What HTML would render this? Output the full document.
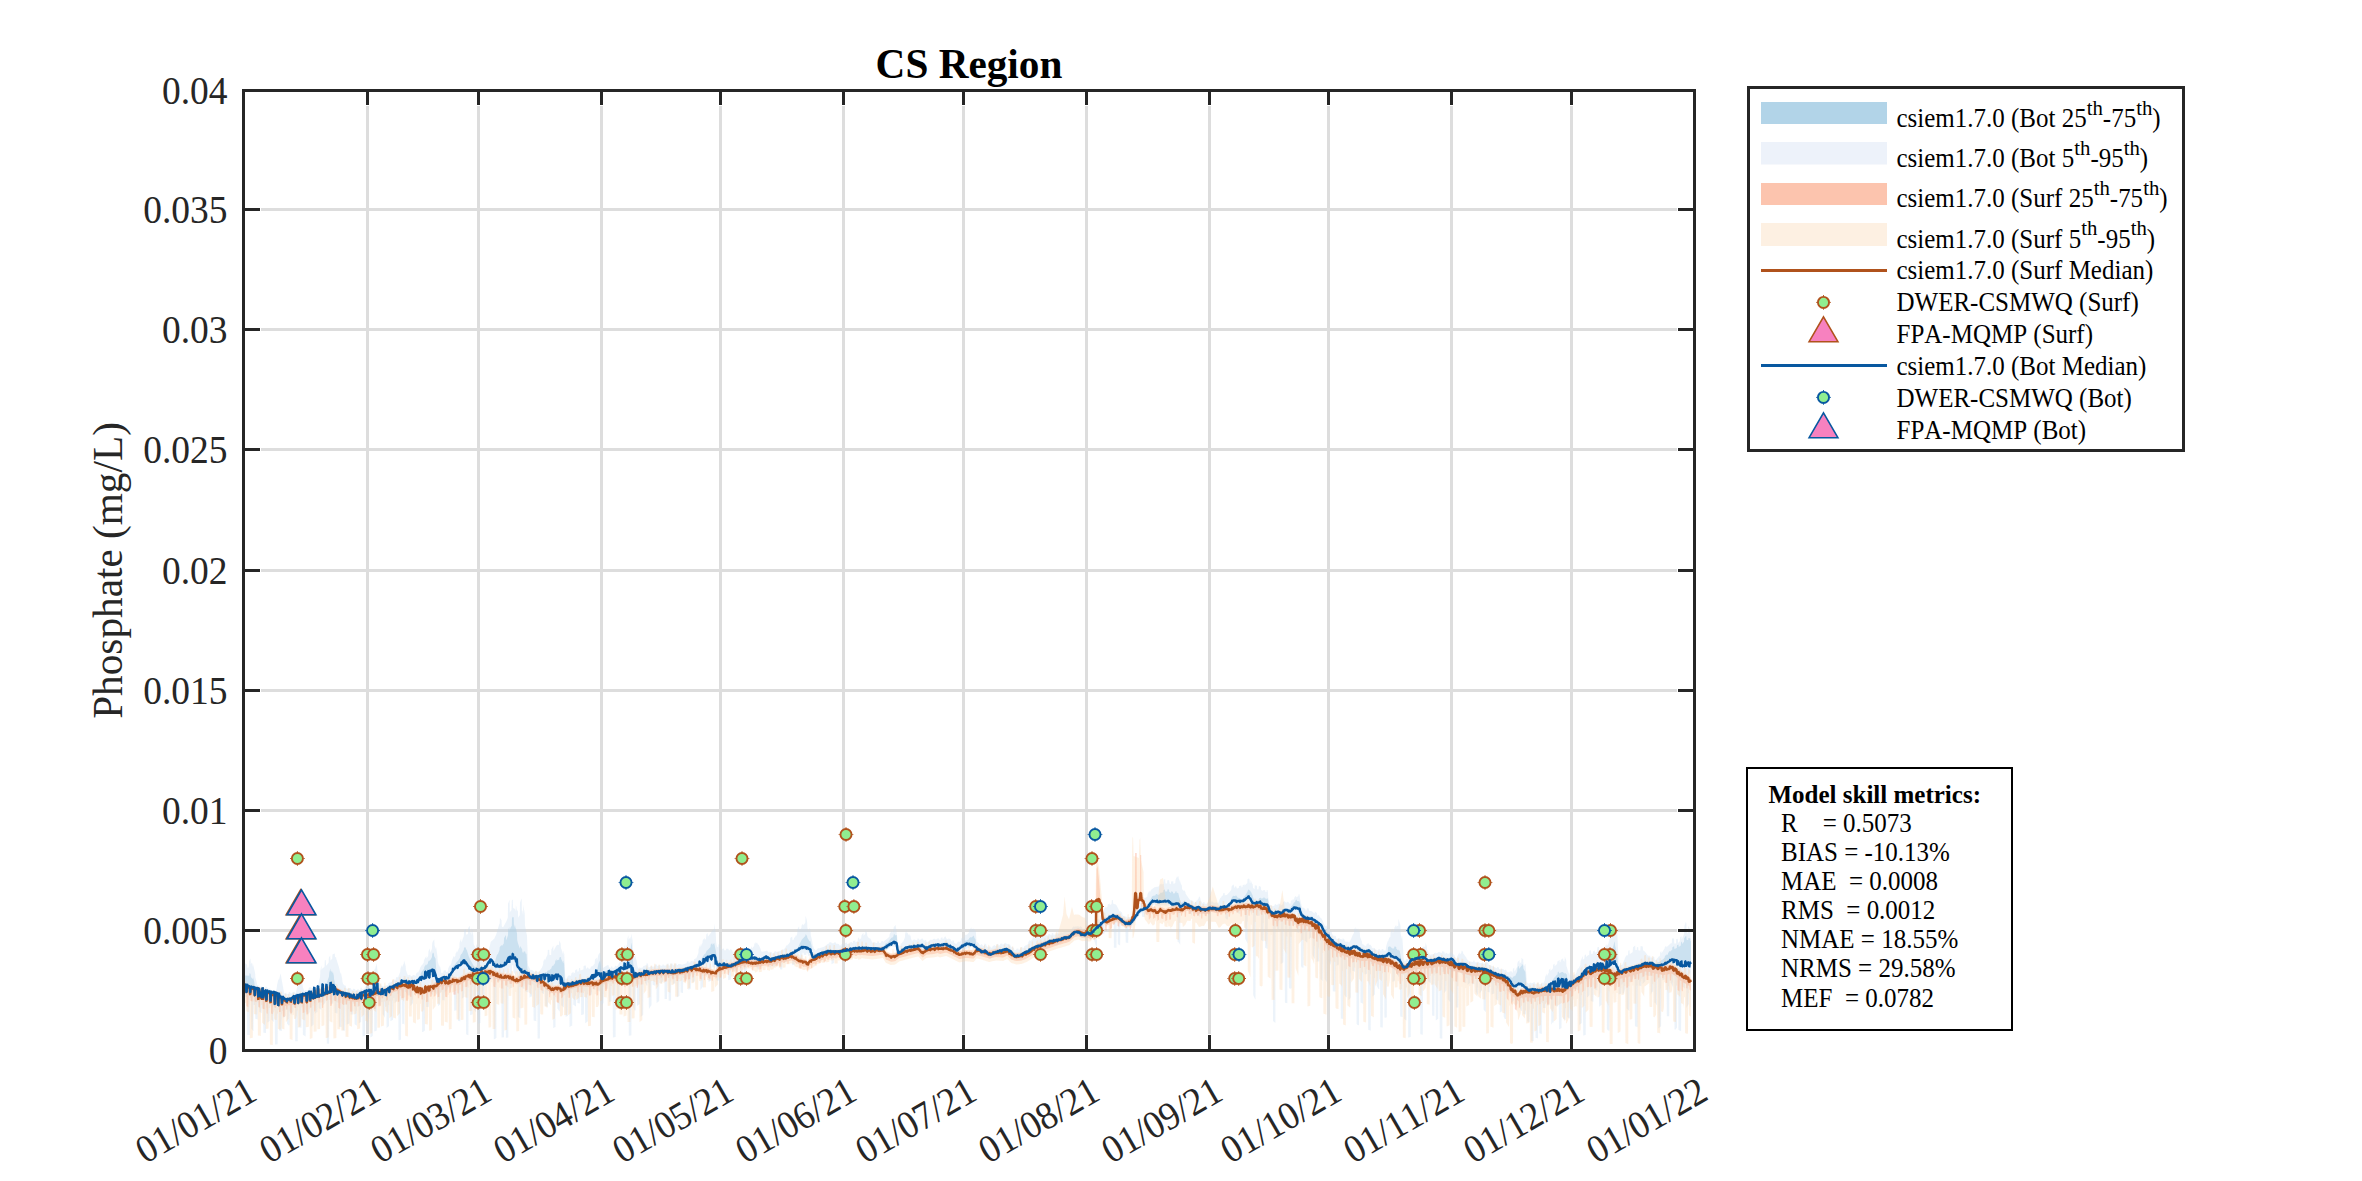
<!DOCTYPE html>
<html><head><meta charset="utf-8"><title>CS Region</title>
<style>html,body{margin:0;padding:0;background:#fff;overflow:hidden}body{width:2362px;height:1181px;font-family:"Liberation Serif",serif}</style>
</head><body>
<svg width="2362" height="1181" viewBox="0 0 2362 1181" style="display:block;font-family:'Liberation Serif',serif;font-kerning:none;font-variant-ligatures:none">
<rect width="2362" height="1181" fill="#fff"/>
<path d="M367.5 106V1034M478.5 106V1034M601.5 106V1034M720.5 106V1034M843.5 106V1034M963.5 106V1034M1086.5 106V1034M1209.5 106V1034M1328.5 106V1034M1451.5 106V1034M1571.5 106V1034M261 930.5H1677M261 810.5H1677M261 690.5H1677M261 570.5H1677M261 449.5H1677M261 329.5H1677M261 209.5H1677" stroke="#dddddd" stroke-width="3" fill="none"/>
<clipPath id="cp"><rect x="245" y="92" width="1448" height="957"/></clipPath>
<defs><g id="cs"><circle r="5.55" fill="#90ee90" stroke="#b0521c" stroke-width="1.9"/><path d="M0 -6.3V-7.3M0 6.3V7.3M-6.3 0H-7.3M6.3 0H7.3" stroke="#b0521c" stroke-width="1" fill="none"/></g><g id="cb"><circle r="5.55" fill="#90ee90" stroke="#0858a0" stroke-width="1.9"/><path d="M0 -6.3V-7.3M0 6.3V7.3M-6.3 0H-7.3M6.3 0H7.3" stroke="#0858a0" stroke-width="1" fill="none"/></g></defs>
<g clip-path="url(#cp)">
<path d="M244.6 975.4L245.2 975.5L249.3 975.7L249.5 973.3L250 973.3L250.2 973.6L250.6 974.3L250.9 976.9L252.8 979.2L253 977.3L253 977.2L254.3 982.2L254.5 984.5L256 989.3L256.7 989.6L260.3 990.9L260.8 991L261 990.9L261.9 991.2L262.2 991.4L264.8 992.2L265.1 992L266 992.3L266.3 992.6L269.1 993.5L269.3 993.2L270.5 993.6L271 993.8L271.2 994.2L272.8 994.8L276.8 996.3L277.1 996.2L278.2 996.7L278.5 996.9L278.6 997L280.9 997.4L281.1 997.1L283.1 997.5L283.3 998L284.5 998.2L285.7 998.5L288.8 998L288.8 998L289.1 997.6L290.1 997.4L290.3 997.7L292.5 997.4L295.9 997L296.6 996.8L296.9 996.4L297.9 996.2L298.2 996.5L300.9 995.9L301.2 995.5L302.6 995.3L302.8 995.6L305 995.1L305.2 994.9L306 994.7L306.2 994.6L306.5 994.7L309.2 993.6L309.5 993.1L311.4 992.4L311.6 992.7L312.7 992.3L312.9 992L314.9 991.2L315.1 991.3L316.2 990.9L316.5 990.8L316.7 990.5L317.9 990.1L318.2 990.3L320.3 989.6L320.6 989.3L321.6 989L321.8 989.2L324.6 988.3L325 988.2L326.4 984.2L329 976.4L329 976.3L329.3 972.5L330.4 968.5L330.6 971.5L331 970.4L332.4 973.3L332.5 972.8L332.7 970.9L333.8 975.5L334 978.5L334 979L336.5 989.5L337 991L337.1 991L337.3 990.8L339.3 991.1L339.5 991.5L340.2 991.6L340.4 991.3L342.5 991.7L342.7 992.1L344.9 992.5L345.1 992.4L346.7 992.7L346.8 992.7L347 993L348.1 993.2L348.4 992.8L349.6 993.1L349.8 993.5L352.3 994L352.6 993.9L354.6 994.3L354.8 994.5L356.4 994.8L356.7 994.6L356.9 994.7L357.7 994.4L357.9 994.6L360.1 994L360.4 993.5L361.7 993.1L362 993.5L364 992.9L364.6 992.6L364.9 992.4L366.5 991.8L366.7 991.9L368.8 991.1L372.1 989.8L372.4 989.3L372.6 988.5L374.4 985.5L374.7 985.5L375.1 984.8L376.4 983L376.7 982.7L378.2 988.8L380.2 989.8L380.6 989.9L380.9 989.6L382.9 990L383.1 990.4L384.7 990.7L384.9 990.4L385.3 990.5L386.3 989.6L386.6 989.8L388.4 988.4L388.7 987.8L390 986.7L390.3 986.9L390.4 986.8L392.4 985.6L392.7 985.1L394.8 983.9L395 984.1L396.5 983.3L396.7 982.8L397.5 982.3L398.3 981.8L398.6 982L400.5 980.7L400.7 980.3L401.7 979.7L401.9 979.8L403.6 978.7L404.4 979.1L404.6 978.8L406.1 979.5L406.4 980.1L407.6 980.7L407.7 980.7L408 980.5L409.2 980.3L409.5 980.5L412.6 980.2L412.8 979.8L414.5 979.6L414.7 980L416.3 979.8L416.5 979.4L417.7 979.3L417.8 979.5L417.9 979.6L418 979.5L420.5 974.9L420.7 973.8L422.1 971.1L422.3 971.3L422.9 970.3L424.1 968.8L424.3 967L426 964.6L426.2 964.2L426.5 965.6L427.9 963.6L428 962.8L428.1 961.9L429.2 960.1L429.4 961.3L431 959L432 956.9L432.2 954.3L433 952.4L433.1 952.4L433.9 953.7L434.1 956.3L435.5 958.4L435.6 959.8L436.5 975L436.5 975.5L436.7 976.1L437.6 979L438.2 978.8L438.4 978.8L439.6 978.3L439.8 978L441.6 977.2L441.8 977.3L443.2 976.6L443.5 976.6L443.8 976.4L444.8 976.2L445.1 976.3L447.7 975.7L447.9 975.4L448.3 975.3L449 974.1L449.3 974.1L452 969.7L452 969.6L452.3 968.6L453.4 965.9L454 965.1L454.2 965.5L455.6 963.8L455.9 963.1L457.3 961.2L457.6 961.3L458.4 960.2L460 957.8L460.1 957.6L460.3 956.1L461.4 953.5L461.7 954.2L463.9 949.6L464 948L464.1 947.5L465.8 947.4L466 949.5L466.6 949.6L468.2 954.6L468.6 955.9L470 959.3L471.8 962.4L473.7 965.8L476 967.9L476.1 967.9L477.8 967.5L479.5 967.5L479.7 967.2L480.2 967.2L481.5 966.6L481.7 966.9L483.4 966.2L485.2 965.5L488 962L490.8 958.3L491.3 959L491.5 959L492 959.6L492.9 960.1L493.2 960.8L494.4 961.6L495.2 961.1L495.4 960.2L495.4 959.9L497.3 953.7L497.6 955.1L499.5 950L499.7 947.6L500 946.7L500.5 946.3L501.6 944.7L501.8 946.3L503.8 943.5L504.1 938.1L506 935.1L506 935.8L506.2 940.1L506.6 939.5L508 935.3L508.2 930.2L509.2 927L509.5 931L510.6 927.6L511 927.1L511.8 925.7L512 918.3L512.7 916.8L513.7 917.4L513.9 924.6L514 924.6L515.2 928.6L515.3 929.5L515.6 925.2L516 928.5L517 933.5L517.2 940.1L517.8 942.8L519.8 948.7L520 946.9L520.1 945.9L521.8 948.8L522.1 948.9L522.4 952.3L523.5 952.7L523.8 951.3L525.3 951.8L525.5 953.4L526.5 953.7L526.9 960.5L527.5 970.4L527.5 971.1L527.7 971L529.1 972.4L529.3 973L531 974.6L531.6 974.8L531.9 974.6L532.8 975L533.1 975.3L535.8 976.2L536 976.1L537.1 976.5L537.3 976.4L537.5 976.5L539.7 975.8L539.9 975.5L541.9 974.8L542.1 974.9L543 974.7L543.2 974.5L543.5 974.3L543.7 973.6L545.7 972L546 972.7L547 972L547 972L547.3 971.1L548.5 970L548.7 970.7L551.3 968.6L551.4 968.4L551.7 967.1L552 966.5L552.7 965.5L552.9 966.3L555 963.3L555.3 960.9L556.4 959.1L556.7 961.1L557 960.7L557.4 960.1L559.2 959.7L559.4 957.5L561 957L561.2 959.3L561.4 959.3L561.4 959.3L563.4 963.4L563.6 960.4L564 961.3L564.5 972.3L565 982.8L565.1 982.8L565.4 983L566.9 982.7L567.2 982.3L569 981.9L569.2 982.2L571 981.8L571.2 981.4L571.6 981.3L573.3 981L573.5 981.3L574.8 981.1L575 980.8L576.2 980.6L576.5 980.7L579.4 980.2L579.7 979.9L581.1 979.6L581.4 979.8L581.8 979.7L583.3 979.3L583.5 978.9L584.5 978.7L584.7 979L587.5 978.2L587.8 977.8L588.8 977.6L589.1 977.9L589.9 977.7L591.2 976.3L591.5 975.9L592.6 974.8L592.9 974.7L595 972.6L595.1 972.5L595.3 972.1L596.8 970.8L597 970.8L597.1 970.4L598.5 963.7L598.7 963.3L600 960.6L602 975.5L602.1 975.6L602.6 975.1L602.8 974.4L604.9 972.2L605.1 972.3L606.7 970.5L606.9 970.6L607.2 970.4L608.7 971L608.9 971.4L611.1 972.2L611.4 972L612.2 972.3L613.3 971.8L613.5 971.9L614.8 971.3L615.1 970.9L616.2 970.3L616.5 970.5L618.3 969.5L619.2 968.6L619.5 968L621.4 966.1L621.6 966.2L622.4 965.5L622.8 965.3L623 964.8L624.6 964.3L624.9 964.6L626.6 964.1L626.9 963.6L628 963.2L628.5 959.6L628.8 957.6L629.1 957.8L630.7 950.5L631 945.7L631.5 942.6L632.6 954.3L632.9 958.8L633.2 963.5L634 972.1L634.6 973.6L635 973.5L635.3 973.3L636.7 972.9L636.9 973L638.7 972.6L639 972.2L639.9 971.9L640.1 972.2L642.5 971.6L642.7 971.3L642.7 971.3L644.8 969.8L645 969.8L646.8 968.5L646.8 968.5L647 968.4L648.6 970.7L648.8 971.5L648.8 971.6L650.9 971.2L654.9 970.5L655.1 970.4L656.3 970.1L656.6 970.3L658 970L658.5 970L658.8 969.6L659.8 969.6L660 970L662.6 969.9L662.9 969.4L664.9 969.4L665.2 969.8L666.9 969.7L667.1 969.4L668.1 969.3L668.4 969.7L671 969.6L671.2 969.4L672.3 969.4L672.6 969.5L673.2 969.5L674.6 969.4L678.6 969L678.9 968.6L680.2 968.5L680.4 968.8L682.3 968.6L682.5 968.4L683.4 968.4L684.3 968.1L684.5 968.2L686 967.7L686.3 967.4L687.4 967.1L687.6 967.2L690.7 966.3L693.5 965.5L694.8 964.7L695 964.1L696.5 963.3L696.7 963.5L698.4 962.5L698.6 962.2L698.7 962.1L700 961.3L700.7 960.2L700.9 960.2L702.7 957.6L702.9 956.5L703.7 955.2L704.5 953.8L704.8 954.5L706 952.6L706 952.6L706.3 951.5L707.3 949.9L707.5 950.4L707.8 950L710 947.5L710.2 947.4L710.5 947.1L710.7 944.8L712.2 943L712.4 944.9L714.2 942.9L714.2 942.9L714.5 944.5L716 951.9L716.8 957.3L718 961.5L718.3 961.8L718.5 962.8L719.3 962.7L719.5 963L722.1 962.6L722.4 962.3L723.4 962.1L723.6 962.1L723.8 962.5L726.3 963L726.6 962.9L728.4 963.3L728.6 963.5L730.5 963.9L730.6 963.9L730.8 963.7L732.8 963.2L733 963.3L734.1 963L734.3 962.7L734.5 962.6L736 961.4L736.2 961.4L737.7 960.1L738 959.6L738.6 959L739.7 958.6L740 958.8L742.1 957.9L742.3 957.4L743.5 956.9L743.8 957.2L745.7 956.3L745.7 956.3L745.9 956L747 956L747.2 956.3L749.8 956.3L750 955.9L751.5 955.9L751.7 956.3L754.2 956.3L754.4 956L754.9 956L756.5 956.6L756.8 956.9L758.4 957.5L758.7 957.4L760.1 957.9L760.3 958.1L761 958.3L761.6 958L761.8 957.5L762.8 956.9L763.1 957.1L765.8 955.5L766 955.1L766 955.1L767.9 956L768.1 956.3L769.5 957L769.8 956.8L771.1 957.5L771.1 957.6L771.3 957.8L773.6 957.1L773.8 956.8L775.2 956.4L775.4 956.6L778.1 955.7L781.3 954.8L781.8 954.7L782.1 954.4L783.9 954.1L784.2 954.2L786.3 953.9L786.5 953.6L788.5 953.2L788.7 953.4L789.4 953.3L789.7 953.1L789.9 952.7L791.3 951.8L791.6 951.8L794.1 950.2L794.3 949.7L795.5 948.9L795.9 948.7L796.1 948.8L798 947.8L798 947.7L798.3 947L800.2 942.6L800.5 942.5L801.6 940.1L801.8 939.8L802 939.5L805.3 935.9L805.5 934.5L805.7 934.3L806.7 935.6L807.1 936.3L807.4 937.8L809 940.4L809.9 941.6L810.2 940.4L810.2 940.5L811.5 945.4L812.1 951.4L812.4 954.1L812.5 955L812.8 955.8L813.9 955.2L814.1 954.9L815.8 954.1L816.1 954.2L817.7 953.4L817.9 953L819.7 952.1L819.9 952.2L820 952.2L821.8 951.7L822 951.2L823.5 950.8L823.8 951L826 950.3L826.2 949.9L827.6 949.5L827.9 949.7L828 949.7L829.9 949.8L830.1 949.4L832 949.5L832.3 949.9L833.6 950L833.8 949.8L835.6 949.9L835.8 950.1L837.2 950.2L837.2 950.2L841.2 949.4L841.5 948.9L842.9 948.7L843.1 949L845.3 948.6L845.5 948.2L846.6 948L846.8 948.3L847.3 948.2L849 947.8L849.3 947.4L850.7 947.1L851 947.5L853 947L853.3 946.8L854.4 946.6L854.7 946.7L857.5 946.2L857.7 945.9L858.9 945.9L859.2 946.2L861.6 946.2L861.9 945.8L863.1 945.8L863.4 946.1L864.6 946.2L865.1 946.2L869.8 946.8L870 946.7L871.5 946.9L871.7 947L872.7 947.2L873.6 947.2L873.8 946.9L875.2 946.9L875.5 947.2L877.7 947.2L878 947L879.7 947L879.9 947.2L881.1 947.2L881.4 946.8L882 946.8L882.9 946.5L883.2 946.2L883.5 946.3L884.9 945L885.1 944.1L886.4 942.9L886.7 943.3L888 942.2L889.3 940.9L889.6 940L890 939.5L891.7 937.5L891.9 938.1L893.4 936.4L893.7 934.8L894.1 934.3L894.6 934.1L894.8 935.5L896.6 934.9L896.6 935L896.8 936.8L897 939.5L897.6 947.5L898.1 951.1L898.2 951L898.5 951L901.1 949.4L901.4 948.8L903.4 947.6L903.6 947.8L905.4 946.7L906.3 946.2L908.8 945.6L909 945.4L910.6 945L910.9 945.2L912.9 944.7L913.1 944.5L913.4 944.4L914.4 944.3L914.6 944.5L917.2 944.2L917.5 944L918.8 943.9L919.1 944L921 943.8L921.2 943.4L922.5 943.3L923.3 943.9L923.5 944.4L924.9 945.4L925.1 945.3L926.6 946.4L926.9 946.2L927.1 946.4L928.5 945.7L928.7 945.4L930.8 944.3L931.1 944.4L931.7 944.1L932.7 944L933 943.7L934.3 943.5L934.6 943.7L936.8 943.4L937 943.2L937.8 943.1L938.1 942.9L938.8 943.2L939 943.5L940.2 944.1L940.7 943.9L941 943.4L943 942.6L943.2 942.9L945.2 942.1L945.2 942L945.4 942L946.4 942.5L946.7 942.8L949 944L949.3 943.7L950.3 944.2L950.4 944.3L950.6 944.8L952.4 945.9L952.7 945.9L953.8 946.6L954.1 946.9L956.4 948.3L956.6 948.2L956.9 948.4L958.6 946.7L958.9 946.7L960.5 945.1L961 944.9L961.3 944.5L962 944.2L963.1 943.1L963.4 943.2L964.3 942.4L964.5 941.5L965.9 940.1L966.1 940.7L966.6 940.4L968 939.8L968.9 939.2L969.1 938.3L970.7 937.1L971 937.8L972.7 936.6L972.8 936.7L973 935.8L973.1 935.5L974.1 936.6L974.4 938.1L975.5 939.2L976.3 946.2L977 946.9L977.2 946.7L977.8 947.3L978.9 947.9L979.1 948.5L980.7 949.4L980.9 949.4L982.2 950.2L982.5 950.5L982.8 950.7L984.9 949.2L985.1 949.3L985.3 949.1L986.8 950.2L987.1 950.7L989 952.1L989.3 952.1L990 952.6L990.9 952.1L991.2 952.1L992.6 951.4L992.9 950.9L994.6 950L994.9 950.3L995 950.2L996.5 949.9L1000.5 949.3L1000.8 949L1001.1 949L1002.4 948.6L1002.6 948.7L1005 948L1005.2 947.8L1006.2 947.5L1007.1 947.9L1007.3 948.2L1008.3 948.7L1008.5 948.5L1010.3 949.4L1010.5 949.6L1010.7 950.2L1012.1 951.8L1012.4 951.9L1013.9 953.7L1014.2 954.1L1014.3 954.3L1016.9 954L1017.1 953.8L1019.1 953.6L1019.4 953.8L1020.4 953.7L1020.6 953.6L1020.9 953.1L1022.2 952.3L1022.5 952.5L1024.1 951.6L1024.3 951.2L1025.5 950.4L1025.8 950.3L1026 950.4L1028 949.2L1028.3 948.7L1029.8 947.8L1030 948L1030.6 947.7L1032.5 946.9L1032.7 946.6L1033.6 946.2L1033.9 946.2L1036.4 945.2L1036.6 944.7L1037.7 944.3L1038.1 944.1L1038.3 944.4L1040.5 943.6L1040.8 943.1L1042.6 942.4L1042.8 942.8L1044.6 942.1L1044.8 941.8L1044.8 941.7L1046.2 941.1L1046.5 941.2L1048.2 940.4L1048.5 939.8L1049.9 939.1L1050 939.1L1050.3 939.5L1051.8 939.3L1056.4 938.6L1056.7 938.4L1057 938.3L1057.9 938.1L1058.2 938.1L1060.1 937.5L1060.3 937.3L1061.8 936.8L1062.1 936.9L1064.1 936.3L1064.1 936.3L1064.4 936L1065.6 935.8L1065.8 936L1067.7 935.7L1069.2 935.5L1072 932.9L1072.2 932.4L1074.1 930.7L1074.3 930.8L1074.4 930.9L1076.4 930.6L1076.7 930.4L1077.7 930.3L1078 930.4L1078.3 930.4L1080.5 932.1L1080.7 932.1L1081.4 932.7L1081.6 932.7L1081.8 932.9L1083.6 932.9L1083.8 932.7L1085.5 932.7L1085.8 932.3L1086 932.3L1087.5 930.9L1088 931.2L1088.3 930.9L1089.3 931.4L1089.5 931.9L1090.5 932.4L1091.9 931L1095.7 927.2L1096 926.8L1096.6 926.1L1098 924.8L1098.2 924.7L1099.8 923.2L1100 922.5L1101.5 921.1L1101.7 921.2L1102.7 920.2L1103.6 919.6L1103.8 919L1105.5 917.9L1105.7 918.1L1107.5 916.9L1107.7 916.3L1107.8 916.3L1109.5 915.1L1109.7 915.4L1112 913.9L1112.3 913.3L1112.4 913.2L1113.3 913.5L1113.6 913.9L1115.4 914.4L1115.6 914.2L1116.8 914.5L1117.1 914.9L1118 915.1L1119.5 916.4L1119.7 916.2L1120.9 917.2L1121 917.5L1121.2 917.8L1123.9 920.6L1124.2 920.6L1125.1 921.5L1126.1 921.5L1126.4 921.7L1128.1 921.7L1128.4 921.4L1130.1 921.4L1130.2 921.5L1130.3 921.5L1132.2 919.4L1132.4 918.8L1133.2 917.9L1133.8 917L1134.1 917L1135.8 914.6L1136 913.9L1137.3 912.1L1137.5 912.2L1138.3 911.1L1139.4 909.9L1139.7 909.5L1141.3 907.8L1141.5 907.7L1141.8 907.9L1143.3 907.2L1146 906.1L1147.4 904.9L1147.8 904.2L1151.5 897.7L1151.6 897.6L1151.9 896.7L1153.5 895.4L1153.8 896.1L1154.5 895.5L1155 895.5L1155.6 895.3L1155.8 894.2L1157.3 893.8L1157.6 895L1158.6 894.8L1160 894L1160.2 893L1161.3 892.4L1161.6 893.1L1163.2 892.1L1163.5 890L1163.7 889.9L1164.9 889.4L1165 890L1165.2 891.5L1167.2 891.5L1167.2 891.3L1167.5 889.6L1168.1 889.3L1169 889.8L1169.2 891.7L1171 892.9L1171.3 891.2L1172 891.6L1172.2 891.8L1172.9 891.7L1173.1 893.5L1175.1 893.2L1175.4 891.4L1176.5 891.2L1176.7 892.9L1178 892.7L1178.3 893.3L1179.3 897.6L1179.6 898L1180.3 901.2L1180.8 902.1L1181 902.7L1181.1 902.7L1183.4 901.9L1183.7 901.5L1185.2 901L1185.4 901.1L1185.5 901.3L1186 901.8L1187.2 902.5L1187.4 902.3L1188.4 902.9L1188.6 903.3L1190.5 904.5L1191.1 904.9L1191.3 904.6L1193 905.6L1193.2 906.2L1194.5 907L1195.1 906.8L1195.3 906.3L1196.4 905.9L1196.7 906.2L1198.6 905.5L1198.9 905.7L1199.1 905.7L1200.5 906.9L1200.8 907.3L1201.7 908L1202.8 908L1203.1 907.6L1204.5 907.6L1204.8 908L1206.7 908L1207.2 907.7L1207.4 907.3L1209.2 906.2L1209.5 906.2L1209.8 906L1210.9 906.2L1211.1 906L1212.5 906.2L1212.7 906.5L1214.7 906.9L1215 906.6L1217.1 907L1217.3 907.4L1217.9 907.5L1218.9 906.9L1219.2 906.5L1220.7 905.5L1221 905.6L1222 905L1223 905L1227 905L1227.1 904.9L1227.3 904.5L1228.9 902.9L1229.2 902.8L1230 901.2L1230.1 901L1231.4 898.9L1231.7 897.9L1233.2 895.5L1233.3 895.5L1233.5 896.1L1235.4 896L1235.6 895.4L1236 895.3L1237 896.4L1237.2 897.1L1237.2 897.2L1238.7 897.9L1239 897.7L1240 898.3L1240.5 899.1L1240.8 899.3L1243 898.9L1243.2 898.5L1243.3 898.4L1244 896.8L1244.5 895.9L1244.8 896.2L1247.3 891.9L1247.6 890.9L1248.4 889.5L1248.7 889.4L1249 890L1249 890L1250.4 891.1L1250.8 892.1L1251.1 892L1252 894.3L1252.3 894.5L1252.5 895.2L1252.6 895.5L1254 900.3L1254.5 901.4L1254.8 901.3L1255.1 901L1257.1 900.4L1257.3 900.6L1258.6 900.2L1258.8 899.8L1259 898.6L1259.6 898L1260.8 897.7L1261.1 898.5L1263.3 898.3L1263.5 897.5L1263.6 897.4L1264 897.2L1264.5 897.4L1264.7 898.3L1267.2 898.9L1267.5 898L1267.7 898L1268.8 904.5L1269 906.4L1269 907.4L1269.7 909.5L1270.7 910.2L1271 910.2L1272.2 911L1272.4 911.3L1272.8 911.6L1274.4 911.1L1274.6 910.7L1275.9 910.3L1276.1 910.6L1277.9 910.1L1279 910.6L1279.2 910.4L1280.4 911L1280.7 911.5L1280.9 911.6L1282.5 910.2L1282.7 909.7L1284 908.6L1284.2 908.7L1285 908L1287.1 908.7L1287.3 908.5L1288.5 908.8L1288.8 909.2L1290 908.7L1290 908.6L1290.3 908.3L1290.5 907.4L1291.5 905.9L1291.7 906.2L1294.1 902.5L1295.1 902L1295.4 900.4L1296.7 899.6L1296.9 901.1L1297 901L1298.8 901.2L1299.2 901.2L1300 903.5L1301.7 910.9L1302.8 913.1L1303 913.3L1303 914.3L1304 915L1304.3 915.4L1305.3 916.2L1306.5 916.3L1306.8 916.1L1308 916.2L1308.3 916.4L1310.5 916.6L1310.8 916.3L1311.4 916.3L1312.2 916.9L1312.5 917.4L1314.2 918.6L1314.4 918.6L1315.7 919.5L1316 919.9L1316.5 920.2L1318.7 921.8L1319 921.8L1320.5 922.9L1320.8 923.2L1321.5 923.8L1322.4 925.6L1322.6 926L1323.6 928.1L1323.9 928.8L1324.6 930.4L1326.6 932.3L1326.8 932.4L1328.3 933.8L1328.5 934.3L1328.7 934.4L1330.3 936.3L1330.6 936.4L1332.5 938.6L1332.7 939L1332.8 939.1L1334.1 940.4L1334.4 940.3L1335.8 941.7L1336.1 942.4L1336.8 943.1L1338.5 943.1L1338.7 942.8L1340.8 942.8L1340.9 942.9L1341 943.2L1342.3 943.9L1342.6 943.7L1344 944.5L1344.2 945.1L1345.9 946.1L1346.2 946.2L1346.5 946.1L1348.5 946.6L1348.8 946.8L1350 947.1L1350.2 947L1353 945.1L1354.1 945.1L1354.3 945L1356 945L1356.3 945.1L1357.1 945.1L1358.2 946L1358.4 945.9L1359.6 946.9L1359.9 947.4L1360.2 947.7L1362.4 948.8L1362.6 948.5L1364.2 949.2L1364.5 949.8L1365.2 950.2L1366.1 949.9L1366.3 949.4L1368.3 948.7L1368.6 948.9L1369.3 948.7L1370.4 949.9L1370.7 950L1372.4 952L1372.7 952.2L1373 952.5L1374.2 953L1374.4 952.9L1376 953.5L1376.3 953.9L1378.2 954.7L1378.5 954.5L1379.6 954.5L1379.9 954.8L1382.2 954.8L1382.4 954.6L1383.5 954.6L1383.7 954.8L1385.6 954.8L1386.3 954.1L1386.6 953.5L1387.6 952.6L1387.8 952.8L1388 947.4L1389.1 946.2L1389.8 946.8L1390 946.3L1391.7 947.9L1392 947.8L1392.2 948.5L1394.1 948.4L1394.3 946.7L1395 946.6L1396.2 947.1L1396.4 948.9L1396.7 949L1398.2 950.8L1398.5 949.4L1399.8 951L1400 952.6L1400 953L1400.2 953.5L1402 963.2L1402.3 963.9L1402.6 964.1L1403.2 965.5L1404.2 965.1L1404.4 965.4L1406.3 964.6L1406.6 964.3L1407.3 964L1408.4 962.3L1408.7 962.2L1409.7 960.6L1410 959.9L1411.1 958.2L1411.3 958.2L1414.4 957.3L1414.7 956.9L1415.7 956.6L1416 956.8L1416.4 956.7L1417.8 956.5L1421.5 955.9L1421.8 955.5L1422.7 955.4L1423 955.7L1423.5 955.6L1425.5 957.2L1425.8 957.1L1427.1 958.1L1427.3 958.6L1428.1 959.2L1429.7 958.9L1430 958.5L1431.2 958.3L1431.5 958.7L1433.7 958.3L1434 957.9L1434.7 957.8L1435.6 957.4L1435.9 957.8L1438 957L1438.2 956.7L1438.8 956.5L1439.8 956.7L1440 956.9L1441.4 957.2L1441.7 956.9L1443.7 957.3L1443.9 957.6L1445.6 957.9L1445.8 957.8L1446.8 958L1446.9 958.1L1447 958.2L1449.5 957.7L1449.8 957.4L1450.9 957.1L1451.2 957.3L1452 957.2L1453.3 958.9L1453.5 959.1L1454.5 960.4L1454.8 961L1456 962.8L1457.4 962.8L1461.6 962.8L1461.9 962.5L1463.3 962.5L1463.5 962.8L1465.2 962.8L1465.7 963.1L1465.9 963.1L1467.6 964.4L1467.9 964.8L1469.2 965.8L1470 965.9L1470.2 965.5L1472.3 965.8L1472.5 966.2L1473.3 966.3L1473.5 966.2L1474.5 966.3L1474.7 966.5L1477.4 966.8L1477.4 966.8L1477.7 966.6L1479.5 966.8L1479.7 967.1L1481.2 967.3L1481.5 967L1483.5 967.3L1483.8 967.6L1485.5 967.8L1485.8 967.9L1486 967.6L1487.8 968.2L1488.1 968.7L1489.7 969.2L1490 968.9L1491.6 969.4L1492.1 969.7L1492.3 970.2L1493.7 970.9L1497.2 972.7L1497.4 972.4L1497.7 972.6L1498.8 972.8L1499 973.2L1501.3 973.7L1501.5 973.5L1503.2 973.9L1503.4 974.1L1504.8 974.4L1505.2 974.7L1505.5 974.6L1506.5 975.3L1506.7 975.9L1508 976.8L1508.9 976.5L1509.6 976.8L1509.8 976.5L1511.4 977.1L1511.6 977.8L1511.9 978L1513 977.4L1513.2 976.7L1514 976.2L1514.6 975.8L1514.8 976.5L1515 976.4L1517.2 971.7L1517.5 968.1L1518 966.7L1518.8 965.8L1519 969L1521.1 966.3L1521.6 965.9L1521.9 963.8L1522 963.7L1523.2 966.1L1523.4 968.4L1525.1 971.7L1525.2 971.8L1525.3 971.1L1525.4 972.1L1526.3 985.9L1527.5 986.9L1527.8 987.4L1528.9 988.4L1529.2 988.2L1529.2 988.2L1530.4 987.6L1530.7 987.9L1532.2 987.1L1532.9 987.3L1537.1 988.6L1537.3 988.3L1537.3 988.3L1539 988.2L1539.2 988.5L1541.5 988.2L1541.8 987.9L1542.4 987.8L1543.4 987.6L1543.7 987.8L1545.5 987.4L1545.7 987L1547.4 986.6L1547.7 986.8L1548.5 986.6L1549 986.3L1549.2 985.9L1550 985.4L1550.4 984.6L1550.7 984.6L1552.6 981.5L1552.6 981.3L1552.9 980.1L1554.5 977L1554.8 977.8L1556 975.8L1556.6 975.1L1557.5 974.6L1557.7 972.3L1558.8 971.5L1559 973.6L1560.9 972.6L1562 971.9L1562.7 972L1564.7 973.7L1564.9 972.8L1566.8 974.5L1567 975.8L1567.2 978.3L1567.8 982L1568 983L1569.1 982.4L1569.4 981.9L1571.4 980.9L1571.7 981.2L1572.9 980.5L1573.4 980.2L1573.7 979.6L1574.7 978.9L1574.9 979.1L1577.2 977.5L1577.5 976.9L1578 976.6L1578.9 975.7L1579.2 975.9L1580.7 974.5L1581 974L1582.6 972.5L1582.9 972.6L1583 972.4L1584.9 970.8L1585.1 970.1L1586.3 969.1L1586.6 969.2L1588.1 967.8L1588.9 967.6L1589.2 967.3L1591.2 966.8L1591.4 966.9L1592.5 966.5L1592.7 966.1L1593.2 965.9L1593.7 965.7L1593.9 966L1596.5 964.7L1596.7 964.2L1597.8 963.6L1598.1 963.9L1598.3 963.8L1601.2 964.1L1603.4 964.3L1605.1 963.8L1605.4 963.3L1607.2 962.8L1607.4 963.1L1608.3 962.8L1608.5 962.5L1608.5 962.4L1609.8 961.1L1610 961.1L1610.1 960.8L1612 952.1L1612.5 950.7L1612.8 949.6L1613.1 947.3L1614.5 941.3L1614.8 942.7L1615 945.6L1615.6 947.7L1616.5 953.1L1616.7 954.6L1616.9 954.7L1618 966.2L1618 966.7L1618.2 967.5L1619 969.2L1620.5 970.3L1621.5 970.9L1624 968.4L1624.5 968.2L1624.8 968L1626 967.7L1626.3 967.8L1628.5 967.2L1628.8 966.9L1630.7 966.4L1630.8 966.5L1630.9 966.6L1633 966L1633.3 965.7L1634.6 965.3L1634.8 965.5L1636.4 965L1636.6 964.5L1638.6 963.9L1638.8 964.3L1639.3 964.1L1640.5 963.6L1640.8 963.1L1642.8 962.3L1643 962.5L1644.5 961.9L1644.7 961.6L1645.2 961.4L1645.7 961.4L1645.9 961.6L1648.9 961.6L1649.2 961.2L1650.4 961.2L1650.7 961.6L1652 961.6L1652.4 961.9L1652.6 961.9L1653.7 962.7L1653.9 963.1L1655 963.9L1655.4 964L1656.3 963.6L1656.5 963L1658.4 962L1658.7 962.5L1660 961.8L1660.3 961.2L1660.4 961.1L1662 959.8L1662.3 959.5L1662.5 959.9L1664.6 957.8L1664.9 956.2L1666.4 954.5L1666.6 954.3L1666.8 955.6L1667.9 954.3L1668.2 952.9L1669.8 950.8L1670 951.4L1670.1 951.7L1671 950.4L1672.2 949.9L1672.4 947.2L1674.1 946.2L1674.4 949L1675.7 948.5L1676.8 948.1L1677 945.3L1678 944.8L1678.4 944.4L1678.7 947.1L1680.8 945.4L1681 942.5L1681.6 941.9L1682 941.3L1682.2 944L1684 941.8L1684.2 938.3L1685.8 936L1686.3 936.3L1686.6 939.8L1688.2 940.3L1688.4 937.9L1690.2 938.6L1690.4 941.1L1690.9 941.3L1691 941.3L1691 966.2L1690.9 966.2L1681.6 966.2L1675.7 963.7L1671 962L1666.4 964.9L1660.4 967.5L1655.4 967.9L1652 965.3L1645.2 965.3L1639.3 967.9L1630.8 970.4L1624 972.1L1621.5 974.7L1619 973L1615.6 965.3L1612 963L1608.5 966.5L1603.4 968L1598.3 967.5L1593.2 970.1L1588.1 971.6L1583 976.2L1578 980.7L1572.9 984.3L1567.8 986.8L1562.7 984.3L1556.6 985.3L1552.6 987.9L1548.5 990.4L1542.4 991.9L1537.3 992.4L1532.2 990.9L1529.2 992.4L1525.1 988.9L1521.1 986.3L1518 985.8L1515 988.4L1511.9 986.3L1508.9 981.3L1504.8 978.2L1497.7 976.7L1491.6 973.6L1485.5 971.6L1477.4 970.6L1469.2 969.6L1465.2 966.5L1456 966.5L1452 960.9L1446.9 961.9L1438.8 960.4L1434.7 961.9L1428.1 963L1423.5 959.4L1416.4 960.4L1411.3 961.9L1407.3 968L1403.2 969.6L1400.2 963L1396.7 959.5L1391.7 958.5L1389.1 955.5L1385.6 958.5L1378.5 958.5L1372.4 956L1369.3 952.4L1365.2 954L1360.2 951.4L1357.1 948.9L1353 948.9L1350 950.9L1345.9 949.9L1340.9 946.8L1336.8 946.8L1332.7 942.8L1328.7 938.2L1324.6 934.1L1321.5 927.5L1316.5 924L1311.4 920.4L1305.3 919.9L1301.7 917.4L1299.2 910.3L1294.1 909.8L1290 913.3L1285 911.8L1280.9 915.3L1277.9 913.8L1272.8 915.3L1269.7 913.3L1267.7 907.2L1263.6 906.2L1259.6 903.7L1254.5 905.2L1252 904.2L1250.4 900.1L1248.4 898.6L1243.3 902.6L1237.2 903.7L1233.2 902.1L1230.1 905.7L1227.1 908.7L1222 908.7L1217.9 911.3L1209.8 909.8L1206.7 911.8L1201.7 911.8L1198.6 909.2L1194.5 910.8L1190.5 908.2L1185.4 905.2L1180.3 908.7L1178.3 905.2L1172.2 906.2L1168.1 903.2L1167.2 903.5L1163.7 902.9L1158.6 903.7L1154.5 902.6L1151.5 903.7L1147.4 909.2L1141.3 911.8L1138.3 914.8L1133.2 921.9L1130.2 925.5L1125.1 925.5L1121 921.4L1118 918.9L1112.4 917.4L1107.8 920.4L1102.7 924L1096.6 930.1L1090.5 936.2L1087.5 934.6L1085.5 936.7L1081.4 936.7L1078.3 934.1L1074.3 934.6L1069.2 939.2L1064.1 940L1057 942.3L1049.9 943.3L1044.8 945.8L1037.7 948.4L1030.6 951.4L1025.5 954.5L1020.4 957.5L1014.3 958L1010.3 953.4L1006.2 951.4L1001.1 952.9L995 954L990 956.5L984.9 952.9L982.8 954.5L977.8 951.4L972.7 946.3L966.6 946.1L960.5 948.9L956.9 952.4L950.3 948.4L945.2 945.8L940.2 947.9L938.1 946.8L937.8 947.1L931.7 947.9L926.6 950.4L922.5 947.4L913.4 948.4L906.3 949.9L898.1 955L896.6 944.9L894.1 944.3L888 947.9L882.9 950.9L872.7 950.9L864.6 949.9L857.5 949.9L847.3 951.9L837.2 954L828 953.5L819.9 956L812.8 959.6L810.2 951.9L806.7 949.9L801.6 949.4L795.5 953L789.4 957L781.3 958.6L771.1 961.6L766 959.1L761 962.1L754.9 960.1L745.7 960.1L738.6 963.1L734.5 966.7L730.5 967.7L723.4 966.2L716.8 967.2L714.2 958L710.2 960.1L707.8 960.6L703.7 963.1L698.6 966.2L693.5 969.2L683.4 972.3L673.2 973.3L658 973.8L648.8 975.3L646.8 972.3L642.7 975.3L634.6 977.3L632.6 972.3L628.5 967.2L622.4 969.2L618.3 973.3L612.2 976.3L606.7 974.3L602.1 979.4L598.5 973.3L595 976.3L589.9 981.4L581.8 983.4L571.6 985.5L564.5 987L561.4 982.4L557.4 978.4L551.3 980.4L543.2 978.4L537.1 980.4L531 978.4L526.9 974.3L521.8 973.3L517.8 967.2L515.2 958L510.6 959.1L506.6 965.2L500.5 968.2L494.4 967.2L490.8 962.1L485.2 969.2L480.2 971.3L477.8 971.3L473.7 972.3L468.6 969.2L464 963.1L458.4 968.2L453.4 971.3L448.3 979.4L443.2 980.4L437.6 982.9L435.6 976.3L433.1 974.3L428 976.3L422.9 978.4L417.8 983.4L407.6 984.5L403.6 982.4L397.5 986.5L390.4 990.6L385.3 994.6L380.2 993.6L378.2 992.6L376.7 986.5L375.1 988.5L372.1 993.6L364 996.7L356.9 998.7L346.7 996.7L336.5 994.6L332.5 989.5L326.4 991.6L316.2 994.6L306 998.7L295.9 1000.7L288.8 1001.7L285.7 1002.2L278.6 1000.7L270.5 997.7L260.3 994.6L250.2 991.1L244.6 989Z" fill="#9ecae1" fill-opacity="0.5"/>
<path d="M244.6 965.2L245 965.5L245.2 963.2L247.1 964.8L247.4 967.4L248 967.9L248.8 966.7L249.1 961L250 959.4L250.2 959.1L250.5 958.6L250.8 964.2L252 962.5L253 967.1L253.2 964.3L254 968.2L255.2 973.8L255.4 977.4L256 979.8L257 983.8L257.3 985.6L257.6 985.1L258.7 985.5L258.9 986.2L260.3 986.7L260.7 986.8L261 986.4L262.6 986.8L262.8 987.4L265.3 988.2L265.5 986.4L267.2 986.9L267.5 988.8L268.5 989.1L268.7 988.3L270.3 988.8L270.5 989.4L270.6 989.8L272.5 990.5L272.8 989.9L274.7 990.6L275 991.4L276 990.9L276.7 988.3L277 985.3L278.6 978.2L278.6 978.8L278.8 980.6L280.3 974.7L280.6 973.6L284 992.2L284.6 994.1L284.9 992.7L285.7 992.9L286.4 992.7L286.6 994.1L288.5 993.8L288.7 992.2L288.8 992.2L290.2 991.9L290.5 993.5L292.2 993.3L292.5 992L294.6 991.7L294.9 992.9L295.9 992.8L296 991.9L296.6 989.9L296.9 988.2L298.4 982.8L298.7 983.4L300 979.2L300.4 980.1L300.6 978.4L302.6 984.6L302.8 986.9L304 990.3L304.8 991L305 990.2L306 990L306.1 989.9L306.4 990.6L308.6 989.7L308.8 987.8L311.1 986.9L311.4 988.6L313 988L313.2 986.3L314.8 985.7L315 987.1L316.1 986.7L316.2 986.2L316.3 985.7L317.7 985.3L318 986.1L318 985.3L320.1 976.8L320.3 970.9L321.4 965L321.6 970.1L322 968.8L324.5 966.9L324.8 960.6L325 960.4L325.8 959.7L326 963.9L326.1 965.8L326.4 965.5L328.6 962.8L328.9 957.5L329 957.2L330.2 955.7L330.5 960.6L331 960L332 958.8L332.2 958.4L332.5 954.7L332.5 954.4L334 953.7L334.8 953.5L335 957.3L336 957.1L336.5 959.4L336.8 960.3L337 961L339 967.6L340.6 974.1L340.9 972.5L342.2 978.5L342.4 981.4L343 983.7L344.6 985.8L344.8 984.7L346 986.5L346 987.5L346.3 988.6L346.7 988.7L348.3 989L348.5 987.7L350.9 988.2L351.1 989.6L352.8 989.9L353 988.7L355.1 989.1L355.3 990.4L356.6 990.7L356.8 989.7L356.9 989.7L358.6 989.2L358.9 990.2L360.3 989.7L360.6 987.9L361.7 987.6L361.9 989.3L364 988.7L364.6 988.4L364.9 986.8L367.1 985.9L367.4 987.4L367.9 987.2L368.1 985.4L369.6 984.8L369.9 986.5L370 985.6L372.1 980.4L372.2 979.7L372.5 976.3L374.4 968.4L374.6 970.8L375.1 968.8L376 965.8L376.1 966L376.3 963.5L376.7 964.3L377.7 972.3L377.9 976.3L378.2 978L379.8 984L380 983.5L380.1 984.1L380.2 984.2L381.2 984.4L381.5 985.9L384.3 986.5L384.5 986L385.3 986.1L386.8 984.9L387.1 985.3L388.1 984.4L388.3 983.3L389.6 982.3L389.8 983L390.4 982.6L391.9 981.7L392.2 980.6L394.5 979.3L394.7 980.1L395.8 979.5L396 977.6L397.5 976.8L397.6 976.7L397.9 978.3L398 977.4L400.2 971.8L400.5 968.7L401.7 965L402 967.4L403.6 963.5L403.6 963.4L403.8 963.9L404 960.2L405.7 965.9L405.9 970L407.6 974.8L408 975.6L408 976.5L408.3 975L410.3 974.8L410.6 976.2L412.4 976L412.7 975L414.4 974.9L414.7 975.8L415.8 975.7L416 973.8L416 973.8L417.7 971.9L417.8 972.3L418 972.8L418 972.8L419.6 969.7L419.9 968.3L421.7 964.9L421.9 965.5L422.9 963.7L423.7 962.7L423.9 960.1L424 960L426 956.5L426.2 956.1L426.5 958.5L428 956.2L428.2 955.8L428.5 951.1L430 948.5L430 949.2L430.2 952.7L431 951.1L431.9 949.1L432.2 943.2L433 941.1L433.1 941L434.3 939.6L434.5 945.6L434.6 945.5L435.5 948.4L435.6 948.7L435.7 949.5L436 946.6L436.5 949.8L437 952.9L437.5 957L437.6 959.2L437.8 961.7L439.5 967.4L439.7 964.7L441 970.5L441 971.6L441.3 973.3L443.2 972.4L443.3 972.4L443.6 970.7L445.7 970.3L446 971.9L448 971.5L448 970.4L448.2 968.5L448.3 968.4L449.7 964.9L449.9 966.6L451.4 963L451.7 960.9L452 960.2L453.4 956.8L453.9 956L454.1 957.4L455.4 955.7L455.6 953.5L456 953L456.9 950.9L457.1 952.5L458.4 949.6L459.4 947.4L459.6 942.7L460 941.5L461.1 938.6L461.3 942.6L462 940.9L463.8 936.1L464 930.9L464.1 930.3L465.8 929.1L466.1 934.8L466.6 934.6L467.9 934.1L468 931.7L468.1 927.9L468.6 927.5L469.9 925.8L470 929.5L470.1 932.4L470.6 931.9L471.5 935.1L471.7 928L473.3 935.4L473.6 943.2L473.7 943.8L474 944.7L476 948.4L476 947.9L476.2 943.8L477.8 947.5L477.9 947.9L478 949.6L478.2 952.4L479.7 954.2L480 951.2L480.2 951.4L481.6 952.8L481.8 955.9L483.8 957.4L484 956.8L484.1 956.5L485.2 957.1L485.3 957.1L485.6 957.9L487 957.3L487.1 957.3L487.3 955.9L488 952.7L488.4 951L488.6 951.1L490.3 943.8L490.8 941.8L491.6 941.1L492 940.7L494.4 938.4L495 937.1L495.4 936.2L496 934.9L499.5 923.5L499.7 923.8L499.9 917.8L500 917.8L500.5 918.7L501.5 919.9L501.8 926.3L503 927.5L506 922L506.6 920.9L507.8 917.5L508 905.4L508 903.7L509.6 899.8L509.8 912.7L510.6 910.9L511 910.5L511.5 909.9L511.8 900.6L512.7 899.6L512.8 899.4L513.1 908.4L513.7 907.9L514 908.2L515.2 909.5L515.6 911.6L515.9 905L516 905.6L517 910.7L517.8 910.5L517.9 910.2L518.2 917.8L519.8 915.1L520 903L520 902.5L521.7 898.3L521.8 904.9L521.9 911.1L522.3 910.2L523.1 915.4L523.4 904.6L524 909.2L524.7 913.6L525 925.5L526.5 933.3L526.9 935.3L527 935.9L527.3 944.7L527.5 948.6L527.5 949.6L528 965.6L529.8 968.4L530.1 969.5L530.8 970.3L531 970.1L531.1 969.7L533.1 970.4L533.4 971.2L535.3 971.9L535.5 971L537.1 971.5L537.3 971.4L537.6 972.3L539.6 971.6L539.9 970.4L541 969L541.4 967.8L541.6 968.5L543 964.7L543 964.5L543.2 963.4L543.3 961.8L544.6 958.4L544.9 960.4L547 955.7L547.2 955.3L547.5 955.2L547.8 950L549.2 949.7L549.5 955L551.1 954.9L551.3 951.1L551.4 949.2L552 948.6L553.3 945.6L553.5 951.3L554.8 948.6L556 946.2L557 945.1L557.4 944.7L559 945.1L559.2 940.7L559.4 940.7L560.6 943.3L560.9 948.1L561.4 949.2L561.4 949.3L562 950.7L563.2 954.9L563.4 950.5L564 953L564.3 954.2L564.5 959.2L565 971.8L565.2 976.7L565.3 977.7L565.5 978.8L567 978.5L567.2 977.3L568 976.1L569.5 975L569.7 976.2L571.2 975.2L571.4 973.3L571.6 973.2L573.5 971.7L573.7 973.5L575 972.6L575 972.1L575.2 970L577.1 969.2L577.4 971.7L578.7 971.2L579 968.2L580.1 967.8L580.3 970.6L581.8 970.1L583.4 969.4L583.6 966.1L585 965.4L585.8 965.5L586.1 968.7L586.7 968.7L587 967.6L588.3 967.7L588.6 968.7L589.9 968.7L590.5 968.2L590.7 966.9L592 966L592.2 965.7L592.4 966.5L594.7 963.5L595 959.8L595 959.7L596.6 957.6L596.9 960.8L597 960.7L598.5 954.6L598.5 954.6L600 952.6L602 964.5L602.1 965L602.6 966.8L603 967.9L606.7 965.4L607 965.6L607 966.5L607.3 964.8L608.7 965.4L608.9 967.2L610.8 967.9L611.1 966.3L612.2 966.7L612.4 966.7L612.6 968.2L614.6 967.2L614.9 966.1L616 965.5L616.2 966.4L618.3 965.3L618.3 965L618.5 963.9L620 961.4L620.8 958.7L621 959.7L622.4 955.6L623 954.2L623.3 949.9L625 944.8L625.3 948.9L626 947.3L627 944.3L627.3 939.1L628 936.4L628.3 935.2L628.5 938.1L628.6 939.7L630.5 937.1L631.1 939.7L631.3 933.5L631.5 934.4L632.6 940.3L632.6 940.9L632.9 948.6L634 955.1L634.6 958.4L634.9 954.6L636.9 961.9L637.2 965.4L638 967.7L638.4 968.4L638.7 967.7L640.1 967.4L640.3 968L642.7 967.4L643 967.2L643.2 966.3L644.5 965.4L644.7 965.9L646.5 964.5L646.8 962.6L648.1 964.5L648.3 966.6L648.8 967.4L650.2 967.1L650.5 966.2L652 965.9L652.3 966.8L654.6 966.4L654.9 964.8L656.9 964.5L657.2 966L658 965.8L658.7 965.8L658.9 965.3L660.5 965.2L660.8 965.7L662.3 965.7L662.5 964.6L663.7 964.6L663.9 965.6L666.5 965.5L666.7 963.7L668.5 963.6L668.7 965.5L670.2 965.4L670.4 963.6L672.6 963.6L672.9 965.3L673.2 965.3L674.2 965.2L674.4 963.7L676.7 963.5L676.9 965L678 964.9L678.2 964.1L680.5 963.9L680.8 964.6L682.6 964.4L683.4 964.3L686.6 963.3L686.9 961.4L688.4 961L688.6 962.7L690.4 962.2L690.6 961.3L692.3 960.8L692.6 961.6L693.5 961.3L693.8 961.1L694.1 959.2L695.8 958.2L696 958.9L698.4 952.9L698.6 949.3L698.6 949.2L700 944.9L700.3 944.1L700.5 947.3L702 943.4L702.5 942.9L702.7 940.3L703.7 939.1L704.7 937.9L704.9 940L706 938.7L706.1 938.6L706.3 934.5L707.6 932.9L707.8 935.5L707.8 936.5L708 936.4L710 934L710.2 933.9L710.2 933.8L713.2 929.4L714 930.8L714.2 925.7L714.2 925.1L714.3 923.9L715.8 933.9L716 939.4L716.1 941.9L716.8 945.9L717 946.5L718.2 947.4L718.5 944.1L718.5 944.1L720.4 946.1L720.6 949.5L721.9 950.7L722 949.8L722.1 948.9L723.4 948.4L723.9 948.4L724.2 950.3L726 950.3L726.2 948.8L728.5 948.7L728.7 950.3L730 950.3L730.1 950.4L730.3 948.9L730.5 949.1L732.3 950.3L732.5 952L734 952.9L734.2 951.3L734.5 951.6L736.5 951.8L736.7 953.2L737.7 953.2L738 952.3L738 952.3L738.6 954.6L740.1 953.9L740.4 954.4L741.7 953.8L742 952.3L744.2 951.3L744.5 952.7L745.5 952.2L745.7 951.4L745.7 951.4L747.8 951.4L748.1 952.1L750 951.3L750.2 951L750.5 948.5L751.7 946.3L752 948.6L754.1 945.9L754.3 943.9L754.9 943L755.5 942.2L755.8 943.8L757 942.6L758.2 945.1L758.5 944.2L760.6 949L760.9 950.5L761 950.7L761.6 951.4L762 951.8L766 951.1L766.2 951.2L766.5 950.5L767.7 951.1L768 952.1L769.5 952.8L769.8 951.6L771.1 952.2L771.8 952.1L772 953.4L773.8 952.8L774.1 951.7L776.1 951.1L776.3 952.1L777.6 951.7L781.3 950.6L781.5 950.6L781.7 949.7L783.7 949.3L783.9 950.1L784 949.2L785.6 947.3L785.9 946.3L786.9 945L787.2 945.5L789.4 942.9L790 941.9L790 941.9L790.3 937.9L792.2 936.6L792.5 940.2L793.8 939.4L794 937.9L795 937.2L795.5 936.1L795.9 935.2L796.2 936.1L797.2 934L797.5 929.4L798 928.1L799.1 926.3L799.4 930.5L801.4 927.7L801.6 925.5L801.6 925.5L802 925.1L803 923.7L803.3 925.4L805.3 922.8L805.6 916.2L805.7 915.9L806.7 919.7L807.1 921.7L807.4 927.8L808 930L809 931.4L809.1 931.6L809.4 927.9L810.2 929.3L810.5 930.5L810.8 935.2L811.5 938L812 939.9L812.5 943.5L812.8 945.6L813 946.4L813.2 945.8L814 949.1L814.9 949.6L815.1 950.4L817.1 949.5L817.3 948.8L818.9 948L819.2 948.4L819.9 948.1L821.8 947.5L824 946.8L825.1 945.9L828 943.8L829 943.4L829.3 942.5L830 942.2L831.4 942.3L831.6 943.2L833.8 943.3L834 942.5L835.9 942.6L836 942.9L836.2 943.5L837.2 944.2L837.2 944.2L837.4 943.4L839.1 944.3L839.4 945.2L840 945.5L841.2 945.2L841.5 944.1L842.8 943.8L843 944.9L844.9 944.5L845.1 942.9L846.8 942.6L847 944L847.3 944L849.5 943.6L849.7 942.4L852 942L852.2 943L852.8 942.9L853.1 941L855.2 940.5L855.5 942.4L856 942.3L857.5 940.9L857.7 940.8L857.9 938.4L859 937.3L859.3 939.6L861.2 938.2L861.5 935.3L862 934.8L863.4 932.7L863.6 935.8L864.6 934.6L865.2 934L865.5 930.6L865.6 930.4L867 932.7L867.3 935.9L869 938.3L869.4 938.7L869.6 937.7L871.1 939.7L871.4 941.1L872.7 942.7L873 943L873.1 943L873.4 942.3L875.4 942.3L875.6 943L877.2 943L877.4 941.3L878.7 941.3L879 943L880 943L880.8 942.8L881 941.6L882 941.3L882.9 941L882.9 941.1L883.1 942L885.2 940.3L888 937.9L889.4 936.7L889.7 934L890 933.6L892 930L892.2 932.7L893.4 930.8L893.7 927.5L894.1 926.7L895.7 925.1L896 928.4L896.1 928.3L896.6 931.4L896.6 931.5L896.9 935.3L897.2 936.6L897.5 941.4L897.6 942.1L898.1 945.6L899 945.1L899.3 946.3L900.5 945.6L900.7 943.7L902 942.9L902.6 941.2L902.8 942.6L904.9 937.6L905.2 933.7L906.3 930.5L906.4 930.2L906.7 933.6L907.3 932.4L909.3 935.9L909.5 933.8L910.7 936.6L911 938.9L912 940.7L912.8 940.6L913 939.8L913.4 939.7L915.1 939.5L915.4 940.2L917.3 940L917.5 938.6L918.7 938.5L918.9 939.8L920.9 939.6L921.1 938.8L922.5 938.6L923.1 939L923.3 940L924.5 940.9L924.8 939.5L926.4 940.8L926.6 941.8L926.7 942.4L929 941.3L929.3 940.5L931.1 939.6L931.4 940.1L931.7 939.9L932.7 939.8L932.9 939.1L935 938.8L935.2 939.5L937 939.2L937.3 938.6L937.8 938.5L938.1 938.3L939 938.7L939.2 939.4L940.2 939.9L940.5 939.8L940.7 937.9L942.4 937.2L942.6 938.9L944.2 938.3L944.4 936.9L945.2 936.5L945.8 936.8L946 938.3L948.2 939.4L948.5 938.3L950.3 939.2L950.8 939.5L951.1 940.9L952.4 941.7L952.7 940.1L953.9 940.8L954.2 942.8L956.5 944.2L956.8 943L956.9 943L958.6 941.3L958.9 942.5L960 941.4L960.5 940.7L960.8 940.4L961 938.8L962 937.8L962.3 937.5L962.6 938.9L964.6 937.1L964.9 935.5L966 934.4L966.2 934.2L966.4 935.3L966.6 935L968 933.6L968.8 932.8L969 930.4L971 928.1L971.4 927.6L971.6 930L972.7 928.8L972.8 928.8L973 928.8L974 928.7L975.5 930.9L975.8 931.3L976.3 938.2L976.6 942.3L976.7 942.4L977 941.8L977.8 942.6L978.9 943.3L979.1 944.3L980.8 945.3L981 943.9L982.6 944.9L982.8 946.5L982.8 946.5L984.1 945.6L984.3 943.8L984.9 943.4L986.3 944.4L986.5 946.1L988.6 947.6L988.9 946.1L990 946.9L990.7 946.5L991 948L992.4 947.3L992.7 946L995 944.9L995 945L995.2 945.9L996.5 945.7L996.7 944L998.2 943.7L998.4 945.4L1000 945.2L1000.2 943.8L1001.1 943.7L1002.2 943.3L1002.4 944.6L1004.1 944.1L1004.3 943.2L1005.7 942.8L1006 943.5L1006.2 943.5L1007.9 944.3L1008.2 943.7L1010.3 944.7L1010.4 944.9L1010.6 945.9L1012 947.4L1012.2 946.4L1014.1 948.5L1014.3 950L1014.3 950.1L1016.2 949.9L1016.5 948.8L1018.3 948.6L1018.6 949.7L1020.1 949.6L1020.3 947.9L1020.4 947.9L1022.3 946.8L1022.6 948.3L1024 947.4L1024.2 946.2L1025.5 945.4L1026 945.1L1026.3 944.7L1026.6 945.5L1028.1 943.8L1028.3 942.1L1030.1 939.8L1030.4 941.1L1030.6 940.9L1032 939.5L1032.5 939.3L1032.7 937.4L1034.6 936.8L1034.8 938.6L1035.8 938.3L1036 936.8L1037.7 936.4L1037.9 936.3L1038.2 937.6L1039.7 937.3L1040 935.9L1041.9 935.5L1042.1 936.8L1044.5 936.2L1044.7 935.4L1044.8 935.4L1045 935.3L1046.6 935L1046.8 935.7L1047.8 935.5L1048 934.4L1049.9 934.1L1050.2 934.2L1050.5 935.1L1051 935.2L1051.6 935.1L1051.8 933.3L1053.2 933.1L1053.4 934.8L1056.4 934.4L1056.7 932.7L1057 932.7L1058 932.3L1058.3 933.9L1059.7 933.5L1060 932.6L1061.6 932.1L1061.9 932.8L1064 932.1L1064.1 931.8L1064.3 931.3L1066.2 931L1066.4 931.7L1067.8 931.5L1068.1 930.8L1069.2 930.6L1069.8 930L1070.1 930.5L1071.8 928.9L1072 927.9L1073.9 926.2L1074.2 926.8L1074.3 926.7L1075.9 926.5L1078.3 926.2L1079.7 927.3L1080 926L1081.4 927.1L1082.1 927.2L1082.4 928.7L1083.4 928.7L1085.5 928.7L1087.3 926.9L1087.5 926.4L1087.6 926.2L1089.8 927.4L1090 928L1090.5 928.2L1091.8 927L1096.1 922.6L1096.4 920.6L1096.6 920.4L1098.6 918.4L1098.8 919.9L1099.9 918.9L1100 917.8L1100.1 916.6L1102.2 911.9L1102.4 913.9L1102.7 913.3L1103.6 911.8L1103.8 909.8L1105.6 906.5L1105.9 908L1106 907.8L1107.5 906.8L1107.7 904.6L1107.8 904.6L1109.6 903.4L1109.9 905.1L1111.6 904L1111.8 900.3L1112.4 899.9L1112.9 900.1L1113.2 903.7L1115.8 904.4L1116 904.5L1118 907.9L1119.7 911.9L1119.9 910.7L1120 910.9L1121 911.7L1122.1 912.8L1122.3 914.8L1123.9 916.4L1124.2 915.7L1125.1 916.6L1126.4 916.6L1126.7 917.6L1127.8 917.6L1128.1 917.1L1129.9 917L1130.2 917.5L1130.2 917.6L1131.1 916.5L1131.3 914.9L1133.1 912.8L1133.2 913.4L1133.3 913.8L1135.3 911.1L1135.6 910L1137.6 907.2L1137.9 907.5L1138.3 906.9L1139 906.2L1139.2 904.6L1140 903.9L1140.8 902.3L1141.1 903.3L1141.3 902.9L1143.8 900.1L1144.1 898.6L1145.2 897.2L1145.5 898.2L1146 897.6L1147.4 896.5L1147.4 895.9L1147.6 894L1149.5 890.6L1149.7 892.5L1151.4 889.5L1151.5 889.4L1154.5 887.2L1155 887.2L1155.7 887L1158.6 886.5L1159.3 886.2L1159.5 884.7L1161.6 883.5L1161.8 884.7L1163 884L1163.5 883.9L1163.7 879.8L1163.7 879.4L1165 879.2L1165.2 879.2L1165.5 883.6L1167.1 883.4L1167.2 881.4L1167.3 880.4L1168.1 879.9L1169.2 880.5L1169.5 883.6L1170 883.9L1170.9 884.2L1171.1 881.2L1172 881.5L1172.2 881.6L1173.2 881L1173.5 884.1L1175 883.3L1175.3 882.7L1175.5 880L1177.2 875.9L1177.5 877.8L1178 876.6L1178.3 876L1178.3 876L1179.5 882L1179.8 879L1180.3 882L1181 884.1L1181.9 885.6L1182.1 889.1L1183.6 891.3L1183.9 889.7L1185 891.6L1185.3 891.8L1185.4 892.1L1185.6 893.6L1186 894.2L1187.5 896.4L1190 900L1190.5 900.3L1191.1 900.7L1191.4 900.1L1193.6 901.5L1193.8 902.4L1194.5 902.8L1194.8 902.7L1195 902L1196 901.7L1196.9 900.2L1197.1 900.5L1198.6 898.2L1198.7 898.2L1198.9 896.9L1199.6 896.5L1200.3 898.2L1200.6 900L1201.7 902.2L1202.8 903.6L1203 902.7L1203.1 902.2L1204.6 902.2L1204.8 903.8L1206.7 903.8L1207.3 903.4L1209.8 901.8L1211 902L1211.3 901.4L1213.2 901.7L1213.4 902.5L1215.4 902.9L1215.6 902.3L1217 902.6L1217.2 903.2L1217.9 903.3L1218 903.3L1219.2 900.9L1219.5 899.6L1220.6 897.4L1220.8 897.9L1222 895.7L1222 895.7L1223 895.5L1223.2 893.3L1224.6 893L1224.8 895.2L1226.7 894.9L1227.1 894.8L1230 891.4L1230.1 891.3L1231.3 889.7L1231.5 886.8L1232 886.1L1233.2 884.6L1233.8 884.8L1234.1 887.5L1234.7 887.7L1234.9 886.3L1236 886.6L1236.4 886.8L1236.7 888.3L1237.2 888.5L1238.8 888.1L1239.1 886L1240 885.8L1241.3 885.5L1241.5 887.4L1242 887.3L1242.5 887.1L1242.7 885.3L1243.3 885.1L1244 884.4L1244.4 884L1244.6 885.5L1247.3 882.9L1247.5 879.3L1248.4 878.4L1249 878.7L1249.5 879L1249.7 882.6L1250.4 882.9L1250.4 882.4L1250.6 880L1251.4 881.9L1252 883.6L1252.5 884.1L1252.7 884.3L1253 887.8L1254 888.7L1254.5 889.1L1254.6 889.1L1254.8 885.3L1257 885.7L1257.2 889.3L1258 889.4L1258.5 889.2L1258.8 886.3L1259 886.2L1259.6 886L1260.9 886.9L1261.2 889.9L1263.1 891.1L1263.4 889.7L1263.6 889.9L1264 890L1265.2 890.3L1265.5 891.9L1266.5 892.1L1266.7 889.9L1267.5 890.1L1267.7 891.1L1268 893.1L1268.2 896.8L1269 902.3L1269.7 905.3L1270 904.7L1270.3 904.9L1272.8 906.3L1274.5 905.6L1274.8 904.4L1276 903.9L1276.2 905L1277.9 904.4L1278.2 904.5L1278.5 903.5L1280 904.1L1280.4 904.3L1280.6 905.5L1280.9 905.7L1282.8 904L1283 902.3L1284.7 900.9L1284.9 902.2L1285 902.1L1286.8 902.7L1287 901.8L1289 902.4L1289.2 903.4L1290 903.6L1290 903.7L1290.6 903.2L1290.8 901L1292 899.9L1292.5 899L1292.8 900.7L1294.1 898.6L1294.3 898.5L1294.6 896.9L1296 895.9L1296.2 897.3L1297 896.9L1298.4 896L1298.7 894.2L1299.2 893.8L1299.7 896L1300 898.6L1300 898.8L1301.7 906L1302.9 908.4L1303 908L1303.1 907.5L1305.3 909.1L1305.3 909.1L1305.6 910.4L1306.7 910.5L1306.9 908.3L1308.8 908.5L1309 910.8L1310.2 910.9L1311.4 911.1L1314.6 913.4L1314.9 911.6L1316.5 912.8L1317 913.2L1317.2 915.3L1318 915.9L1318.2 914.8L1319.3 915.6L1319.6 917.1L1321.5 918.5L1322.5 920.6L1324.6 925.2L1325.8 926.5L1326.1 925.6L1327.2 926.8L1327.5 928.2L1328 928.7L1328.7 930.2L1330.2 932L1330.4 930.4L1331.8 931.9L1332.1 934.1L1332.7 934.8L1334.4 936.5L1334.7 935.2L1336 936.6L1336.2 938.3L1336.8 938.9L1338 938.9L1338.2 938.3L1339.8 938.3L1340 938.9L1340.9 938.9L1342.4 939.8L1342.6 938.2L1344.4 939.2L1344.6 941.1L1345.9 941.9L1346.4 942.1L1346.7 941.5L1348.7 942L1348.9 942.7L1350 941.3L1350 941.2L1353 934.4L1353.9 933L1354.2 929.5L1355.4 927.1L1355.6 930.3L1357 928.2L1357.1 928.4L1358.3 931.9L1358.6 928.3L1359.8 932.6L1360.1 936.9L1360.2 937.2L1362 941.8L1362.3 944.5L1362.5 944.1L1364.2 945L1364.5 945.6L1365.2 946L1366.4 945.6L1366.7 944.1L1368.7 943.3L1368.9 944.6L1369.3 944.5L1369.8 945.1L1370.1 944.5L1371.6 946.3L1371.8 947.4L1372.4 948L1373.6 948.5L1373.8 947.7L1374.9 948.2L1375.1 949.2L1378 950.4L1378.3 949.3L1378.5 949.3L1380 949.3L1380.2 950.6L1381.5 950.6L1381.8 949L1383.3 949L1383.5 950.6L1385.6 950.6L1386 947.7L1386 947.5L1386.3 945.8L1387.7 941.1L1388 941.6L1388 941.5L1389.1 938.1L1390.4 936.8L1390.6 932.3L1391.7 930.7L1392.5 928.5L1392.8 933.3L1393.7 931.4L1394.2 930.7L1394.4 927.8L1395 926.7L1396.2 924.7L1396.4 927.1L1396.7 926.6L1398 925.7L1398.2 926.1L1398.4 918.7L1400 924.1L1400.2 924.6L1400.5 926L1400.7 934.1L1401.9 939L1402 937.1L1402.2 935.7L1403.2 950L1403.2 950.3L1403.5 955.5L1404 960.5L1405.7 960.7L1406 959.6L1407.3 959.1L1407.5 958.8L1407.7 959.4L1409.9 956.1L1411.3 954L1413.9 953.2L1414.1 951.7L1415.4 951.3L1415.6 952.7L1416.4 952.5L1417.9 952.3L1418.2 950.5L1419.5 950.4L1419.7 952L1420 952L1422 949.2L1422.3 948.1L1423.5 946.3L1423.5 946.4L1423.8 947.1L1425.3 946.4L1425.5 942.8L1425.6 942.8L1426.8 946.2L1427.1 949.7L1428.1 952.1L1430 954.7L1430 954.7L1433.8 954.1L1434.1 953L1434.7 952.9L1435.5 952.6L1435.7 953.6L1437.8 952.8L1438.1 952.2L1438.8 951.9L1440.2 952.2L1440.5 952.8L1441.8 953L1442.1 951.3L1444.4 951.7L1444.7 953.6L1445.6 953.8L1445.8 952.7L1446.9 952.9L1447.2 952.9L1447.4 953.9L1449.3 953.5L1449.5 952.7L1451.3 952.3L1451.6 953.1L1452 953L1453.3 954.8L1453.6 954.1L1454.7 955.6L1454.9 957L1456 958.6L1457 958.6L1457.1 958.4L1457.3 956.2L1459.5 952.3L1459.8 954.8L1461.3 952.8L1461.5 951.2L1462 950.5L1463 952L1463.2 953.5L1465.2 956.1L1465.7 957.3L1466 957L1467 959.3L1468.2 960.2L1468.5 961L1469.2 961.6L1469.3 961.6L1473.1 962.1L1473.4 960.4L1474.5 960.6L1474.7 962.3L1477.2 962.6L1477.4 962.1L1477.5 961.8L1478.8 962L1479.1 962.8L1481.7 963.2L1482 962.4L1483 962.6L1483.3 963.4L1485.5 963.6L1485.7 963.7L1486 962.1L1488.3 962.9L1488.5 964.6L1489.5 965L1491.6 965.7L1493 966.4L1496.9 968.3L1497.2 966.9L1497.7 967.1L1498.7 967.3L1499 969L1501.2 969.5L1501.5 968.7L1503.5 969.1L1503.8 970L1504.8 970.3L1505 970.4L1505.3 969.4L1506.6 970.4L1506.8 971.8L1508 972.6L1508.9 972.1L1509.6 972.4L1509.8 971.2L1511.9 971.5L1512.1 971.4L1512.3 972.9L1512.7 972.6L1512.9 969L1514 967.8L1514.2 967.7L1514.4 971.5L1515 971.1L1515 971L1517.1 966.9L1517.4 963.1L1518 961.6L1519 960.5L1519.4 960L1519.7 963.4L1521 962.2L1521.1 962.3L1521.3 962.5L1521.5 957.7L1522 958.2L1523.2 959.5L1523.5 964.6L1524.7 965.9L1524.9 963.7L1525.1 963.9L1525.3 964.1L1525.5 964.3L1526.3 973.7L1526.8 979.6L1527 982.4L1527.1 982.6L1528.6 984L1528.9 983.1L1529.2 983.4L1531 982.5L1531.2 983.5L1532.2 983L1533.3 983.3L1533.6 982L1535.1 982.5L1535.4 983.9L1537.1 984.4L1537.3 982.8L1537.3 982.8L1538.5 982.7L1538.8 984.3L1541.3 984.1L1541.5 982.8L1542.4 982.7L1542.7 982.6L1542.9 983.8L1543 983.8L1544.8 980.3L1545.1 977.3L1546.6 973.6L1546.9 976.3L1548.5 973.1L1548.7 972.9L1548.9 969.9L1550 968.7L1550.3 968.3L1550.5 970.9L1552.6 968.7L1552.9 968.4L1553.1 965L1554.5 963.4L1554.7 966.3L1556 965L1556.6 964.4L1557.1 964.1L1557.3 961.4L1559.6 960L1559.8 962.5L1560.5 962.1L1560.8 959.9L1562 959.1L1562.7 958.6L1563.1 958.6L1563.3 960.7L1564 960.8L1564.5 962L1564.8 956.6L1566.2 960.3L1566.4 966.1L1566.8 967L1567 967.4L1567.8 970.6L1568 971.1L1568.8 973.6L1569.1 972.6L1570 975.8L1571.4 976.1L1571.6 977L1572.9 976.4L1572.9 976.3L1573.2 975.3L1574.8 974.2L1575 974.9L1576 973.3L1576.5 972.5L1576.7 970.9L1578 968.5L1578.2 968L1578.5 968.8L1580.3 965.1L1580.6 961L1582.7 956.1L1582.9 959.9L1583 959.8L1583 959.7L1584.3 958.5L1584.6 955.4L1585.9 954.3L1586.1 957L1588.1 955.2L1589.1 954.9L1589.3 950.7L1591 950.2L1591.3 954.1L1592.7 953.8L1593 951.3L1593.2 951.2L1594.7 950.5L1595 952.7L1597 951.7L1597.3 947.4L1598.3 946.9L1599 947L1599.2 951.2L1600.5 951.3L1603 951.6L1603.4 951.2L1605 948.8L1605.2 946.2L1606.5 944.2L1606.7 946.2L1608 944.3L1608.5 943L1608.8 941.7L1610 937.5L1612 930.4L1612 930.3L1612.5 929.8L1612.8 929.4L1613.1 925.8L1614.5 924.1L1614.9 925.2L1615.2 929.4L1615.6 930.3L1616.5 934L1616.8 934.9L1617 926.8L1617 926.7L1618 948L1618.5 958.2L1618.5 959.2L1618.7 964.5L1619 965L1620.2 965.8L1620.4 964.4L1621.5 965.1L1621.8 964.8L1622 965.3L1624 960.6L1624.6 959.6L1624.9 957.9L1626.7 954.7L1626.9 955.9L1627 955.8L1628 955.1L1628.3 950.8L1629.5 950L1629.7 954.1L1630.8 953.4L1632.7 952.1L1633 947.2L1635.2 945.5L1635.4 950.3L1636 949.9L1636.7 950L1636.9 946.9L1638.2 947.2L1638.4 950.2L1639.3 950.4L1640.3 950.4L1640.6 945.9L1642.8 946.4L1643 950.5L1643.5 950.5L1643.9 950.8L1645.2 952L1648 955.7L1648 955.5L1648.2 955.7L1650.2 955.7L1650.4 957.4L1652 957.4L1652.6 957.9L1652.9 956.2L1654.3 957.3L1654.6 959.4L1655 959.7L1655.4 959.9L1656.2 959.9L1656.4 959.3L1658 957.4L1658.8 956.3L1659 956.8L1659.9 955.7L1660.1 952.8L1660.4 952.3L1661.2 950.9L1661.5 953.4L1662 952.6L1664.6 948.5L1664.7 947.8L1664.9 946.8L1666.2 945.9L1666.4 946.8L1666.4 947.2L1667.9 945.9L1670 944.1L1671 943.2L1671.8 943.2L1672 939L1672 938.5L1674 938.4L1674.3 943.4L1675.7 943.5L1676 943.5L1676.2 938.9L1677.4 939L1677.8 938.4L1678 942.2L1678 943L1679.8 941.2L1680 937.7L1681.4 935.8L1681.6 938.5L1681.7 939.2L1682 938.7L1684.1 933.9L1684.4 925.9L1685.8 921.9L1686.3 923L1686.6 931.4L1688 933.7L1688.3 925.8L1689 927.2L1690.4 930.2L1690.7 938L1690.9 938.6L1691 938.7L1691 1007.2L1690.9 1007.2L1690.5 1006.9L1690.3 973.8L1689 973.8L1688.7 1004L1686.4 1007.9L1686.1 979.9L1685.3 979.7L1685.1 988.7L1682.5 986.4L1682.3 977L1681.6 977L1681.4 977.2L1681.1 1031.2L1678.4 1029.8L1678.2 972L1677.3 970.4L1677 1027.5L1675.7 1029.5L1674.5 1029.4L1674.2 976.4L1673.5 976.3L1673.2 987.4L1671 982.9L1670.6 982.9L1670.3 971.1L1669.5 972.4L1669.2 1016.2L1666.8 1016.3L1666.5 972.9L1666.4 972.2L1665.1 972.8L1664.8 979.4L1662.4 980.2L1662.2 973.9L1661.4 974.2L1661.1 1025.9L1660.4 1026.9L1658.4 1028.2L1658.1 979.5L1657.1 979L1656.8 1005.8L1655.4 1003.1L1654.4 1002.6L1654.2 973.1L1653.6 972.8L1653.3 992.3L1652 991.6L1650.8 994.9L1650.5 976.3L1646.2 975.3L1645.5 975.3L1645.3 981.3L1645.2 981.3L1642.6 984L1642.4 978.4L1641.5 978.7L1641.3 986.3L1639.3 985.6L1638.7 985.7L1638.4 978.3L1637.9 978.4L1637.6 1027L1634.9 1026.3L1634.7 975.7L1630.8 981.7L1630.4 981.8L1629.5 982L1629.3 1010.9L1626.6 1008.6L1626.3 977.5L1625.5 977.6L1625.2 988.8L1624 992.7L1622.6 993.9L1622.4 984.1L1621.5 984.7L1621.5 986.5L1621.3 993.6L1619 994.6L1618.6 993.9L1618.4 984.5L1617.2 981.8L1617 989.9L1615.6 983L1614.7 982.4L1614.4 972.5L1613.8 972.1L1613.6 978.9L1612 982.2L1611 983.2L1610.7 976.9L1609.7 977.8L1609.4 1030.6L1608.5 1030.8L1606.9 1029.3L1606.6 974.7L1605.7 975L1605.4 986L1603.4 985.1L1603 985.1L1602.8 973.8L1601.9 974.1L1601.6 1004.8L1599.1 1006.7L1598.9 977.6L1598.3 977.6L1597.8 977.8L1597.5 990.4L1594.9 989.5L1594.6 977.2L1593.7 977.9L1593.5 1001.7L1593.2 1001.8L1590.8 1001.1L1590.5 977.3L1589.6 977.7L1589.4 995L1588.1 996.7L1587 997.3L1586.8 981.1L1586 981.8L1585.7 1035.1L1583.2 1035.4L1583 1006.6L1582.9 983.6L1582 984L1581.8 1023L1579.2 1024.9L1579 989.4L1578 990.2L1574.8 988.8L1572.9 990.1L1570.8 997L1570.2 997.3L1569.9 1018.6L1567.8 1017.5L1567.3 1017.1L1567.1 994.8L1566.1 994.3L1565.8 1020.3L1563.3 1018.7L1563 991.1L1562.7 990.7L1561.8 991.3L1561.5 1028.1L1559 1029.4L1558.7 995.3L1558 994.9L1557.8 1006.4L1556.6 1006.5L1555.2 1003.7L1555 991.7L1553.9 992.5L1553.7 1022.2L1552.6 1022.5L1551.3 1024.8L1551 998.5L1549.9 998.9L1549.6 1002.9L1548.5 1005.5L1547.2 1005.8L1546.9 1002.3L1545.8 1002.5L1545.6 1008.1L1543.1 1008.1L1542.8 1002.7L1542.4 1002.7L1542 1002.7L1541.8 1033.9L1539.3 1033.3L1539.1 1000.4L1538.2 1001L1538 1038.2L1537.3 1038.2L1535.5 1037.7L1535.3 998.1L1533.9 997.7L1533.7 1040.9L1532.2 1041.3L1531.2 1040.7L1530.9 1001.6L1529.8 1002.4L1529.6 1022L1529.2 1022.1L1527.2 1021.5L1526.9 1001.1L1526.1 1000.3L1525.8 1014.7L1525.1 1014.3L1523.2 1014L1523 999L1522.2 998.3L1522 1011L1521.1 1010.8L1519.3 1006.6L1519.1 992L1518 991.9L1518 992.8L1517.8 1003.5L1515.3 1005.9L1515 995.3L1515 995.3L1514.4 994.9L1514.2 1000L1511.9 1002.4L1511.5 1001.7L1511.2 996.2L1508.9 992.2L1507.5 991.1L1506.4 990.3L1506.1 1019L1504.8 1019L1503.7 1016.4L1503.5 984.1L1502.4 983.7L1502.2 1011.3L1499.8 1012.5L1499.5 985.6L1498.7 985.5L1498.4 1000.3L1497.7 1000.4L1495.8 999.1L1495.5 983.4L1494.5 982.8L1494.2 993.6L1491.6 994.6L1491.5 994.5L1491.3 983.6L1490 983.1L1489.8 992.4L1487.5 991.7L1487.2 982.2L1486.2 981.7L1485.9 1011.5L1485.5 1012L1483.6 1009.4L1483.3 977.2L1482.1 977.2L1481.9 990.4L1479.6 993.6L1479.3 981.1L1478.2 980.9L1478 994.8L1477.4 994.8L1475.7 991.4L1475.4 976.8L1474.6 976.8L1474.3 984L1471.9 984.2L1471.6 976.9L1470.5 976.8L1470.2 983.3L1469.2 983.3L1467.7 985.2L1467.4 978.7L1466.4 977.8L1466.2 983.5L1465.2 982.8L1463.7 981.8L1463.5 975.8L1459.5 971.6L1458.4 972.2L1458.2 1007.5L1456 1007.6L1455.8 1007.4L1455.5 971.2L1452 971.4L1451.6 971.5L1450.7 972L1450.4 1002.2L1447.8 999.2L1447.5 967L1446.9 966.8L1446.8 966.8L1446.5 990L1444.1 993.3L1443.9 971.5L1442.6 972L1442.3 1038.8L1439.7 1038.2L1439.5 966.6L1438.8 965.8L1438.5 965.9L1438.2 1018.8L1435.8 1020.6L1435.5 972.2L1434.7 971.9L1434.7 971.9L1434.4 1016.1L1432.1 1015.6L1431.8 971.4L1430.9 971.5L1430.7 983.2L1428.1 981.2L1427.9 980.9L1427.7 968.7L1426.6 968L1426.4 984.1L1423.9 985.1L1423.7 968.9L1423.5 968.8L1423.1 968.9L1422.8 1034.7L1420.3 1034.2L1420 968.9L1418.8 969.2L1418.5 983L1416.4 982.2L1415.9 982.1L1415.6 968.3L1415.2 968.4L1415 976.3L1412.3 977.8L1412.1 970.3L1411.3 970.5L1411 971L1410.7 1037.1L1408.2 1037.4L1408 975.5L1407.3 976.2L1406.7 976.9L1406.5 1020.4L1404.1 1019L1403.9 974.8L1403.2 975.1L1402.7 974.5L1402.5 1017L1400.2 1016.5L1399.9 972.3L1399.2 971.5L1398.9 977.4L1396.7 973.3L1396.2 973.2L1395.9 966.6L1395 966.6L1394.8 981L1392.4 981.7L1392.1 967.5L1391.7 967.4L1389.1 961.7L1388 962.6L1387.1 963.4L1386.8 1017.2L1385.6 1017.7L1384.4 1017.6L1384.2 965.3L1383 964.3L1382.8 1027.6L1380.3 1027.2L1380 967L1379.5 966.9L1379.2 989L1378.5 989.1L1376.5 985.2L1376.2 962L1375.2 961.6L1374.9 994.4L1372.4 996.6L1372.1 964.4L1371 963.7L1370.7 1030.7L1369.3 1030L1368.2 1029.8L1367.9 958.7L1367.4 958.9L1367.1 973.8L1365.2 974.4L1364.5 974L1364.2 959.2L1363.3 958.5L1363.1 1003.8L1360.5 1002.4L1360.2 956.5L1360.2 956.5L1359.3 955.8L1359 1025.3L1357.1 1024.8L1356.6 1023.7L1356.3 953.3L1355.2 953.6L1355 971.7L1353 970.8L1352.3 970.9L1352.1 952.9L1351.1 953.6L1350.8 997.6L1350 998.7L1348.4 1000L1348.1 957.8L1347.1 956.9L1346.9 997.2L1345.9 997L1344.3 994.7L1344 952.6L1343.5 951.4L1343.2 1019L1340.9 1018.5L1340.8 1018.5L1340.5 950.4L1339 950.1L1338.8 964.4L1336.8 965.7L1336.5 965.5L1336.3 951.1L1335.7 950.5L1335.5 991.7L1332.8 991.2L1332.7 984.6L1332.5 950L1331.3 948.6L1331 964.7L1328.7 961.2L1328.6 961.2L1328.3 943.8L1327.5 943.5L1327.3 982.8L1324.7 979L1324.6 968.8L1324.4 936.6L1323 933.7L1322.7 981.1L1321.5 979.8L1320.4 979.3L1320.2 929.6L1319.4 929.2L1319.2 961.2L1316.5 961.7L1316.2 930.2L1315.1 929.4L1314.9 959.4L1312.6 955.1L1312.3 924L1311.5 923.6L1311.4 927.6L1311.2 937.6L1308.8 939.2L1308.6 925.1L1307.5 925L1307.3 942.9L1305.3 940.9L1304.6 940.5L1304.3 922.1L1303.8 921.5L1303.5 967.7L1301.7 967.6L1301 965.9L1300.8 917L1299.5 913.4L1299.2 932.6L1299.2 932.9L1296.7 932.1L1296.4 912L1295.8 911.9L1295.5 925L1294.1 925.1L1293 926.8L1292.7 914L1291.8 915.3L1291.6 988.1L1290 989L1288.9 987.6L1288.6 916.8L1287.5 917.8L1287.3 1003.3L1285 1002.7L1284.9 1001.1L1284.7 915.3L1283.7 916.3L1283.4 962.3L1280.9 964.1L1280.7 964L1280.5 919.4L1279.6 918.7L1279.4 929.9L1277.9 929L1276.9 929.1L1276.6 917.9L1275.7 920.2L1275.4 1023.1L1273 1020.9L1272.8 917L1269.7 916.1L1268.9 913.5L1267.9 910.8L1267.7 939.9L1267.6 949.1L1265.1 947.8L1264.9 909L1263.8 909.2L1263.6 936.8L1263.6 941.5L1261 940L1260.8 907L1260 905.9L1259.7 915.8L1259.6 915.8L1257 916L1256.8 906.5L1255.8 907L1255.5 999.5L1254.5 997.9L1253.2 995L1252.9 907.3L1252 907L1252 910.4L1251.8 915.3L1250.4 911.6L1249.1 910.3L1248.8 901.8L1248.4 901.4L1247.8 902L1247.6 943.4L1245.2 938.8L1245 903.5L1243.8 904.2L1243.6 904.4L1243.3 904.6L1241 905.4L1240.7 905.5L1240 905.6L1239.8 914.1L1237.2 912.8L1237 912.7L1236.8 904L1235.9 903.6L1235.6 903.5L1233.3 903.4L1233.2 903.3L1233 903.5L1232.1 904.6L1231.8 904.9L1230.1 908.1L1229.1 909.1L1228.9 909.3L1228.1 910.1L1227.9 918.9L1227.1 919.7L1225.4 918.1L1225.1 909.3L1222 909.9L1221 910.6L1220 911.2L1219.8 911.3L1217.9 912.5L1217.3 912.4L1217.1 912.3L1212.9 912.1L1211.9 912L1211.7 911.9L1209.8 911.8L1209.1 912.2L1208.9 912.4L1208.4 912.7L1208.2 912.9L1206.7 913.8L1205.5 914.3L1205.2 914.3L1204.2 914.3L1204 914.3L1201.7 913.4L1201.4 913.2L1201.2 913L1200.1 912.1L1199.8 917L1198.6 915.5L1197.3 916L1197 910.9L1195.9 911.3L1195.7 911.4L1194.5 912.9L1193.4 912.2L1193.1 912L1192.2 911.5L1192 915.7L1190.5 913.6L1189.4 913L1189.2 908.3L1188.2 907.8L1188 907.6L1185.4 906.5L1185.4 906.5L1185.2 906.6L1184.1 907.4L1183.8 907.6L1181.4 910.5L1181.1 910.7L1180.4 911.9L1180.3 922.7L1180.2 944.8L1178.3 941.8L1177.6 941.9L1177.3 906L1176.2 906L1176 906L1173.4 907.3L1173.2 907.4L1172.2 907.5L1172.2 907.5L1171.9 907.3L1169.4 906.3L1169.1 906.1L1168.4 905.5L1168.2 905.4L1168.1 905.3L1167.2 905.6L1165.8 905.6L1165.5 905.6L1164.5 905.4L1164.2 905.4L1163.7 905.3L1161.6 905.3L1161.4 905.3L1160.2 905.5L1160 905.5L1158.6 905.7L1157.6 905.4L1157.3 905.4L1156.7 905.2L1156.4 905.1L1154.5 904.4L1153.9 904.7L1153.7 904.7L1152.4 905.2L1152.2 905.2L1151.5 905.5L1149.7 908.6L1149.5 909L1148.8 909.9L1148.5 910.3L1147.4 911.8L1145.8 912.3L1145.5 912.4L1144.9 912.8L1144.7 916.9L1142 916.7L1141.7 912.7L1141.3 912.8L1140.5 913.7L1140.2 913.9L1138.3 916.6L1137.9 917.1L1137.7 917.5L1136.9 918.5L1136.7 918.9L1134 923.1L1133.8 923.5L1133.2 924.3L1132.5 925.1L1132.3 925.4L1130.2 927.2L1129.9 927.2L1129.6 927.2L1128.4 927.4L1128.2 943.1L1125.7 942.4L1125.4 926.3L1125.1 926.3L1121.4 923.5L1121 923.1L1120.4 922.6L1120.1 945.6L1118 944.3L1117.8 944.2L1117.5 919.8L1116.7 919.2L1116.5 947.7L1113.9 947.7L1113.7 918.7L1112.7 918.4L1112.4 918.3L1112.4 918.3L1110.1 920.6L1109.9 920.8L1108.8 921.5L1108.5 921.7L1107.8 922.2L1106.2 922.7L1106 922.9L1104.7 923.7L1104.5 933.3L1102.7 934.3L1101.9 934.9L1101.6 926.1L1100.7 927.1L1100.4 927.4L1097.9 930.5L1097.7 930.8L1097.2 931.2L1096.9 948.2L1096.6 947.6L1094.3 940.9L1094 933.4L1090.5 938.5L1089.8 938.1L1088.9 937.6L1088.6 937.5L1087.5 936.9L1086 938L1085.8 938.3L1085.5 938.6L1084.8 938.6L1084.5 938.6L1082 937.6L1081.8 937.6L1081.4 937.6L1080.9 937.3L1080.7 937L1078.3 934.6L1078.2 934.6L1077.9 934.6L1077.2 934.7L1077 934.8L1074.3 935.2L1074.3 935.2L1074 935.4L1073.4 936L1073.2 936.2L1070.5 939.6L1070.2 939.8L1069.2 940.7L1069 940.7L1068.8 940.8L1066.5 940.4L1066.2 940.4L1064.6 940.7L1064.4 940.7L1064.1 940.7L1062.1 942.2L1061.8 942.3L1058 944.5L1057 944.8L1054.1 944.8L1053.3 944.9L1053 944.9L1050.3 944.6L1050 944.7L1049.9 944.7L1049.4 944.9L1049.2 945L1046.4 947L1046.2 947.1L1044.8 947.8L1044.8 947.8L1044.5 947.9L1042.2 947.5L1041.9 947.6L1041.3 947.8L1041.1 947.9L1038.5 948.5L1038.3 948.6L1037.7 948.8L1037.2 949L1036.9 949.1L1034.3 950.3L1034.1 950.4L1033 950.9L1032.7 951L1030.6 953.8L1030.4 953.9L1030.2 954.1L1029.1 954.7L1028.8 954.9L1026.3 955.1L1026.1 955.3L1025.5 955.6L1025.3 955.7L1025.1 955.9L1022.7 958.2L1022.4 958.4L1021.2 959.1L1020.9 959.3L1020.4 959.6L1018.6 959.4L1018.3 959.4L1017.8 959.5L1017.5 959.5L1014.8 958.7L1014.5 958.7L1014.3 958.7L1013 957.2L1012.8 956.9L1010.5 955.3L1010.3 955L1010.2 955L1009.4 954.6L1009.1 954.5L1006.4 952.9L1006.2 952.8L1006.1 952.9L1005.2 953.1L1005 953.2L1002.4 953.5L1002.2 953.6L1001.1 953.9L998.5 956.1L997.3 956.3L997.1 956.3L995 955.7L994.6 955.9L994.4 956L993.3 956.6L993.1 956.7L990.5 958.7L990.3 958.8L990 959L989.8 958.9L989.5 958.7L986.9 955.5L986.7 955.3L985.6 954.6L985.4 954.5L984.9 954.1L982.8 955.2L982.6 955L981.5 954.4L981.3 954.2L978.7 954L978.5 953.8L977.8 953.4L977.6 953.3L977.4 953L974.8 949L974.5 948.7L973.2 947.4L973 947.2L972.7 946.9L970.6 947.2L970.4 947.2L969.9 947.2L969.6 947.2L967 948.7L966.8 948.7L966.6 948.7L965.9 949L965.6 949.1L963 948.8L962.7 948.9L961.3 949.5L961 949.7L960.5 949.9L958.7 952.7L958.5 952.9L958.1 953.3L957.8 953.6L956.9 954.5L955.1 952.5L954.8 952.3L953.9 951.7L953.6 951.6L951 949.8L950.7 949.6L950.3 949.4L949.9 949.2L949.7 949.1L947 947.6L946.7 947.5L945.9 947.1L945.7 946.9L945.2 946.7L943.2 948.4L943 948.5L941.8 949L941.5 949.1L940.2 949L939.2 948.6L938.9 948.4L938.1 948L937.8 948.2L937.6 948.3L937.4 948.3L935 950.2L934.8 950.3L933.7 950.4L933.4 950.4L931.7 949.4L931.1 949.7L930.8 949.8L929.9 950.3L929.7 950.4L927 951.4L926.7 951.5L926.6 951.6L925.9 951.1L925.6 950.9L923.3 950.6L923.1 950.4L922.5 950L921.6 950.1L921.3 950.2L919 949.8L918.8 949.8L918 949.9L917.7 949.9L915 949.7L914.8 949.8L913.7 949.9L913.4 949.9L913.4 949.9L911.1 951.4L910.9 951.5L910.1 951.6L909.8 951.7L907.3 951.4L907 951.5L906.3 951.7L905.9 951.9L905.7 952L903.2 952.9L902.9 953.1L902.2 953.5L902 953.7L899.5 956.2L899.2 956.3L898.2 957L898.1 957L897.9 955.6L896.6 946.9L895.2 946.8L895 946.8L894.2 946.6L894.1 946.6L894 946.7L891.4 946.5L891.2 946.6L890.5 947.1L890.2 947.2L888 949L887.5 949.3L887.3 949.4L882.9 951.6L881.9 951.6L881.7 951.6L879.3 952.7L879 952.7L878.5 952.7L878.3 952.7L875.6 952.7L875.4 952.7L872.7 952.7L871.2 951.9L870.4 951.8L870.1 951.8L867.7 951.9L867.4 951.8L866.6 951.7L866.3 951.7L864.6 951.4L863.6 951.4L863.4 951.3L862.5 951.3L862.2 951.4L859.7 951.6L859.5 951.3L858.3 951.4L858 951.7L857.5 951.8L855.6 951.7L855.3 951.2L854.4 951.4L854.1 953.4L851.5 956.3L851.2 953.8L850.4 954L850.1 958.1L847.6 957.9L847.4 953.5L847.3 953.5L846.6 953.7L846.3 960.1L843.8 960.7L843.5 954.4L842.4 954.7L842.1 956.8L839.7 956.9L839.4 954.8L838.4 955.1L838.1 955.8L837.2 956L835.6 956.3L835.3 955.6L834.1 955.5L833.9 963.1L831.5 964.2L831.3 956.8L830.1 956.8L829.9 957.4L828 956L827.6 956.1L827.3 955.4L826.4 955.7L826.1 957.1L823.7 957.3L823.4 956.1L822.3 956.4L822.1 959.9L819.9 961.3L819.8 961.4L819.6 958.2L815.4 959.8L814.3 960.4L814 961.3L812.8 961.5L811.7 958.4L811.5 956.7L810.8 954.6L810.5 955.9L810.2 955.2L808.1 956L807.8 953.8L806.7 953.1L806.5 953.1L806.3 954.9L803.8 954.7L803.6 952.8L802.5 952.7L802.3 961.5L801.6 961.7L799.9 961.7L799.6 952.8L798.6 953.3L798.3 956.2L796 957.7L795.8 955.1L795.5 955.3L795.1 955.7L794.8 964.5L792.1 965.3L791.9 956.6L789.4 958.3L787.7 958.9L787 959.1L786.7 961.4L784.1 962.9L783.9 960.8L782.5 961.1L782.3 969.2L781.3 969.4L780 969.2L779.8 961.1L778.7 961.4L778.4 963.4L776 965.1L775.7 963.3L775.1 963.5L774.9 966.4L772.1 966.4L771.9 963.7L771.1 963.9L770.9 963.8L770.6 967.4L768.2 965.7L767.9 961.5L766.5 960.8L766.3 962.1L766 962L763.9 963.2L763.7 961.9L762.9 962.3L762.7 963.8L761 967.2L760.1 967L759.9 965.7L759.1 965.5L758.8 970L756.3 967.2L756.1 961.9L755 961.5L754.9 962.1L754.7 963.5L752.4 963.8L752.2 961.6L750.8 961.6L750.5 963.5L748.3 966.2L748 964.4L746.8 964.4L746.5 975.3L745.7 975.5L744.1 976L743.9 965L742.9 965.5L742.6 980.7L740.3 980.1L740 964L739.3 964.3L739 967L738.6 967.1L736.4 971.5L736.1 969.5L734.5 970.9L732.2 969.1L731.1 969.5L730.9 979.5L730.5 979.6L728.2 980.3L728 970L724.2 968.3L723.4 968.2L723 968.2L722.7 970.2L720.2 972.2L719.9 970.3L719.3 970.4L719 980.6L716.8 980.8L716.3 979.6L716.1 967.6L714.9 963.4L714.6 968.5L714.2 967.3L712.3 967.2L712 960.9L711.3 961.5L711.1 980.5L710.2 981L708.5 982.2L708.2 963.5L707.8 963.6L707.5 963.8L707.2 975.2L704.5 975.9L704.3 964.6L703.7 965L703.4 965.2L703.1 986.6L700.4 990.1L700.2 970L698.6 971L696.3 972L695.2 972.8L694.9 981.3L693.5 982.1L692.4 982.6L692.1 974.3L691.1 974.6L690.8 988.4L688.4 990L688.1 976.3L687.4 976.6L687.1 979.2L684.4 980.1L684.2 977.7L683.4 978L683.2 978L683 992.9L680.6 992.5L680.3 975.9L679.6 976L679.4 995.9L676.8 997.6L676.5 977.9L675.5 978L675.3 983.5L673.2 983.8L672.8 983.9L672.5 978.1L671.3 978.2L671 1000.5L668.7 1000.8L668.4 977.2L667.3 977.5L667 999L664.6 999L664.4 976.7L663.4 976.8L663.2 981.5L660.5 984.1L660.3 979.5L659.4 979.7L659.2 1001L658 1001.9L656.6 1003L656.4 979.8L655.4 980L655.2 985.7L652.6 984.8L652.4 978.5L651.7 978.6L651.5 1005L648.9 1009.1L648.8 1004L648.6 983.3L647.5 981.6L647.2 985.9L646.8 985.5L644.9 982.5L644.6 977.3L643.5 978.2L643.2 1014.4L642.7 1015.3L640.8 1016.9L640.5 979.6L640 980L639.7 1003.9L637 1006.1L636.7 983.5L635.9 983.8L635.7 1010.3L634.6 1010.6L633.1 1007.1L632.8 978L632.6 977.4L631.7 976.3L631.4 1035.3L628.8 1035.7L628.6 972.8L628.5 971.5L628.1 971.7L627.9 977.9L625.2 982.3L624.9 976.6L624 976.9L623.7 984.4L622.4 985L621.1 984.1L620.9 976.7L620 977.7L619.7 1003.2L618.3 1004.5L617 1003.7L616.8 978.4L615.8 978.8L615.6 1037.1L612.9 1037.4L612.6 983.2L612.2 983.4L611.9 983.5L611.6 1001.3L609 1001.9L608.8 984.2L608 983.6L607.7 988.7L606.7 988.4L605.2 989L605 984.1L603.9 985.3L603.6 1003L602.1 1004.7L601.1 1003.5L600.8 986L600 984.3L599.7 992L598.5 990.3L597.3 991.1L597 983L595.9 984L595.6 989.4L595 990L593.1 989.4L592.9 984.5L592.2 985.2L591.9 994.2L589.9 995.4L589.4 995.5L589.1 987L588 987.3L587.7 1021.5L585.2 1023.2L584.9 991.1L584.1 991.4L583.9 1014.2L581.8 1015L581.2 1015.1L581 992.8L580.1 992.6L579.8 1003.6L577.4 1003L577.2 992L576.2 992.1L576 1006.6L573.3 1004.7L573.1 989.6L572.4 989.9L572.2 1025.7L571.6 1025.7L569.5 1026.9L569.3 993.4L568 993.6L567.8 1016.1L565.5 1016.8L565.2 995L564.5 995.2L564.1 994.7L563.9 1007.4L561.4 1005.6L561.2 1005.4L561 991L559.9 990L559.7 1011.7L557.4 1008.4L557.4 1008.1L557.1 984.3L555.8 984.8L555.5 1027.1L553.2 1028L553 987.1L552 987.5L551.7 992.1L551.3 992.2L549.3 994.4L549.1 990L548.1 990.1L547.9 1006.9L545.3 1005.7L545 988.1L544.2 987.8L544 993.9L543.2 993.7L541.6 992.6L541.4 986.4L540.2 987.7L539.9 1038.4L537.6 1038.4L537.3 987.1L537.1 986.6L536.5 986.5L536.3 1021.3L533.6 1020.5L533.3 985.1L532.2 984.1L532 996.6L531 996.4L529.5 997.8L529.3 985.2L528.4 984.3L528.1 992.6L526.9 991.7L525.6 992.2L525.4 983.5L524.7 983.4L524.4 988.9L521.8 987.9L521.8 987.8L521.5 981.8L520.6 980.9L520.4 1018.3L517.8 1016.9L517.7 1016.8L517.4 975.6L516 970.5L515.8 976.3L515.2 974.5L513.5 972L513.2 964.9L512.1 965.6L511.8 988L510.6 988.1L509.5 989.1L509.2 967.5L508.6 968.6L508.3 1037.5L506.6 1037.7L505.9 1037.7L505.7 971.5L504.2 972.8L504 1037.3L501.6 1037.5L501.3 974.8L500.5 974.6L500.5 975.2L500.2 981.6L497.7 981.3L497.5 974.3L496.6 974.1L496.4 1038.1L494.4 1039.3L493.8 1039.3L493.5 975.4L492.9 973.2L492.6 979.9L490.8 977.9L490 978.9L489.8 972L485.8 978.5L485.2 979.2L484.7 979.9L484.4 1009.1L481.8 1008.3L481.6 978.9L480.8 980.1L480.5 1023.1L480.2 1023.1L477.9 1023.9L477.8 992.4L477.7 982.8L476.4 983.1L476.1 1012.4L473.8 1009.4L473.7 996.6L473.5 977.8L472.9 977.4L472.7 1014.3L470.1 1015.2L469.8 979.5L468.6 979.1L468.6 983.6L468.4 1035.3L466.1 1034.3L465.8 976.6L464.4 975.1L464.1 997L464 997L461.9 998.8L461.6 977.2L460.5 978.2L460.3 1021.2L458.4 1020.9L458 1020.5L457.8 976.3L456.9 976.9L456.6 1010.2L454.2 1010.7L454 978.5L453.4 978.3L452.8 979.2L452.6 985.6L449.9 991.2L449.6 986.2L448.3 988.3L445.9 991.4L444.9 991.6L444.6 1000.4L443.2 1000.1L442.1 1000.6L441.9 991.9L440.5 992.4L440.3 1004.4L438 1006.1L437.7 994.8L437.6 994.7L436.8 991.9L436.5 995.7L435.6 993.1L434.1 991.5L433.9 986.3L433.1 985.9L433.1 987.7L432.9 994.9L430.2 993L429.9 983.6L429.1 984.1L428.9 1006.8L428 1007L426.2 1007L425.9 984.8L425.1 984.7L424.9 1030.5L422.9 1031.9L422.1 1032.1L421.9 991L421.1 991.8L420.9 996.5L418.4 994.8L418.1 990.4L417.8 990.7L413.8 991.2L413.3 991.3L413 1003L410.4 1006L410.1 995.2L407.6 995.5L406.2 992.2L404.7 991.6L404.4 1024.8L403.6 1023.7L402.2 1024.1L401.9 990.3L401.3 990.7L401 1039.8L398.5 1040.2L398.3 994.2L397.5 994.1L397.5 994.5L397.3 1000.6L394.6 1003.5L394.3 997.7L393.4 998.2L393.1 1019.8L390.4 1021.2L390.4 1016.5L390.2 1001L389.2 1001.5L389 1025.9L386.6 1028L386.4 1006.6L385.3 1007L385.2 1007.2L385 1017.8L382.6 1014.1L382.4 1002.1L381.5 1001.9L381.2 1005.4L380.2 1005.2L378.7 1003.9L378.4 1000L378.2 999.9L377.1 996.1L376.8 1030.6L376.7 1030.4L375.1 1031.2L374.3 1031.6L374.1 998.5L373.1 999.9L372.8 1035.8L372.1 1036.6L370.4 1037.5L370.1 1007.2L369.3 1007.7L369.1 1018.8L366.7 1014.3L366.5 1001.5L365.2 1001.9L365 1035.9L364 1036.2L362.5 1036.5L362.2 1003.6L361.4 1003.7L361.1 1022.1L358.8 1023.3L358.5 1006.2L357.1 1006.7L356.9 1025.8L356.9 1025.8L354.6 1024.2L354.4 1003.7L353.2 1003.5L352.9 1014.6L350.6 1014.4L350.3 1003.2L349.7 1003.4L349.4 1023.4L346.8 1024.4L346.7 1016.9L346.5 1005.2L345.2 1004.6L345 1030.8L342.5 1030.4L342.2 1003.3L341.7 1003.2L341.5 1027L339 1026.8L338.7 1002.9L337.6 1002.6L337.4 1013.4L336.5 1013.3L334.7 1012.8L334.5 1001.4L333.3 1000L333.1 1004.3L332.5 1003.6L330.7 1003.9L330.4 999.4L329.3 999.9L329.1 1043.7L326.8 1043.6L326.5 998.6L326.4 998.1L325.7 998.3L325.4 1002.6L322.9 1005.4L322.7 1001.6L321.6 1002L321.3 1009.7L318.7 1008.1L318.5 1000.1L317.6 1000.4L317.4 1012.1L316.2 1012.4L314.9 1014L314.7 1003.1L313.8 1003.4L313.6 1024.8L311 1026.7L310.7 1006.9L309.8 1007.3L309.6 1012.3L307.1 1015.7L306.9 1011.4L306 1011.8L305.9 1012.3L305.6 1036.4L302.9 1034.8L302.7 1006.8L301.7 1006.8L301.5 1027.7L298.8 1027.5L298.6 1007.1L297.9 1007.5L297.7 1041.3L295.9 1041.2L295.2 1041.2L295 1007.5L293.5 1007.1L293.3 1011L290.9 1015.5L290.7 1012.2L289.8 1012.3L289.6 1025.3L288.8 1025.5L287.1 1023.7L286.9 1009.6L285.7 1009.7L285.6 1009.7L285.3 1016.7L282.9 1017.8L282.7 1010.9L282 1010.9L281.8 1031.1L279.1 1030.5L278.9 1009.9L278.6 1009.8L277.9 1010L277.6 1044.3L275 1044.4L274.7 1010.4L273.9 1010.2L273.7 1022L271.2 1019.4L270.9 1006.1L270.5 1005.8L270 1006L269.7 1021.1L267.3 1022.8L267.1 1008.2L266.3 1008.1L266 1032.9L263.4 1032.8L263.1 1008.6L261.8 1008.2L261.6 1013.2L260.3 1012.3L259.3 1012L259 1006.7L257.9 1006.5L257.6 1019.6L255.3 1018.8L255 1005.1L253.7 1004.8L253.5 1031.2L251.2 1028.6L250.9 998.1L250.2 997.9L250 997.8L249.8 1035L247.2 1035L246.9 997.2L244.6 996.3Z" fill="#c6dbef" fill-opacity="0.33"/>
<path d="M244.6 985L250.2 987.1L260.3 990.6L270.5 993.7L278.6 996.7L285.7 998.2L288.8 997.7L295.9 996.7L306 994.7L316.2 990.6L326.4 987.6L332.5 985.5L346.7 993L356.9 994.5L367 992.5L377.2 988.4L385.3 988.4L392.4 985.4L402.6 981.3L412.7 983.3L417.8 987.4L422.9 987.4L428 985.4L433.1 984.3L438.1 980.3L443.2 978.2L448.3 979.3L453.4 977.2L458.4 978.2L463.5 975.2L468.6 973.2L473.7 971.1L477.8 971.3L480.2 969.1L490.3 969.1L495.4 971.1L500.5 973.2L510.6 974.2L516.7 977.2L522.8 974.2L526.9 972.7L533 974.2L541.1 978.2L546.2 982.3L552.3 986.4L557.4 985.4L561.4 986.9L566.5 983.3L571.6 981.8L581.8 979.3L591.9 980.3L598 980.3L602.1 977.2L607.2 975.2L614.3 974.2L619.4 972.1L634.6 973.2L642.7 971.1L652.9 969.6L663 969.1L673.2 969.1L683.4 968.1L693.5 966.1L698.6 966.1L703.7 967.6L707.8 968.1L710.2 969.1L715.2 970.6L718.3 966.1L725.4 963.5L732.5 962.5L738.6 960L745.7 957.9L752.8 960.5L761 958.9L771.1 957.9L781.3 955.4L791.4 953.4L795.5 954.9L799.6 957.9L806.7 960L807.7 962.5L808.7 959.4L810.8 957.9L816.9 954.9L821.9 952.8L828 950.8L837.2 950.3L847.3 948.3L855.5 947.8L862.6 947.3L872.7 948.3L882.9 946.7L885.9 951.8L891 953.9L895.1 953.4L899.1 950.3L908.3 947.8L918.5 945.2L922.5 949.8L926.6 946.7L933.7 946.2L937.8 945.2L940.2 946.2L946.3 944.7L952.4 947.7L959.5 951.3L965.6 950.1L973.7 950.8L976.7 947.2L982.8 948.8L988.9 950.8L996 949.3L1003.2 949.8L1007.2 947.7L1011.3 951.8L1016.4 953.3L1021.4 952.8L1026.5 950.8L1031.6 947.7L1037.7 943.7L1044.8 941.6L1049.9 940.1L1057 937.6L1064.1 935.5L1069.2 934L1074.3 929.4L1078.3 928.4L1082.4 930L1086.5 929.4L1090.5 931.5L1095.6 927.9L1095.8 925.2L1096 920.5L1096.2 897.4L1096.6 869L1097.6 866L1099 880L1099.2 882.3L1100.5 900L1101.7 905.6L1102 908.4L1102.7 915.7L1103 915.9L1106.8 918.8L1112.9 915.7L1118 914.2L1121 916.7L1125.1 920.3L1130.2 918.8L1131.5 916.5L1133.4 913.3L1134.2 906.9L1134.9 896.1L1135.1 853L1135.2 853L1135.9 853L1136.7 853L1136.9 903.8L1137 904.5L1137.6 904.9L1138 897.4L1139.8 897.1L1139.9 896.2L1140.1 855L1140.3 855L1141 855L1141.2 855L1141.4 894.2L1141.7 897.1L1141.8 897.1L1143.4 897.2L1144.2 900.8L1144.8 904.2L1147.1 905.5L1148.8 907.9L1150.8 905.2L1152.9 907.9L1154.9 906.2L1156.9 909.9L1160 906.4L1162.7 907.6L1165.7 909.1L1167.8 907.6L1170.2 907.1L1176.3 905.6L1182.3 906.6L1185.4 904L1190.5 904.6L1196.6 907.1L1202.7 906.6L1207.8 907.1L1210.8 905.1L1218.9 906.6L1225 905.6L1229.1 906.6L1235.2 904L1241.3 903.5L1247.4 903L1252.5 903.5L1257.5 902L1261.6 904.6L1265.7 905.6L1269.7 909.6L1275.8 913.7L1281.9 911.7L1288 912.7L1294.1 913.7L1298.2 918.3L1302.2 916.7L1306.3 917.8L1310.4 918.8L1312.4 921.8L1317.5 923.9L1320.5 928.9L1324.6 934L1328.7 939.1L1332.7 940.6L1336.8 943.2L1340.9 946.2L1345.9 947.7L1350 949.8L1354.1 949.3L1359.2 951.8L1363.2 952.3L1368.3 951.8L1373.4 953.8L1378.5 955.9L1383.5 956.9L1388.6 957.4L1393.7 959.9L1395.1 961.3L1400.2 964.9L1405.2 964.4L1410.3 961.8L1415.4 960.3L1423.5 959.8L1430.6 959.3L1438.8 957.8L1446.9 958.3L1451 960.8L1456 962.8L1463.2 964.4L1469.2 966.4L1477.4 966.9L1485.5 967.9L1491.6 970.5L1497.7 973.5L1504.8 976.1L1508.9 982.2L1511.9 986.2L1516 989.8L1518.5 992.3L1521.1 988.8L1526.2 988.2L1532.2 988.8L1534.3 989.8L1538.3 987.7L1546.5 986.7L1554.6 986.7L1562.7 987.2L1566.8 984.7L1570.9 981.1L1575.9 978.1L1581 975L1585.1 970L1590.2 969.4L1594.2 967.9L1599.3 965.9L1606.4 966.9L1611.5 968.9L1613.9 972L1618.1 970.3L1624 968.6L1630.8 966.9L1639.3 964.4L1645.2 962.3L1650.3 962.7L1654.5 964.4L1659.6 964.8L1663 966.1L1667.2 965.2L1671.5 964.4L1675.7 966.9L1679.1 970.3L1683.3 973.3L1687.5 975.4L1690.9 978.8L1691 978.8L1691 989.9L1690.9 990.8L1689.5 989.4L1689.2 986.3L1687.8 984.8L1687.5 988.2L1687.5 988.7L1686.3 988.1L1686.1 983.9L1683.3 982.5L1683.1 982.3L1682.9 991.4L1681.6 990.6L1681.4 981.2L1679.7 980.1L1679.4 991.6L1679.1 991.3L1677.6 989.9L1677.4 978L1675.7 976.1L1673.4 974.7L1671.5 973.6L1671.4 973.6L1671.1 980.2L1669.8 980.5L1669.5 974L1667.4 974.4L1667.2 980.8L1667.2 982.8L1665.6 983L1665.3 974.8L1663.6 975.1L1663.3 978.3L1663 978.3L1662.3 978L1662.1 974.9L1659.6 974L1659.6 974L1659.3 977.7L1657.8 977.6L1657.6 973.8L1655.6 973.7L1655.3 981.9L1654.5 981.8L1653.8 981.3L1653.5 973.1L1652.5 972.7L1652.3 976.1L1650.4 975.4L1650.3 973.5L1650.2 971.9L1648.6 971.8L1648.4 980.1L1646.6 980L1646.4 971.5L1645.2 971.4L1644.7 971.6L1644.4 976.3L1642.5 976.9L1642.3 972.5L1639.4 973.5L1639.3 977.1L1639.2 979.6L1638 979.8L1637.8 974L1636.5 974.4L1636.3 978.7L1634.4 979.2L1634.1 975L1632.8 975.4L1632.6 981.7L1630.8 982.3L1630.5 982.4L1630.2 976.2L1628.4 976.8L1628.1 987.4L1626.4 987.7L1626.1 977.2L1624.9 977.5L1624.7 981.9L1624 982.1L1622.8 982.4L1622.5 978.2L1620.2 978.8L1620 986.4L1618.1 987L1617.9 987.1L1617.7 979.6L1616.5 980.1L1616.3 990L1614.2 990.7L1614 981.1L1613.9 981.1L1611.9 978.5L1611.6 986.8L1611.5 986.8L1610.3 986.2L1610 977.4L1608.1 976.7L1607.8 980.2L1606.5 979.6L1606.4 978.1L1606.3 976L1605 975.8L1604.8 978.8L1602.6 978.5L1602.3 975.5L1599.5 975L1599.3 978.7L1599.2 980.6L1598.1 981L1597.8 975.6L1596.4 976.2L1596.2 988L1594.3 988.7L1594.2 986.8L1594 977.1L1592.3 977.9L1592.1 986.8L1590.2 987.5L1590.1 987.5L1589.8 978.6L1589.1 978.7L1588.9 987L1586.8 987.2L1586.6 978.9L1585.1 979L1584.2 980.1L1583.9 990.4L1582.2 992.6L1582 983.1L1581 984.1L1579.5 985.1L1579.2 993.1L1578.1 993.6L1577.9 986L1576.3 987L1576 990.8L1575.9 990.8L1574.7 991.6L1574.4 988L1573.5 988.6L1573.2 995.7L1571 997.1L1570.9 992.8L1570.8 990.4L1569.5 991.5L1569.2 1000.8L1567 1002.7L1566.8 994.8L1566.8 993.7L1565 994.9L1564.8 1002.4L1562.7 1003.7L1562.7 1003.6L1562.4 996.2L1558.3 996L1556.2 995.8L1556 1005.7L1554.8 1005.6L1554.6 997.3L1554.6 995.7L1552.5 995.8L1552.3 999.5L1550.8 999.5L1550.5 995.8L1549 995.9L1548.8 1004.5L1547.1 1004.5L1546.8 995.7L1546.5 995.7L1544.1 996.1L1543.8 1000.9L1542.7 1001L1542.4 996.2L1540.6 996.5L1540.4 1004L1539.2 1004.2L1538.9 996.7L1538.3 996.7L1536 997.9L1535.8 1001.5L1534.5 1002L1534.3 998.7L1534.3 998.8L1532.4 997.8L1532.2 1000.4L1532.1 1003.8L1530.7 1003.7L1530.4 997.6L1529.4 997.5L1529.1 1001.5L1527 1001.4L1526.7 997.3L1526.2 997.2L1524.8 997.4L1524.5 1002.6L1522.8 1002.8L1522.5 997.6L1521.1 997.7L1520.3 998.8L1520.1 1006.9L1518.9 1008.6L1518.7 1001.2L1518.5 1001.3L1517 999.8L1516.7 1010.7L1516 1010L1514.9 1009L1514.7 997.6L1512.7 995.9L1512.5 1004.8L1511.9 1004.4L1511.1 1003.1L1510.9 993.8L1508.9 991.1L1508.8 991L1508.5 1000.8L1506.8 998.2L1506.6 987.8L1505 985.2L1504.8 989.1L1504.7 991.4L1502.8 990.6L1502.5 984.2L1501.5 983.8L1501.3 992.1L1499.2 991.4L1499 982.9L1497.7 982.4L1496.7 982L1496.5 985.8L1495.3 985.2L1495.1 981.1L1491.6 979.4L1491.2 979.2L1489.5 978.5L1489.3 982.1L1487.5 981.4L1487.2 977.6L1485.5 976.8L1484.9 976.8L1484.7 980.2L1483.1 980L1482.9 976.5L1481.4 976.3L1481.1 981L1479 980.8L1478.8 976.1L1477.4 975.8L1476.8 975.8L1476.5 979L1475.2 978.9L1475 975.7L1473.6 975.7L1473.3 983.4L1471.7 983.2L1471.4 975.4L1469.2 975.3L1466.5 974.4L1465 974L1464.8 982.6L1463.2 982L1462.9 981.8L1462.7 973.1L1459.5 972.5L1457.5 972L1457.2 981.8L1456 981.5L1455.4 981.3L1455.2 971.4L1453.3 970.6L1453 978.3L1451.3 977.6L1451.1 969.7L1451 969.7L1449.2 968.7L1449 974.5L1447.2 973.4L1446.9 967.2L1446.9 967.1L1446 967.1L1445.7 974.2L1443.5 974L1443.2 966.9L1440.9 966.8L1440.7 975.3L1439.7 975.2L1439.4 966.7L1438.8 966.6L1438 966.8L1437.7 973.3L1435.6 973.6L1435.4 967.2L1433.5 967.7L1433.2 973.5L1431.2 973.8L1430.9 968.1L1430.6 968.1L1428.8 968.3L1428.5 979L1427.3 979.1L1427 968.6L1425.6 968.5L1425.3 974.5L1423.8 974.5L1423.5 968.6L1423.5 968.6L1421.8 968.7L1421.6 978.7L1419.9 978.9L1419.7 968.9L1417.3 969L1417 972.7L1415.4 972.9L1415.3 972.9L1415 969.3L1413.5 969.7L1413.3 975.2L1411.2 975.7L1411 970.4L1410.3 970.6L1409.5 971.1L1409.3 977.4L1407.7 978L1407.5 972.1L1405.2 973.2L1403.2 973.4L1401 973.7L1400.8 983.9L1400.2 984L1399.7 983.6L1399.4 973.2L1398.4 972.5L1398.2 975L1396.1 973.5L1395.9 970.7L1395.1 970.1L1393.7 968.7L1391.2 967.4L1389.3 966.5L1389 972.4L1388.6 972.3L1387.9 972.3L1387.7 966.2L1386 965.9L1385.7 972.2L1383.9 972.1L1383.6 965.7L1383.5 965.7L1381 965.2L1380.7 970.9L1379.4 970.7L1379.2 964.9L1378.5 964.6L1377.4 964.3L1377.1 971.2L1375.7 970.6L1375.4 963.4L1374.2 963L1373.9 966.5L1373.4 966.3L1371.9 965.7L1371.6 961.9L1370 961.3L1369.7 970.3L1368.3 969.8L1367.9 969.7L1367.7 960.6L1365.5 960.9L1365.2 967.1L1363.8 967.1L1363.5 961L1363.2 961.1L1361.1 960.8L1360.8 968.1L1359.7 967.9L1359.4 960.6L1359.2 960.5L1357.3 959.6L1357 962.5L1356 961.9L1355.7 958.8L1354.7 958.4L1354.4 962.3L1354.1 962.1L1352.3 962.4L1352.1 958.3L1350.7 958.4L1350.4 966.9L1350 967.1L1348.3 966.1L1348 957.5L1345.9 956.5L1345.6 956.4L1345.4 959.9L1343.8 959.4L1343.6 955.8L1341.8 955.2L1341.6 957.7L1340.9 957.5L1339.6 956.6L1339.4 953.8L1337.9 952.7L1337.6 957.6L1336.8 957L1336.1 956.5L1335.8 951.3L1333.5 950L1333.3 958L1332.7 957.6L1332 957.3L1331.8 949L1329.5 948.1L1329.2 950.6L1328.7 950.4L1327.8 949.4L1327.6 946.4L1325.4 943.7L1325.2 951.8L1324.6 951L1323.8 950L1323.6 941.3L1321.2 938.3L1321 940.7L1320.5 940.1L1319.9 939L1319.7 936L1317.7 932.8L1317.5 941.3L1317.5 942L1316.1 941.3L1315.9 931.6L1314.8 931.1L1314.5 938.9L1312.4 938L1312.4 937.8L1312.2 929.7L1310.4 927L1310.3 927L1310 931.6L1308.3 931L1308 926.4L1306.3 925.9L1306 925.9L1305.8 930.4L1304 929.9L1303.8 925.3L1302.4 924.9L1302.2 928.4L1302.1 933L1300.6 933.6L1300.3 925.6L1298.2 926.3L1298 926.1L1297.8 929.3L1296 927.3L1295.8 923.5L1294.1 921.6L1294.1 921.6L1293.9 926.2L1292.3 925.8L1292.1 921.2L1290.5 920.9L1290.3 925.9L1288.5 925.6L1288.3 920.5L1288 920.4L1286.5 920.2L1286.3 924.9L1284.8 924.5L1284.6 919.8L1283.1 919.5L1282.9 921.6L1281.9 921.4L1280.7 921.7L1280.4 919.8L1278.3 920.5L1278 926.2L1276.4 926.6L1276.1 921.1L1275.8 921.2L1274.4 920.2L1274.2 926.5L1272.6 925.2L1272.4 918.8L1269.7 917L1269.7 917L1269.4 919.6L1268.3 918.4L1268 915.2L1266 913.2L1265.8 914.6L1265.7 914.5L1264.6 914.2L1264.4 912.5L1262.5 912L1262.3 914.9L1261.6 914.7L1260.7 914L1260.5 911L1257.5 909.1L1257.5 909.1L1257.2 915.3L1256.2 915.5L1256 909.5L1254.2 910.1L1254 912.5L1252.7 912.9L1252.5 910.8L1252.4 910.5L1249.9 910.2L1249.6 915.8L1248.5 915.6L1248.3 910L1247.4 909.9L1246.8 909.9L1246.5 915L1244.7 915.1L1244.4 910.2L1241.9 910.2L1241.7 916.6L1241.3 916.6L1240.6 916.6L1240.4 910.4L1238.6 910.5L1238.4 912.3L1236.4 912.5L1236.1 910.7L1235.2 910.7L1233.9 911.3L1233.6 914.1L1232.4 914.6L1232.2 912L1230.3 912.8L1230 916.5L1229.1 916.8L1228.7 916.8L1228.5 913.2L1226.4 912.6L1226.2 914.6L1225.1 914.3L1225 913.8L1224.8 912.3L1222.4 912.7L1222.2 914.4L1220.3 914.7L1220.1 913.1L1218.9 913.3L1218.8 913.3L1218.5 916.3L1216.9 915.9L1216.6 912.9L1212.9 912.2L1210.8 911.8L1210.4 912.1L1210.1 913.6L1208.5 914.7L1208.2 913.5L1207.8 913.8L1206.9 913.7L1206.6 916.3L1204.8 916.1L1204.5 913.5L1202.7 913.3L1202.5 913.4L1202.3 918.4L1201.2 918.5L1201 913.4L1199.1 913.6L1198.9 915.6L1197.1 915.7L1196.8 913.8L1196.6 913.8L1195.3 913.3L1195 916.6L1193.2 915.8L1192.9 912.3L1190.8 911.4L1190.6 914.1L1190.5 914.1L1188.7 913.9L1188.4 911.1L1186.3 910.8L1186 916.7L1185.4 916.7L1184.8 917.1L1184.5 911.5L1182.3 913.3L1182.3 913.3L1182 915.8L1181 915.6L1180.8 913L1178.3 912.6L1178.1 917.4L1176.7 917.1L1176.5 912.3L1176.3 912.3L1175.1 912.6L1174.8 914.3L1172.6 914.9L1172.4 913.3L1171.3 913.5L1171 919.4L1170.2 919.6L1169.2 919.7L1168.9 914.1L1167.8 914.3L1167.4 914.6L1167.2 920L1165.7 921L1165.3 920.8L1165 915.5L1163.5 914.7L1163.3 919.2L1162.7 919L1161.1 918.3L1160.8 913.6L1160 913.1L1159.1 914.1L1158.9 919.4L1157.5 921L1157.2 916.2L1156.9 916.6L1155.6 914.3L1155.4 918.4L1154.9 917.5L1153.2 918.9L1152.9 914.6L1152.9 914.6L1151 912.3L1150.8 916.7L1150.8 917.5L1148.9 920.1L1148.8 918.4L1148.6 914.4L1147.8 913.2L1147.5 915.5L1147.1 914.9L1145.6 914.1L1145.3 911.3L1144.8 910.9L1144.2 907.5L1143.4 903.9L1142.4 903.9L1142.1 908.7L1141.7 908.7L1141 901.9L1140.9 901.9L1140.6 897.1L1140.3 897L1139.8 903.8L1138.7 904L1138.5 908.1L1138 908.2L1137.6 915.7L1137 915.3L1137 914.1L1136.8 908.7L1135.9 897L1135.2 897L1134.8 904.1L1134.6 912.8L1134.2 918.2L1133.6 923L1133.4 920.8L1133.3 920.1L1131.6 923.1L1131.4 927.8L1130.2 929.8L1129.8 929.9L1129.5 925.7L1127 926.4L1126.8 928.1L1125.8 928.4L1125.5 926.9L1125.1 927L1122.7 924.9L1122.4 926.5L1121.4 925.6L1121.2 923.6L1121 923.4L1119.5 922.3L1119.2 926.9L1118 925.9L1117.7 925.9L1117.5 921.1L1115.1 921.8L1114.8 924.2L1113 924.7L1112.9 923.5L1112.8 922.5L1112.3 922.8L1112 928.2L1109.8 929.3L1109.5 924.2L1106.8 925.5L1106.7 925.4L1106.5 930.9L1105.3 930.1L1105 924.2L1103.1 922.7L1102.8 928.4L1102.7 928.3L1101.7 918.1L1101.2 916.1L1101 909.4L1100.2 906.4L1100 909.2L1099.2 906L1097.9 906.8L1097.7 903.2L1096.2 904.1L1096 928.6L1096 929.3L1095.7 937.7L1095.6 939.3L1093.6 939.7L1093.3 936.6L1092 937.7L1091.8 939.1L1090.5 939.7L1089.9 939.3L1089.6 938.6L1087.9 938L1087.7 937.8L1086.5 937.2L1085.8 937.3L1085.5 937.4L1083.6 937.6L1083.4 937.6L1082.4 937.8L1081.6 937.5L1081.4 937.4L1080.4 937L1080.2 936.9L1078.3 936.2L1078.1 936.3L1077.9 936.3L1075.3 937L1075 937.1L1074.3 937.2L1073.3 938.1L1073 938.4L1071.4 939.9L1071.1 940.1L1069.6 941.5L1069.3 941.7L1069.2 941.8L1065.7 942.9L1064.4 943.3L1064.2 943.3L1064.1 943.3L1062.2 943.9L1062 944L1060.3 944.4L1060 944.5L1058 945.1L1057.8 945.2L1057 945.4L1056.1 945.7L1055.8 945.8L1053.8 946.5L1053.5 946.6L1052 947.2L1051.7 947.3L1049.9 947.9L1049.9 947.9L1049.6 948L1045.5 949.2L1044.8 949.4L1043.3 949.9L1043 949.9L1041.8 950.3L1041.6 950.4L1039.1 951.1L1038.9 951.1L1037.7 951.5L1037.7 951.5L1037.5 951.6L1035.5 952.9L1035.3 953.1L1034.1 953.9L1033.8 954.1L1031.8 955.4L1031.6 955.5L1031.5 955.6L1030.3 956.3L1030 956.5L1027.8 957.8L1027.5 958L1026.5 958.6L1025.9 958.8L1025.7 958.9L1023.7 959.7L1023.5 959.8L1022.2 960.3L1021.9 960.4L1021.4 960.6L1020.1 960.8L1019.9 960.8L1017.7 961L1017.4 961L1016.4 961.1L1016.4 961.1L1016.2 961.1L1014 960.4L1013.7 960.3L1011.6 959.7L1011.3 959.6L1011.3 959.6L1009.7 958L1009.4 957.7L1007.3 955.6L1007.2 955.5L1007 955.6L1005.7 956.3L1005.5 956.4L1003.6 957.3L1003.4 957.4L1003.2 957.6L1002.2 957.5L1001.9 957.5L1000 957.3L999.7 957.3L997.9 957.2L997.6 957.2L996 957.1L995.2 957.2L995 957.3L993.8 957.5L993.6 957.6L991.7 958L991.5 958L989.9 958.4L989.6 958.4L988.9 958.6L987.6 958.1L987.3 958.1L985.9 957.6L985.6 957.5L984.1 957L983.8 956.9L982.8 956.6L982.6 956.5L982.4 956.4L979.9 955.8L979.7 955.8L978 955.4L977.8 955.3L976.7 955L974 958.2L973.7 958.6L972.2 958.5L972 958.4L970.6 958.3L970.3 958.3L968.9 958.2L968.6 958.1L966.4 958L966.2 957.9L965.6 957.9L962.6 958.5L960.9 958.8L960.6 958.9L959.5 959.1L958.7 958.7L958.5 958.6L955.6 957.1L955.3 957L954.2 956.5L953.9 956.3L952.4 955.5L952.2 955.5L952 955.3L950.5 954.6L950.3 954.5L948.8 953.7L948.5 953.6L946.7 952.7L946.4 952.6L946.3 952.5L942 953.5L941 953.8L940.7 953.9L940.2 954L938.9 953.5L938.6 953.4L937.8 953L936.8 953.3L936.6 953.3L934.5 953.8L934.3 953.9L933.7 954L931.9 954.2L931.6 954.2L930.4 954.3L930.2 954.3L929.1 954.4L928.8 954.4L926.6 954.5L926.6 954.5L926.4 954.7L923.7 956.7L923.4 956.9L922.5 957.6L922.3 957.3L922 957L920.9 955.8L920.6 955.5L919 953.7L918.8 953.4L918.5 953L916.3 953.6L916.1 953.6L914.5 954L914.3 954.1L912.4 954.5L912.2 954.6L910.7 955L910.5 955L909.1 955.4L908.9 955.4L908.3 955.6L907.2 955.9L907 955.9L905.3 956.4L905.1 956.5L903.1 957L902.8 957.1L900.6 957.7L900.4 957.8L899.1 958.1L898.7 958.4L898.5 958.6L896.8 959.8L896.6 960L895.1 961.2L894.5 961.2L894.2 961.3L893.3 961.4L893 961.4L891 961.7L890.8 961.6L890.6 961.5L888.7 960.7L888.5 960.6L886.4 959.8L886.1 959.7L885.9 959.6L883 954.6L882.9 954.5L881.5 954.8L881.2 954.8L879.1 955.1L878.8 955.2L876.5 955.5L876.3 955.5L874.7 955.8L874.5 955.8L873 956L872.8 956.1L872.7 956.1L870.6 955.9L870.3 955.8L869.2 955.7L868.9 955.7L867 955.5L866.8 955.5L865.3 955.3L865.1 955.3L862.9 955.2L862.6 954.9L862.6 954.9L861 955L860.8 955.2L859.5 955.3L859.3 955.1L857.3 955.1L857 955.9L855.5 956.1L855 956.1L854.8 955.2L852.6 955.3L852.4 957.7L851.3 957.9L851 955.3L849.3 955.4L849.1 956.4L847.3 956.5L846.9 956.6L846.7 955.6L845.1 956L844.8 957.1L842.7 957.5L842.5 956.5L841.1 956.7L840.9 957.9L839.6 958.2L839.4 957.1L837.2 957.5L837.2 957.6L837 958.3L834.8 958.4L834.5 957.7L832.4 957.8L832.2 958.8L831.1 958.9L830.9 957.9L829.5 958L829.2 959.7L828 959.8L827.4 960L827.1 958.3L826 958.7L825.7 961.3L823.7 962L823.5 959.5L821.9 960L820.7 960.5L820.5 962.4L818.8 963.1L818.6 961.4L816.9 962L816.9 962.3L816.6 963.9L814.9 964.8L814.7 963.2L812.5 964.2L812.2 967.6L811.1 968.2L810.9 965.1L810.8 965.1L809.4 966.1L809.2 967.7L808.7 968L807.7 971.1L806.9 969.2L806.7 967.1L804.2 966.4L804 967.1L803 966.8L802.7 966L801.6 965.7L801.4 968.5L799.6 968L799.2 967.7L799 964.6L797.2 963.3L797 964.2L795.5 963.1L795.4 963.1L795.1 961.9L791.7 960.5L791.4 960.5L788.8 961L788.5 963.8L787.5 964.1L787.3 961.3L784.9 961.8L784.7 962.8L783.2 963.1L783 962.1L781.3 962.5L781 962.5L780.7 966.4L779.3 966.8L779 963L777.9 963.3L777.7 965.5L775.5 966.1L775.3 964L773.1 964.5L772.9 965.8L771.3 966.2L771.1 965.3L771 965L768.9 965.2L768.7 966.8L767.6 966.9L767.3 965.4L763.4 965.7L761.5 965.9L761.3 969.1L761 969.2L759.4 969.5L759.2 966.3L755.8 966.9L753.4 967.3L753.1 970.4L752.8 970.5L752.1 970.3L751.9 967.1L749.1 966.1L748.9 967.4L747.3 966.8L747 965.3L745.7 964.8L745.7 964.8L745.5 967L743.6 967.6L743.4 965.5L741.5 966L741.3 968L740.1 968.4L739.8 966.5L738.6 966.8L737.9 967.1L737.7 972.5L735.8 973.4L735.5 968.1L733.8 968.7L733.5 971.6L732.5 972.1L732.2 972.1L732 969.3L729 969.7L728.8 974.9L727.8 975L727.5 969.9L725.8 970.1L725.5 973.5L725.4 973.5L723.9 974L723.7 970.8L721.5 971.6L721.2 977.2L719.9 977.7L719.7 972.2L718.3 972.7L717.5 973.9L717.2 976.7L715.6 979.1L715.4 977L715.2 977.2L713.2 976.6L712.9 980.8L711.6 980.4L711.4 976L710.5 975.7L710.2 978.9L710.2 978.9L708.1 978.1L707.9 974.7L707.8 974.6L705.3 974.3L705.1 980.3L704 980.1L703.7 974L703.7 974L701.6 973.4L701.4 979.1L699.7 978.7L699.4 972.8L698.6 972.5L697.9 972.5L697.6 975.8L696.3 975.9L696 972.5L693.9 972.5L693.7 977.2L693.5 977.2L692.4 977.4L692.2 972.8L690.4 973.1L690.1 978.9L687.9 979.4L687.7 973.7L686.5 974L686.3 981.3L684.5 981.7L684.2 974.4L683.4 974.5L680.4 974.9L678.4 975.1L678.1 980.9L676.4 981.1L676.1 975.3L673.9 975.5L673.7 979.2L673.2 979.3L672.2 979.3L672 975.7L669.5 975.6L669.2 978.1L668.1 978.1L667.9 975.6L667 975.6L666.7 981.3L664.5 981.4L664.2 975.6L663 975.6L662 975.7L661.8 977.8L660.7 977.8L660.5 975.8L657.6 976L657.3 984.4L656.3 984.4L656.1 976L652.9 976.2L652.1 976.3L650 976.6L649.7 979.6L647.9 980L647.7 977L646.6 977.2L646.3 980.9L644.4 981.1L644.1 977.5L642.7 977.7L642.6 977.8L642.3 984.3L640.8 984.7L640.6 978.3L638.3 979L638 987.6L636.7 987.9L636.4 979.4L634.6 979.8L633.7 979.9L633.4 986.8L632.1 986.7L631.8 979.7L629.8 979.5L629.6 981.4L628.1 981.3L627.8 979.4L625.9 979.3L625.7 987.2L624 987.1L623.8 979.1L622.3 979.1L622 985.4L620.4 985.2L620.1 978.9L619.4 978.8L618.2 979.4L618 984.3L617 984.7L616.8 979.9L614.3 980.9L614.1 980.9L613.8 983.6L612.6 983.8L612.3 981.2L607.9 981.8L607.3 981.9L607.2 986.6L607.1 990.4L605 991.1L604.8 982.9L602.1 984L600.5 985.1L598.3 986.8L598.1 995.3L598 995.3L596.5 995.4L596.2 987.1L594.6 987.1L594.4 989.1L592.9 989.1L592.7 987.1L591.9 987.1L590.7 987.1L590.5 995.5L588.9 995.4L588.7 986.8L584.7 986.4L582.5 986.2L582.3 992.6L581.8 992.6L581 992.8L580.7 986.4L578.9 986.8L578.7 991.9L577.2 992.4L577 987.3L572.4 988.5L571.6 988.7L570.3 989.1L570 997.5L568.6 998L568.4 989.6L566.5 990.2L564.8 991.5L563.2 992.6L562.9 997.3L561.4 998.3L561.3 998.3L561.1 993.7L559 992.9L558.7 1002.7L557.4 1002.4L556.9 1002.4L556.6 992.4L555.1 992.8L554.9 995.2L553.4 995.5L553.1 993.1L552.3 993.3L550.5 992.1L550.2 997.5L549.3 996.9L549 991.2L546.2 989.3L544.8 988.1L542.7 986.5L542.5 991L541.1 989.9L540.5 989.7L540.3 984.9L538.6 984L538.4 988.1L537.2 987.5L536.9 983.2L533 981.2L532.6 981.1L531.4 980.8L531.2 985.4L529.5 985.1L529.3 980.3L527.6 979.9L527.3 990L526.9 990L525.2 990.7L524.9 980.6L523.3 981.1L523 986.3L522.8 986.4L520.8 987.4L520.6 982.4L516.9 984.2L516.7 984.3L514 983L513.8 987.2L512.7 986.6L512.5 982.2L511.9 981.9L511.6 984.3L510.6 983.8L509.7 983.7L509.4 981.2L507.4 981.1L507.2 985.6L505.1 985.4L504.9 980.7L502.9 980.5L502.7 988.6L501.2 988.5L501 980.3L500.5 980.3L498.9 979.6L498.6 982.7L497.3 982.3L497.1 979L495.7 978.4L495.4 987.1L495.4 987.3L493.4 986.5L493.2 977.4L491.3 976.6L491 980L490.3 979.7L489.6 979.7L489.3 976.3L487.2 976.3L486.9 980.4L485.7 980.4L485.4 976.3L483.5 976.3L483.3 979.3L481.3 979.3L481.1 976.3L480.2 976.3L478.9 977.5L478.6 981L477.8 981.9L477.1 981.9L476.9 978.5L474.6 978.4L474.3 981.8L473.7 981.7L473.1 982L472.9 978.7L471.7 979.1L471.4 984.4L469.9 985L469.7 980L468.6 980.4L467.6 980.8L467.4 986.4L465.3 987.3L465.1 981.8L463.5 982.4L463.1 982.8L462.8 990.9L461.3 991.6L461.1 983.9L458.8 985.3L458.6 993.3L458.4 993.4L457.5 993.2L457.3 985.3L455.9 985L455.6 994.8L453.4 994.4L453.4 992L453.2 984.6L451.1 985.4L450.9 992.3L449.2 993.1L449 986.2L448.3 986.5L447.6 986.6L447.3 997.3L445.2 996.7L445 985.9L443.9 985.7L443.6 989.7L443.2 989.6L441.6 990.2L441.4 986.3L439.5 987.1L439.3 996.7L438.1 997.1L437.5 997.5L437.3 988.2L435.9 989.5L435.6 995.5L433.8 997L433.6 991.3L433.1 991.6L432 991.9L431.8 996.4L429.9 996.8L429.6 992.4L428 992.7L428 993.8L427.8 1001.6L426.1 1002.3L425.8 993.6L423 994.7L422.9 997.6L422.8 999.5L421.5 999.5L421.2 994.7L419.5 994.8L419.2 998.3L417.8 998.3L417.8 998.2L417.5 994.5L416 993.3L415.8 995.8L414.2 994.6L414 991.7L412.7 990.7L411.7 990.6L411.5 997L409.8 996.6L409.5 990.1L408.1 989.8L407.9 1000.8L405.9 1000.4L405.6 989.3L403.9 989.1L403.7 998.2L402.6 998L401.5 998.4L401.3 989.2L399.6 990.1L399.3 1001.6L397.8 1002.1L397.6 990.7L393.4 992.3L392.4 992.7L391.8 993L391.5 995.6L389.7 996.4L389.5 994L388.1 994.6L387.8 1000.1L386.2 1000.8L386 995.6L385.3 995.8L383.4 995.8L383.1 998.3L381.6 998.3L381.4 995.8L380.7 995.9L380.5 1006.2L378.3 1006.2L378.1 995.9L377.2 995.8L376 996.3L375.7 1008.5L373.7 1009.3L373.4 997.3L371.7 998L371.5 1009.9L370.4 1010.4L370.2 998.6L367.4 999.8L367.1 1007L367 1007.1L365.7 1007.4L365.4 1000.4L362 1000.9L359.8 1001.4L359.5 1006.1L358.4 1006.4L358.1 1001.7L356.9 1002L355.8 1001.8L355.6 1006.6L354.1 1006.3L353.8 1001.6L352.1 1001.4L351.8 1011.7L350.1 1011.5L349.9 1001.1L347.3 1000.6L347.1 1004.4L346.7 1004.4L345.8 1004L345.6 999.9L344.4 999.3L344.1 1005.2L342 1003.9L341.8 997.9L340.5 997.2L340.3 1009L338.3 1007.8L338.1 996L336.6 995.3L336.3 1001.6L334.3 1000.5L334.1 993.9L332.5 993.1L332.1 993.2L331.9 1005.5L330.2 1005.9L329.9 993.9L328.1 994.5L327.8 1000.1L326.4 1000.7L326.1 1000.7L325.9 995.3L323.5 996.1L323.2 1007.7L322 1008L321.8 996.5L320.6 996.8L320.3 1002L318.2 1002.8L317.9 997.7L316.2 998.2L315.6 998.4L315.3 1011.1L314.3 1011.7L314.1 999L311.7 1000L311.5 1007.6L310.2 1007.9L310 1000.7L308.1 1001.6L307.8 1014L306.4 1014.4L306.1 1002.2L306 1002.3L304.6 1002.5L304.4 1012.5L302.7 1013L302.4 1003.1L298 1003.9L296.3 1004.2L296.1 1007.9L295.9 1007.9L294.5 1008.1L294.3 1004.6L292 1005L291.8 1013.2L290.2 1013.4L289.9 1005.2L288.8 1005.3L287.6 1005.5L287.4 1009.4L286.4 1009.6L286.1 1005.8L285.7 1005.9L284.8 1005.7L284.5 1017L282.9 1016.6L282.6 1005.2L280.9 1004.8L280.6 1012.1L279 1011.9L278.8 1004.4L278.6 1004.3L276.3 1003.5L276 1007.9L274.3 1007.3L274 1002.6L272.9 1002.2L272.7 1014.2L271.2 1013.6L270.9 1001.6L270.5 1001.3L267.9 1000.7L267.6 1013.7L266.6 1013.4L266.3 1000.1L264.8 999.8L264.6 1009.3L262.8 1008.7L262.5 999L260.3 998.3L260.2 998.2L259.9 1007.5L258.6 1007.2L258.4 997.7L256.9 997.1L256.6 1002.1L254.7 1001.5L254.4 996.2L252.7 995.8L252.5 1001.6L250.6 1000.9L250.3 994.8L250.2 994.8L248.6 994.2L248.3 1006.9L246.5 1006.3L246.2 993.3L244.6 992.7Z" fill="#fc9272" fill-opacity="0.36"/>
<path d="M244.6 982.5L244.7 981L246.2 981.5L246.4 985L248.7 985.8L249 984L250.2 984.4L250.2 984.4L250.4 986.5L252.4 987.1L252.6 984.3L253.7 984.6L254 987.7L257 988.7L260.1 989.8L260.3 987L260.3 987L261.8 987.5L262 990.4L264.3 991.1L264.6 988.1L265.8 988.5L266 991.6L268.6 992.4L268.8 990.4L270.5 990.9L270.9 991.1L271.1 993.2L272.7 993.8L273 991.2L274.8 991.9L275.1 994.7L276.2 995.1L276.5 991L277.9 991.6L278.2 995.9L278.6 996L279.9 996.3L280.2 991.5L282.1 991.8L282.3 996.7L284.6 997.2L284.9 993.8L285.7 994L286.3 993.9L286.6 997.4L288 997.2L288.2 994L288.8 993.9L289.4 993.8L289.7 996.9L292.5 996.5L292.7 992.9L294.1 992.7L294.3 996.2L295.9 996L296.6 995.9L299.9 995.2L300.1 991.2L301.2 991L301.4 994.9L303.9 994.4L306 994L308.3 993L308.6 991L309.8 990.5L310 992.4L312.6 991.4L312.8 988.1L313.9 987.7L314.1 990.8L316.1 990L316.2 989.3L316.4 987.8L318.1 987.3L318.4 989.3L319.8 988.8L323.8 987.6L324.1 985.2L325.5 984.8L325.7 987L326.4 986.9L328.4 986.2L331.8 985L332.1 980.3L332.5 980.2L333.2 980.6L333.4 985.3L335.8 986.6L336 983.8L337.4 984.5L337.7 987.6L339.6 988.6L344 990.8L344.3 987.4L345.7 988.2L346 991.9L346.7 992.3L347.6 992.4L347.8 988.1L349.5 988.4L349.7 992.7L351.9 993L352.1 991L354 991.3L354.3 993.4L355.6 993.6L355.9 990.4L356.9 990.6L357.6 990.4L357.9 993.6L359.8 993.2L360.1 990.5L361.9 990.1L362.1 992.7L364 992.4L367 991.8L367.5 991.5L367.8 988.8L369.8 988L370.1 990.5L372.1 989.7L372.4 985.5L374.3 984.8L374.6 988.7L376.2 988.1L376.4 983.4L377.2 983.1L377.9 983.1L378.2 987.7L379.5 987.7L379.7 983.4L381.3 983.3L381.6 987.7L384.1 987.6L384.4 982.7L385.3 982.6L385.4 982.6L385.7 987.5L388.2 986.4L391.8 984.7L392.1 979.6L392.4 979.4L393.9 978.9L394.1 983.8L395.4 983.4L395.6 981L397.1 980.4L397.3 982.6L399.2 981.8L399.4 977.2L400.5 976.7L400.8 981.2L402.6 980.5L403.5 980.7L403.8 975.9L405.6 976.2L405.8 981.1L407.2 981.4L407.5 977L408.8 977.2L409.1 981.8L411.1 982.2L411.4 977.1L412.5 977.2L412.7 982.4L415.8 985L416.1 980.7L417.7 981.9L417.8 984.5L417.9 986.5L419.1 986.5L419.3 982.3L421.4 982.3L421.7 986.5L422.9 986.5L423.9 986.1L424.2 983.9L425.3 983.4L425.5 985.5L427.8 984.6L428 984.5L431.1 983.9L431.4 979.8L433.1 979.4L433.3 979.2L433.6 983L435.9 981.2L438.1 979.4L439.4 978.9L443.2 977.3L443.4 977.4L443.7 973.9L445 974.2L445.2 977.7L447.4 978.1L447.7 973.8L448.3 973.9L449.1 973.6L449.3 977.9L451.4 977.1L451.7 971.6L452.9 971.2L453.2 976.4L453.4 976.3L455.5 976.7L458.4 977.3L459.1 976.9L462.9 974.6L463.1 969.1L463.5 968.9L465.1 968.2L465.3 973.5L467.5 972.6L468.6 972.2L470.9 971.2L471.2 965.7L472.2 965.4L472.4 970.7L473.7 970.1L475.6 970.2L475.8 965.6L477.2 965.7L477.5 970.3L477.8 970.3L479.6 968.6L479.8 965.2L480 965L480.2 964.9L481.7 964.9L482 968.1L483 968.1L483.3 965.5L484.5 965.5L484.8 968.1L487.3 968.1L487.6 966L488.5 966L488.8 968.1L490.3 968.1L490.7 968.3L490.9 965.9L492.7 966.7L493 969.2L494.9 970L495.2 967.1L495.4 967.2L496.1 967.5L496.3 970.5L498.7 971.4L498.9 966.3L500.3 966.9L500.5 970.5L500.6 972.2L502.8 972.5L503.1 969.1L504.2 969.2L504.5 972.6L507.4 972.9L507.7 968.3L508.8 968.4L509 973.1L510.6 973.3L511.2 973.5L511.4 970.8L513.1 971.5L513.4 974.6L515.3 975.6L515.6 971.1L516.7 971.6L517.5 971.3L517.8 975.8L518.8 975.3L519 971.3L520.4 970.7L520.6 974.4L522.4 973.5L522.7 969.9L522.8 969.9L524.8 969.2L525 972.5L526.9 971.8L526.9 971.6L527.1 969.7L528.9 970.2L529.1 972.3L530.6 972.7L533 973.3L535.1 974.4L535.4 970.4L536.6 971L536.9 975.3L538.5 976.1L538.8 971.1L540.2 971.8L540.4 977.1L541.1 977.4L543.1 978.9L543.3 975.7L544.5 976.6L544.7 980.3L546.2 981.5L546.5 981.7L546.7 977.9L548.6 979.1L548.9 983.3L550.8 984.6L551 982L552.3 982.8L553 982.7L553.3 985.4L554.5 985.1L557.4 984.6L558.5 985L558.7 981.4L559.9 981.8L560.2 985.6L561.4 986.1L562.4 985.4L562.6 983L564.5 981.7L564.8 983.8L566.5 982.6L566.7 982.5L567 978.7L568.2 978.4L568.4 982L571 981.2L571.3 979.1L571.6 979L572.2 978.9L572.5 980.8L574.7 980.3L575 977.3L576.3 977L576.5 979.8L578.8 979.3L579.1 974.4L581 973.8L581.3 978.6L581.8 978.5L582.1 978.6L586.5 979L586.8 976.6L588.8 976.8L589 979.3L590.7 979.4L590.9 976.9L591.9 977L592.5 977L592.8 979.5L594.2 979.6L598 979.6L598.3 979.4L602.1 976.5L602.7 976.3L602.9 974L603.9 973.6L604.1 975.7L606 974.9L606.3 971.5L607.2 971.1L607.4 971.2L607.6 974.4L610.4 974L610.6 970L611.8 969.9L612 973.8L614.3 973.5L614.8 973.3L615 970.5L616.6 969.8L616.9 972.4L618.5 971.8L618.7 968.4L619.4 968.1L620.1 968.2L620.3 971.5L621.9 971.6L626.5 971.9L626.7 968.2L628.4 968.3L628.6 972L630.3 972.1L630.6 968.6L632.1 968.7L632.4 972.3L634.3 972.4L634.6 972.5L638.2 971.5L638.5 969.2L640.5 968.8L640.7 970.9L642 970.6L642.7 970.4L646 969.9L646.3 965.7L647.5 965.6L647.8 969.7L650.4 969.3L650.6 965.6L652.1 965.5L652.4 969L652.9 968.9L653.9 968.8L654.2 963.8L655.5 963.8L655.7 968.8L658.2 968.6L658.5 964.5L659.7 964.5L660 968.6L662 968.5L663 968.4L666.3 968.4L666.5 964.5L668.4 964.5L668.6 968.3L670.1 968.4L670.4 963.8L671.7 963.8L672 968.3L673.2 968.4L673.6 968.4L673.9 963.5L675.8 963.3L676 968.1L677.6 968L681.5 967.6L683.4 967.4L685.7 966.9L690.3 966L693.4 965.4L693.5 963.3L693.6 961.8L695.7 961.8L696 965.3L697.7 965.4L698 963.3L698.6 963.3L698.9 963.4L699.1 965.5L700 965.8L702.1 966.4L702.4 962.5L703.7 962.8L704.2 962.9L704.5 966.9L705.8 967.1L706.1 962.7L707.3 962.9L707.6 967.4L707.8 967.4L709.5 968.1L709.7 963.4L710.2 963.5L711 963.7L711.3 968.7L713.5 969.4L713.8 965.1L714.8 965.4L715 969.8L715.2 969.9L717.9 965.9L718.2 961L718.3 960.8L719.5 960.3L719.8 964.8L720 964.7L721.5 964.2L721.8 959.8L723.5 959.1L723.8 963.4L725.4 962.8L725.7 962.8L725.9 960L727.2 959.8L727.4 962.5L729.6 962.2L729.9 959.8L731.7 959.6L732 961.9L732.5 961.8L733.3 961.5L733.5 957L734.9 956.4L735.1 960.7L737.7 959.6L738 954.8L738.6 954.5L739 954.4L739.2 959L741.4 958.5L741.6 953.7L742.9 953.3L743.2 957.9L745.3 957.3L745.5 954.6L745.7 954.6L747.5 955.2L747.7 957.9L749 958.4L752.8 959.8L753.1 959.7L753.4 957.3L754.4 957.1L754.6 959.4L757.5 958.9L757.7 956.8L758.8 956.6L759.1 958.6L761 958.2L761.5 958.2L765.7 957.7L766 955.4L766.9 955.3L767.1 957.6L769.5 957.3L769.8 952.9L770.9 952.7L771.1 956.5L771.2 957.2L773 956.8L773.2 953.8L775.1 953.3L775.3 956.2L777.4 955.7L777.6 951.7L778.5 951.5L778.8 955.3L780.9 954.7L781.1 950.1L781.3 950.1L782.7 949.8L783 954.3L785.4 953.8L785.6 948.7L786.8 948.5L787.1 953.5L789.4 953.1L789.6 950.1L791.4 949.7L791.5 949.7L791.7 952.7L793.4 953.4L793.6 950.5L794.8 950.9L795 953.9L795.5 954.2L797.3 955.5L797.6 953.4L799.5 954.8L799.6 955.3L799.8 957.3L800.8 957.6L801 954.6L802.5 954.9L802.7 958.1L804.8 958.7L805 956.3L806.3 956.6L806.5 959.2L806.7 959.3L807.7 961.8L808.7 958.7L809.5 958.1L809.8 954.3L810.8 953.6L811.9 953.1L812.1 956.5L813.1 956L813.3 953.8L815.3 952.9L815.5 954.8L816.8 954.2L816.9 954.2L821.4 952.4L821.6 950L821.9 949.9L823.6 949.3L823.8 951.5L825.4 951L825.7 946L827 945.7L827.2 950.4L828 950.1L828.8 950L829.1 945.4L830.7 945.3L830.9 949.9L833.2 949.8L833.5 945L835 944.9L835.2 949.7L836.6 949.6L837.2 949.6L840.7 948.9L841 946.7L842.4 946.5L842.7 948.5L845.3 948L845.5 945.7L846.7 945.4L846.9 947.6L847.3 947.6L848.4 947.5L848.6 943.6L849.8 943.4L850.1 947.4L853 947.2L855.5 947.1L856.9 947L857.1 942.1L859 942L859.2 946.8L861.1 946.7L861.4 941.6L862.6 941.4L862.9 941.5L863.1 946.6L865 946.7L865.3 942.5L867 942.7L867.3 947L868.8 947.2L872.7 947.5L872.7 946.5L872.9 942.7L874.2 942.5L874.5 947.3L876.5 947L880.6 946.4L882.9 946L884.4 948.6L884.7 945.3L885.9 947.4L886.6 947.7L886.8 951.4L888.8 952.3L891 953.2L892.3 953L892.6 949L893.5 948.8L893.7 952.8L895.1 952.7L896.5 951.6L896.8 946.5L897.8 945.8L898 950.5L899.1 949.6L900.3 949.3L900.6 946.1L902.2 945.7L902.4 948.7L904.3 948.2L908.3 947.1L908.4 947L908.6 944.2L910.2 943.8L910.5 946.5L912.3 946.1L912.5 942.7L914 942.3L914.2 945.5L916.6 944.9L916.9 942L918.5 941.6L918.6 941.8L918.8 944.9L920.5 946.9L922.5 949.1L924.8 947.3L925.1 942.9L926.3 942L926.6 946L926.6 946L928.2 945.9L928.5 941.5L929.8 941.5L930 945.8L932.4 945.6L932.6 942.6L933.6 942.5L933.7 943.5L933.9 945.4L936.8 944.8L937.8 944.5L940.2 945.5L940.4 945.4L940.7 943.3L941.8 943L942.1 945L944.6 944.4L944.9 940.6L946.3 940.2L947 940.6L947.2 944.5L947.8 944.7L948 942.5L949.1 943.1L949.4 945.6L952.4 947L952.6 947.2L952.9 945.1L954.1 945.7L954.3 948L956.6 949.1L959.5 950.6L960.1 950.5L963.7 949.7L963.9 946.8L965.3 946.5L965.5 949.4L965.6 949.4L968.1 949.5L968.4 944.8L969.8 944.9L970.1 949.7L972.4 950L972.6 946.8L973.7 946.9L974.4 946.1L974.6 949L976.1 947.3L976.3 944.5L976.7 944L977.3 944.2L977.6 946.7L980.3 947.4L982.8 948.1L983.8 948.4L984 945.1L985 945.4L985.2 948.8L988.1 949.7L988.3 944.8L988.9 945L989.3 945L989.6 949.9L992 949.4L995.9 948.6L996 945.7L996.1 944.5L998.2 944.6L998.5 948.7L999.5 948.8L999.7 946.7L1001.5 946.8L1001.7 948.9L1003.2 949.1L1003.6 948.8L1003.9 944.7L1005.2 944.1L1005.4 947.9L1007.2 947L1008.2 948L1008.4 944.7L1010 946.3L1010.3 950.1L1011.3 951.1L1012 951.3L1012.3 946.3L1013.3 946.5L1013.5 951.7L1015.6 952.4L1016.4 952.6L1019.8 952.2L1020.1 947.2L1021.4 947L1021.7 947L1022 951.9L1024.1 951L1024.4 948.3L1025.5 947.9L1025.8 950.4L1026.5 950.1L1027.9 949.2L1028.2 944.6L1029.8 943.6L1030 947.9L1031.6 947L1031.6 946.8L1031.8 941.9L1033 941.1L1033.3 945.9L1036 944.1L1036.3 941.2L1037.7 940.2L1038.2 940.1L1038.4 942.7L1039.6 942.4L1039.8 939.8L1041.4 939.4L1041.7 941.8L1043.8 941.2L1044 938.8L1044.8 938.6L1045.7 938.3L1045.9 940.6L1047.2 940.2L1047.4 936.6L1048.8 936.2L1049.1 939.6L1049.9 939.4L1051.3 938.9L1051.5 936L1052.5 935.6L1052.8 938.4L1055.2 937.5L1055.5 932.8L1056 932.5L1056.9 931.5L1057 933.1L1057.2 936.2L1059.9 926.1L1060 925.9L1060.2 925.3L1062.1 918.4L1062.3 917.5L1063 915.1L1063.4 910.6L1064.1 902.1L1064.6 896.6L1066.5 914L1067.7 916.4L1067.9 917L1069 919.3L1069.2 918.6L1069.9 915.5L1070.2 914.5L1071.1 910.7L1071.3 909.6L1072 906.7L1072.4 908.5L1072.7 909.5L1074 914.9L1074.3 914.7L1075.7 914.6L1075.9 914.6L1077.1 914.5L1077.3 914.4L1078.3 914.4L1079.7 915.1L1079.9 915.2L1080 915.3L1081.5 916.4L1081.7 916.6L1082.4 917.1L1083.5 917.4L1085 917.8L1086.5 922.5L1086.9 927.8L1088 929.5L1090.5 930.8L1091.5 930.1L1091.8 926.8L1092.9 926L1093.1 928.9L1095 927.7L1095 927.6L1095.3 922.5L1095.6 899.7L1096 873.7L1096.2 862L1096.2 861.9L1096.9 859.9L1097.1 859.1L1097.5 858L1099.2 869.7L1099.5 872L1099.5 872.6L1099.8 875.4L1101.5 895L1101.6 896.1L1101.7 897.1L1101.9 898.6L1102.7 907.3L1103 909.9L1103.2 911.7L1103.5 911.9L1105 913L1105.3 913.2L1105.5 917.1L1106.8 918.1L1107.7 917.6L1107.9 914.8L1109.1 914.2L1109.4 916.8L1111.5 915.7L1112.9 915L1115.3 914.3L1118 913.5L1119.4 914.7L1119.7 912.7L1120.9 913.7L1121 915.1L1121.1 916.1L1123.1 917.8L1123.3 916L1125.1 917.5L1125.3 917.5L1125.5 919.5L1127.3 918.9L1127.5 914.4L1128.6 914.1L1128.9 918.4L1130.2 918.1L1131 916.7L1131.8 915.3L1132.1 850L1132.5 837L1133.1 838L1133.4 848.4L1133.6 856L1134.2 856.2L1134.8 856.5L1135.2 856.6L1135.9 856.9L1137 857.3L1137.6 857.6L1138 857.7L1138.8 858L1138.9 856.2L1139.5 840L1139.8 839.2L1140.3 838L1140.3 839.3L1141 860L1141 860.1L1141.7 863.3L1142.6 867.8L1143.4 871.5L1143.5 872L1143.9 898.7L1144.2 900.1L1144.8 903.5L1147.1 904.8L1147.2 904.9L1148.8 907.2L1150.8 904.5L1151.1 904.8L1151.3 901.3L1152.8 903.2L1152.9 904.8L1153 907L1154.9 905.5L1155.1 905.9L1155.4 901.7L1156.9 904.6L1157 904.5L1157.4 901.3L1157.7 901.6L1159.2 887.5L1159.4 885.2L1160 879.6L1161.2 878.9L1161.5 878.8L1162.5 878.2L1162.7 878.1L1163 878L1165.7 900.2L1166 902.1L1167.3 906.1L1167.6 900.6L1167.8 900.8L1168.6 902L1168.8 906.7L1170 906.4L1170.2 906.4L1171 906.2L1171.2 903.7L1172.2 903.4L1172.4 905.8L1174.8 905.2L1175.1 902.4L1176.3 902.1L1177.2 902.3L1177.4 905.1L1178.8 905.2L1179 900.3L1180.7 900.6L1181 905.6L1182.3 905.9L1183.2 905.2L1183.4 901.2L1184.8 900L1185.1 903.6L1185.4 903.3L1186.5 903.5L1190.5 903.9L1190.9 904L1191.2 900.8L1192.4 901.3L1192.7 904.8L1194.8 905.6L1195 901.8L1196.5 902.4L1196.6 904.4L1196.7 906.3L1198.7 906.2L1199 901.3L1200.6 901.2L1200.9 906L1202.4 905.9L1202.6 903.9L1202.7 903.9L1204 904.1L1204.2 906L1206 906.2L1206.9 906.2L1207.2 902.8L1207.8 901.9L1209.1 898.9L1209.4 898.3L1210 896.8L1210.7 894L1210.8 893.4L1210.9 893L1212.2 888.7L1212.4 887.9L1212.8 886.6L1214.6 892.7L1214.9 893.5L1216 897.2L1216.1 897.4L1216.3 897.8L1218.3 904.4L1218.9 905L1221 905.5L1222.5 905.3L1222.7 901L1224.2 900.9L1224.5 905L1225 904.9L1226.7 905.3L1229.1 905.9L1230.3 905.3L1230.5 901.2L1231.5 900.9L1231.7 904.8L1234.6 903.6L1234.8 899.3L1235.2 899L1235.9 899L1236.1 903.3L1238.6 903.1L1241.3 902.8L1242 902.8L1242.2 900.1L1243.2 900.1L1243.4 902.7L1246.7 902.4L1247 899L1247.4 898.9L1248.5 899L1248.8 902.5L1250.8 902.6L1251.1 899.7L1252 899.9L1252.3 902.8L1252.5 902.8L1253.9 902.4L1254.1 899L1256 898.5L1256.2 901.7L1257.5 901.3L1258.6 902L1258.9 899.1L1260.2 899.9L1260.5 903.1L1261.6 903.9L1262.7 904.1L1265.7 904.9L1266.6 905.7L1266.8 903L1268.6 904.8L1268.8 908.1L1269.7 908.9L1270.3 909.3L1270.6 904.8L1272.2 905.8L1272.5 910.8L1273.8 911.6L1274.1 908L1275.8 909.2L1276.2 909L1276.4 912.7L1278.3 912.2L1278.6 907.4L1279 907.2L1280.4 902L1280.7 900.4L1281.9 892.6L1282 892.3L1282.2 890.9L1282.4 889.9L1283.9 902L1284.2 903.9L1285 911.5L1286.4 911.7L1286.7 909.2L1287.6 909.4L1287.8 912L1288 912L1290.3 912.4L1294 913L1294.1 913L1297.7 917L1297.9 912.7L1298.2 912.9L1299.9 912.3L1300.1 916.8L1301.9 916.2L1302.2 916L1306.3 917.1L1306.4 917.1L1306.6 914.7L1308.7 915.3L1309 917.7L1309.9 918L1310.4 918.1L1312.4 921.1L1313.6 921.6L1317.5 923.2L1318.3 924.6L1318.6 921.4L1320 923.7L1320.2 927.7L1320.5 928.2L1322.4 930.5L1322.6 927.1L1323.8 928.6L1324 932.6L1324.6 933.3L1325.5 934.4L1325.7 929.7L1327.7 932.1L1327.9 937.4L1328.7 938.4L1330.3 939L1330.5 935.9L1332.5 936.6L1332.7 939.9L1333.6 940.5L1336.8 942.5L1337.5 942.9L1337.8 938.2L1339.1 939.2L1339.4 944.3L1340.9 945.5L1342.1 945.9L1345.6 946.9L1345.9 944.2L1345.9 944.2L1346.8 944.6L1347 947.6L1350 949.1L1350.1 949L1350.4 946.3L1351.5 946.1L1351.7 948.8L1353.6 948.6L1353.9 944.3L1354.1 944.2L1355.6 945L1355.8 949.5L1357.3 950.2L1357.5 946.3L1359 947.1L1359.2 950L1359.2 951.1L1361.3 951.3L1361.6 947.5L1363.2 947.7L1363.3 947.7L1363.5 951.6L1365.2 951.4L1365.4 948.9L1366.7 948.8L1366.9 951.2L1368.3 951.1L1370 951.8L1373.4 953.1L1374 953.4L1374.2 949.3L1375.5 949.8L1375.8 954.1L1377.7 954.8L1378 951.3L1378.5 951.5L1379.2 951.6L1379.5 955.3L1382 955.9L1383.5 956.2L1385.5 956.4L1388.6 956.7L1389.9 957.2L1390.1 953.9L1391.1 954.4L1391.4 958.1L1393.6 959.2L1393.7 958L1393.8 956.9L1395.1 958.2L1395.7 958.7L1396 961.3L1397.6 962.3L1397.8 960.6L1399.9 962L1400.1 964.1L1400.2 964.2L1401.5 964L1401.8 961.8L1403.7 961.7L1403.9 963.8L1405.2 963.7L1405.7 963.4L1409.8 961.4L1410.3 961.1L1413.5 960.2L1415.4 959.6L1417.4 959.4L1417.7 957.5L1419 957.4L1419.3 959.4L1421.2 959.2L1421.5 955.1L1422.7 955L1422.9 959.1L1423.5 959.1L1425.2 958.9L1425.4 954.1L1426.3 954L1426.6 958.9L1429.5 958.6L1429.7 956.3L1430.6 956.2L1431.3 956.1L1431.6 958.4L1432.8 958.1L1433 954.6L1434.4 954.3L1434.6 957.7L1436.8 957.4L1438.8 957L1440.9 957.1L1441.1 954.7L1442.6 954.8L1442.8 957.2L1445.1 957.4L1446.9 957.5L1449 958.8L1451 960L1453.2 960.8L1453.5 956.6L1455.2 957.3L1455.5 961.8L1456 962L1456.8 962.2L1457 957.5L1458.9 957.8L1459.2 962.7L1461.2 963.1L1461.5 958.6L1463.2 958.9L1463.3 958.9L1463.5 963.6L1465 964.1L1465.3 961.8L1467.4 962.5L1467.6 965L1468.7 965.4L1469 961.4L1469.2 961.5L1470.1 961.5L1470.4 965.6L1472.7 965.7L1476.5 965.9L1476.7 962.7L1477.4 962.7L1478.1 962.8L1478.4 966.1L1481.2 966.5L1481.5 963.7L1483.3 963.9L1483.6 966.7L1484.9 966.9L1485.1 962.1L1485.5 962L1486.2 962.3L1486.5 967.4L1489 968.4L1489.3 964.9L1490.6 965.4L1490.8 969.1L1491.6 969.5L1492.7 970L1493 965.5L1494 966L1494.3 970.8L1496.6 972L1497.7 972.5L1500 973.3L1500.5 973.5L1500.8 968.3L1501.8 968.7L1502.1 974.1L1504.7 975L1504.8 973.7L1505 972L1506.8 974.9L1507.1 978.4L1508.9 981.1L1509.1 981.4L1511.9 985.2L1512.7 985.8L1512.9 982L1513.9 982.9L1514.2 987.1L1516 988.7L1517 989.7L1517.2 986.2L1518.4 987.3L1518.5 989.8L1518.6 991.1L1520.3 988.7L1521.1 987.7L1524.9 987.2L1525.2 981.8L1526.2 981.7L1526.3 981.7L1526.6 987.2L1528.8 987.4L1529 985L1530.8 985.2L1531.1 987.5L1532.2 987.7L1532.7 987.8L1533 983.8L1534.3 984.4L1534.6 984.2L1534.9 988.3L1536.4 987.6L1536.6 983.1L1538.3 982.2L1538.5 982.2L1538.8 986.6L1540.7 986.3L1541 983.4L1541.9 983.3L1542.1 986.1L1544.5 985.8L1544.7 983.5L1546.5 983.3L1546.6 983.3L1546.9 985.6L1548.9 985.6L1549.1 982.7L1550.7 982.6L1551 985.6L1552.7 985.6L1554.6 985.5L1556.1 985.6L1560.1 985.8L1560.4 981.2L1561.5 981.2L1561.7 985.9L1562.7 986L1564.9 984.7L1565.1 978.8L1566.4 978L1566.6 983.6L1566.8 983.5L1568.7 981.8L1570.9 979.9L1572.7 978.8L1573 972.8L1574.6 971.9L1574.8 977.5L1575.9 976.8L1576.4 976.6L1580.3 974.2L1580.6 968.1L1581 967.9L1582.3 966.4L1582.5 971.9L1584.3 969.6L1584.6 964.5L1585.1 963.8L1586.5 963.7L1586.8 968.5L1587.8 968.4L1590.2 968.2L1592.3 967.4L1592.6 964.9L1594 964.4L1594.2 966.5L1594.2 966.6L1596 965.9L1596.2 960.6L1597.5 960L1597.8 965.2L1599.3 964.6L1600 964.7L1600.2 962.3L1602.2 962.6L1602.5 965L1603.8 965.2L1604.1 960.5L1605.9 960.8L1606.2 965.5L1606.4 965.6L1608 966.2L1608.3 960.7L1610.3 961.4L1610.6 967.2L1611.5 967.6L1612.1 968.4L1612.4 966.1L1613.9 968L1614.4 967.8L1614.7 970.3L1616.5 969.6L1618.1 968.9L1619.7 968.5L1619.9 963.1L1621.1 962.7L1621.3 968L1624 967.2L1624.2 967.1L1624.5 962.4L1626.2 962L1626.4 966.6L1627.8 966.3L1630.8 965.5L1631.8 965.2L1636.2 963.9L1639.3 962.9L1640.4 962.5L1640.6 959.1L1642.3 958.5L1642.6 961.8L1643.8 961.3L1644.1 955.4L1645.2 955L1646 955.1L1646.3 960.9L1647.7 961L1647.9 957.5L1649.8 957.6L1650.1 961.2L1650.3 961.2L1651.7 961.8L1651.9 955.9L1653.2 956.4L1653.4 962.5L1654.5 962.9L1655.7 963L1655.9 960.1L1657.1 960.2L1657.4 963.1L1659.4 963.2L1659.6 959.4L1659.7 958L1660.7 958.4L1660.9 963.7L1663 964.6L1663.9 964.4L1664.1 959.8L1665.7 959.5L1666 964L1667.2 963.7L1667.4 963.7L1667.7 960L1669.5 959.6L1669.7 963.2L1671.4 962.8L1671.5 962L1671.7 957.3L1672.9 958L1673.2 963.9L1675.6 965.3L1675.7 963.6L1675.8 961.5L1677.8 963.4L1678 967.7L1679.1 968.7L1679.4 969L1679.6 965.3L1680.7 966.1L1681 970.1L1683.3 971.7L1683.8 971.9L1684.1 967L1686.1 968L1686.4 973.2L1687.5 973.8L1687.9 974.1L1688.2 968.2L1690.1 970.2L1690.4 976.6L1690.9 977.2L1691 977.2L1691 1016.5L1690.9 1016.5L1689 1015.4L1688.8 993.4L1688.3 992.8L1688 1032.2L1687.5 1034.1L1685.1 1033L1684.9 997.5L1684 997.1L1683.7 1008.1L1683.3 1004.2L1681 1002.9L1680.8 989.8L1680.4 989.6L1680.1 997L1679.1 995.8L1677.2 994.2L1677 985.9L1676.2 985L1676 1021.7L1675.7 1022L1673.1 1021.4L1672.8 982.9L1672.4 982L1672.2 988.9L1671.5 992.3L1669.2 992.7L1668.9 986.1L1668.5 986.2L1668.3 993.8L1667.2 989.8L1665.4 990L1665.2 981.9L1664.2 982.4L1663.9 1007.7L1663 1011.9L1661.2 1011.4L1660.9 988.4L1660.5 988.6L1660.2 1034.4L1659.6 1032.9L1657.2 1032.8L1656.9 980.9L1656.4 979.9L1656.1 1014.8L1654.5 1017.2L1653.3 1016.8L1653.1 983.8L1652.5 983.9L1652.2 1007L1650.3 1006.9L1649.5 1006.5L1649.2 983.1L1645.2 986.2L1644.9 986.3L1644.5 986.4L1644.2 996.4L1641.4 992.1L1641.1 981.3L1640.6 981.8L1640.3 1043.7L1639.3 1043.8L1637.6 1043.1L1637.3 985.4L1636.6 985.7L1636.3 1003.8L1633.5 1003.5L1633.3 985.4L1632.6 985.6L1632.3 1019L1630.8 1019.5L1629.6 1019.4L1629.3 985.9L1628.5 986.1L1628.3 1044.2L1625.4 1043.1L1625.2 986L1624.5 986.2L1624.3 993.7L1624 994.6L1621.4 995.2L1621.2 988.1L1620.8 988.2L1620.5 1031.4L1618.1 1032.9L1617.7 1032.9L1617.5 993.1L1616.6 993L1616.4 1002.1L1613.9 1002.8L1613.5 1002.3L1613.2 993.2L1612.9 993.5L1612.6 1044L1611.5 1044L1609.7 1044L1609.4 991.7L1608.7 990.5L1608.5 1006.1L1606.4 1001.3L1605.8 1001.3L1605.5 983.7L1604.8 984.3L1604.5 1032.9L1601.8 1032.2L1601.6 981.1L1600.5 981L1600.2 993L1599.3 997.1L1597.5 997.5L1597.2 986.8L1596.9 986.9L1596.6 996.7L1594.2 994.5L1593.6 994.7L1593.3 984.7L1592.8 985.2L1592.6 1026.8L1590.2 1027.1L1589.6 1026.5L1589.3 986.1L1588.7 986.1L1588.5 1009.8L1585.6 1012.4L1585.4 990.8L1585.1 990.5L1584.7 991L1584.4 1005.7L1581.7 1008.2L1581.5 995.1L1581 995.6L1580.9 995.7L1580.6 1030.2L1577.7 1031.5L1577.5 999L1576.9 998.8L1576.7 1006.7L1575.9 1005.9L1573.7 1006.9L1573.5 999.4L1572.8 999.8L1572.6 1011.1L1570.9 1008.9L1569.9 1009.5L1569.6 997.9L1569.1 998.4L1568.8 1018.2L1566.8 1023.3L1566 1023.3L1565.8 1008L1565.2 1008.6L1564.9 1021.3L1562.7 1017.4L1562 1017.3L1561.8 1002.7L1557.6 1005.7L1556.8 1005.7L1556.6 1018.9L1554.6 1021L1553.8 1020.9L1553.5 1008.7L1553.2 1008.5L1553 1012.2L1550.1 1008.6L1549.8 1004.5L1549.1 1005.2L1548.8 1042.2L1546.5 1042.1L1546.1 1042.1L1545.9 1004L1545.2 1003.8L1545 1013.5L1542.2 1012.2L1541.9 1002L1541.2 1002.4L1540.9 1024.9L1538.3 1026L1538.2 1026.1L1537.9 1004.9L1537.1 1005.4L1536.9 1030.3L1534.3 1031.5L1534.2 1031.1L1533.9 1008.4L1532.9 1008.4L1532.7 1042.7L1532.2 1042.8L1530 1042.6L1529.7 1009.5L1529.4 1009.5L1529.2 1022.9L1526.2 1023.4L1526.2 1018.7L1526 1010.4L1525.2 1010.6L1524.9 1018.6L1522 1014.9L1521.7 1005.8L1521.1 1005.9L1521 1006L1520.8 1012.9L1518.5 1020L1518 1019.5L1517.8 1014.1L1516 1005.7L1514 1004L1513.2 1003.3L1513 1043.1L1511.9 1043.9L1510 1043.3L1509.8 1006L1509.3 1005.3L1509 1026.7L1508.9 1026.9L1506.1 1022.4L1505.8 994.9L1505.3 993.7L1505.1 1013.7L1504.8 1013.4L1502.1 1012.4L1501.8 991.2L1501.4 991L1501.1 1005.7L1498.3 1003.9L1498.1 988.6L1497.7 988.4L1497.5 988.3L1497.2 1003.9L1494.3 1006L1494 991.2L1493.8 991.1L1493.5 1027.7L1491.6 1026.9L1490.5 1026.7L1490.3 987.1L1489.2 987.3L1488.9 1033.3L1486.2 1033.6L1486 990.7L1485.5 990.5L1485.5 990.5L1485.2 999.5L1482.3 999.2L1482.1 990.3L1481.2 990.3L1481 998.7L1478.2 996.2L1478 987.4L1477.6 987.4L1477.4 996.6L1474.4 993.4L1474.1 983.5L1473.4 983.5L1473.2 1001.1L1470.4 1002.8L1470.1 986.1L1469.4 986.2L1469.2 996.9L1469.1 1004.9L1466.3 1006.6L1466.1 988.3L1465.5 988.1L1465.3 1026.7L1463.2 1027.1L1462.4 1026.6L1462.2 986.8L1461.7 986.7L1461.5 1031.3L1458.6 1032L1458.4 985.9L1457.4 986.3L1457.1 1028L1456 1027L1454.4 1026.5L1454.2 981.4L1453.5 981.2L1453.2 993.7L1451 989.9L1450.4 989.6L1450.2 976L1449.8 975.8L1449.6 1025.2L1446.9 1026.6L1446.6 1026.1L1446.3 980.8L1445.5 981.2L1445.2 1017.7L1442.5 1016.5L1442.2 979.4L1441.9 979.4L1441.7 990.1L1438.8 991.3L1438.7 991.2L1438.4 980.7L1437.9 980.8L1437.6 988.9L1434.6 984.1L1434.4 975.4L1433.9 975.5L1433.6 984.6L1430.8 984.7L1430.6 980.1L1430.5 975.7L1429.9 976.1L1429.6 1004.8L1426.8 1004L1426.6 974.8L1426 974.4L1425.8 987.7L1423.5 990.9L1422.9 990.9L1422.7 978.6L1421.8 978.7L1421.6 996.2L1418.6 994.3L1418.4 976.1L1417.9 976.1L1417.7 983.5L1415.4 983.8L1414.8 984L1414.5 976.7L1414.1 976.9L1413.8 998.7L1410.9 999.8L1410.7 979.1L1410.3 979.3L1410.2 979.3L1409.9 992.9L1407 998.8L1406.8 987.2L1405.9 987.7L1405.7 1038.5L1405.2 1038.1L1402.9 1037.6L1402.6 981.3L1402 981.4L1401.8 989L1400.2 989.9L1398.9 989L1398.7 981.4L1397.7 980.8L1397.5 987.2L1395.1 987.5L1394.8 987.2L1394.5 980.4L1394.1 980.1L1393.9 999.1L1393.7 999L1391.1 994.8L1390.8 973.7L1390.1 973.3L1389.8 979.9L1388.6 986.7L1386.9 986.6L1386.7 980.6L1386.3 980.7L1386 999.6L1383.5 994.8L1383 994.5L1382.8 973.3L1382.2 973.3L1381.9 981L1379.1 979.1L1378.8 971L1378.5 970.9L1377.9 970.7L1377.7 980.3L1375 986.7L1374.7 978.2L1374 978.1L1373.8 1017.6L1373.4 1016.9L1371 1015.8L1370.7 974.6L1370 974.3L1369.7 985.7L1368.3 981.3L1366.9 981.3L1366.7 968.8L1366.4 969.4L1366.1 1022.4L1363.3 1021.7L1363.2 1001.9L1363.1 972.5L1362.1 972.3L1361.8 982.1L1359.2 979L1359.1 979L1358.9 968.6L1358.5 968.4L1358.2 992.8L1355.3 992.4L1355.1 967.8L1354.3 967.6L1354.1 977.4L1354 978.5L1351.2 982.5L1351 972.7L1350.6 972.7L1350.3 1007.3L1350 1007.4L1347.4 1005.3L1347.2 969L1346 969.3L1345.9 994.4L1345.8 1025.6L1343.1 1024.6L1342.8 971.3L1342.3 970.6L1342.1 986.7L1340.9 984.7L1339.2 983.6L1339 966L1338.7 965.8L1338.5 1009.1L1336.8 1008.7L1335.5 1008.1L1335.2 961.9L1334.2 961.6L1334 985L1332.7 985.3L1331.3 984.8L1331.1 961.7L1330.4 961.1L1330.2 996.3L1328.7 997L1327.2 995.4L1326.9 960.2L1326.7 960.2L1326.4 1014.8L1324.6 1014.1L1323.4 1013.7L1323.2 953.2L1322.6 952.4L1322.3 998.3L1320.5 997.8L1319.4 997L1319.1 949.2L1318.3 947.1L1318 978.1L1317.5 978.4L1315.3 977.6L1315 946.3L1314.5 946.1L1314.2 964.4L1312.4 959.6L1311.4 958.4L1311.1 937.9L1310.6 936.8L1310.4 991.7L1310.3 1005.7L1307.5 1006.5L1307.2 942L1306.7 941.9L1306.4 966.5L1306.3 966.6L1303.7 965.1L1303.4 940L1302.2 939.8L1299.2 943.4L1298.7 944L1298.4 975.5L1298.2 975.5L1295.7 968.3L1295.4 931.4L1294.7 931.8L1294.4 1003.4L1294.1 1003.3L1291.6 1003.3L1291.4 937.4L1290.5 936.4L1290.3 977.7L1288 977.5L1287.5 977.4L1287.3 936.5L1286.6 936.5L1286.3 953.7L1283.6 948.8L1283.4 930.5L1282.7 930.4L1282.5 989.8L1281.9 990L1279.5 989.5L1279.2 929.3L1278.7 928.7L1278.4 970.5L1275.8 970.7L1275.5 970.5L1275.2 929.9L1274.8 929.6L1274.5 999.9L1271.6 999.8L1271.3 934.9L1270.8 934.7L1270.6 978.5L1269.7 978.1L1267.7 976.5L1267.4 931.5L1266.8 931.2L1266.5 946.8L1265.7 941.1L1263.6 940.4L1263.3 922.9L1262.9 922.8L1262.6 985.6L1261.6 986.5L1259.6 985.7L1259.4 928L1259.1 926.9L1258.9 959L1257.5 956.2L1255.8 956.2L1255.6 922L1254.8 922.3L1254.5 945.5L1252.5 947.4L1251.8 947L1251.5 924.8L1250.8 924.4L1250.5 977.2L1247.8 970.9L1247.5 922.8L1247.4 921.8L1247 921.6L1246.8 929.3L1244 927.5L1243.8 920.9L1243 921L1242.7 921L1241.3 923.9L1239.7 924L1239.5 924.1L1238.9 924.1L1238.6 924.1L1235.8 924.8L1235.6 924.8L1235.2 924.9L1234.9 925L1234.7 925.1L1231.8 923.2L1231.5 923.3L1231.2 923.4L1231 923.5L1229.1 926.4L1228.2 926.2L1227.9 926.1L1227 925.9L1226.8 925.8L1225 923.6L1224 923.7L1223.8 923.8L1223.2 923.9L1222.9 923.9L1220 927.6L1219.7 927.6L1218.9 927.8L1218.8 927.7L1218.6 927.7L1215.8 922L1215.6 922L1214.9 921.9L1214.7 921.8L1211.9 921.8L1211.7 921.7L1211.1 921.7L1210.9 931.1L1210.8 931.1L1208.1 930.6L1207.8 921.1L1207.8 921.2L1207 921.1L1206.8 921.1L1204 926L1203.8 926L1203 925.9L1202.8 925.9L1202.7 925.8L1200 926.8L1199.8 926.8L1199.2 926.9L1198.9 926.9L1196.6 923L1196.2 922.8L1196 922.7L1195.3 922.5L1195 943.8L1192.3 942.5L1192.1 918.9L1191.4 918.6L1191.2 918.5L1190.5 921L1188.4 920.8L1188.1 920.8L1187.5 920.7L1187.2 920.7L1185.4 924.8L1184.3 925.7L1184.1 925.9L1183.2 926.7L1182.9 926.9L1182.3 923.1L1180.1 922.8L1179.8 922.7L1179.2 922.9L1179 940L1176.3 939.1L1176.2 938.7L1176 920.7L1175.2 920.9L1174.9 921L1172.2 926.8L1171.9 926.9L1171.3 927L1171 930.2L1170.2 926.3L1168.3 926.6L1168 923.1L1167.8 923.2L1167.7 923.2L1167.5 926.9L1165.7 926.8L1164.5 926.3L1164.3 922.6L1163.5 922.2L1163.3 922.1L1162.7 924.2L1160.4 923.2L1160.2 923.1L1160 923L1159.6 923.5L1159.3 941.9L1156.9 942.1L1156.4 941.7L1156.1 922.2L1155.3 920.5L1155 920L1154.9 924L1152.9 925.7L1152.3 924.9L1152 924.6L1151.4 923.8L1151.2 923.5L1150.8 922L1148.8 924.7L1148.4 924.1L1148.1 923.8L1147.5 923L1147.3 922.6L1147.1 922.3L1144.8 919.4L1144.3 915.5L1144.2 915.1L1144 914L1143.6 911.4L1143.4 910.1L1143.3 910.1L1141.7 907.1L1141 899.2L1140.7 898.6L1140.4 898.2L1140.3 898.1L1139.8 904.4L1139.5 904.4L1139.2 904.5L1138 905.2L1137.6 912.7L1137 912.3L1136.5 905.9L1136.2 902.4L1135.9 898.1L1135.8 898.2L1135.5 925.2L1135.2 925.2L1134.2 933.9L1133.4 937.6L1132.6 938.3L1132.3 921.9L1131.8 922.4L1131.6 922.8L1130.2 926.6L1128.6 927.1L1128.3 927.2L1128 927.3L1127.7 927.3L1125.1 928.2L1124.8 927.9L1124.5 927.7L1123.5 926.8L1123.2 926.5L1121 924.6L1120.5 924.2L1120.3 924L1120 923.7L1119.7 923.5L1118 922.2L1116.8 922.5L1116.5 922.6L1116 922.7L1115.7 922.8L1112.9 923.7L1112.7 923.8L1112.5 923.9L1111.8 924.5L1111.5 938.2L1108.7 938L1108.5 924.5L1107.6 924.8L1107.3 924.9L1106.8 926.4L1104.6 924.7L1104.4 924.5L1103.7 924L1103.5 923.8L1102.7 922.2L1101.7 912.1L1100.7 907.8L1100.4 906.8L1099.6 904L1099.4 939.6L1099.2 939.1L1096.7 937.4L1096.5 904.2L1096.2 903.7L1096.2 909.4L1096 931.9L1095.9 934.8L1095.6 938.3L1092.9 939.9L1092.7 938.7L1091.6 940L1091.4 940.6L1090.5 941.6L1088.6 941.4L1088.4 941.4L1088 941.4L1087.7 941.3L1086.5 940.6L1085 940.8L1084.8 940.9L1083.9 941L1083.7 941L1082.4 941.2L1080.8 940.5L1080.5 940.4L1080.2 940.3L1080 940.2L1078.3 939.6L1077 940L1076.7 940L1075.9 940.2L1075.7 940.3L1074.3 940.6L1072.9 941.9L1072.6 942.2L1071.8 942.9L1071.5 943.1L1069.2 945.2L1068.8 945.3L1068.5 945.4L1068 945.6L1067.8 945.6L1065 946.5L1064.8 946.6L1064.1 946.7L1064.1 946.8L1063.8 946.8L1060.9 947.7L1060.6 947.7L1060.1 947.9L1059.8 948L1057.1 948.8L1057 948.8L1056.8 948.8L1056.2 949.1L1055.9 949.2L1053 950.2L1052.8 950.3L1052.2 950.5L1051.9 950.6L1049.9 951.3L1049 951.6L1048.7 951.7L1048.1 951.9L1047.8 951.9L1044.9 952.8L1044.8 952.8L1044.7 952.9L1044.2 953L1043.9 953.1L1041 953.9L1040.8 954L1040.4 954.1L1040.1 954.2L1037.7 954.9L1037.2 955.2L1037 955.3L1036.2 955.9L1035.9 956.1L1033.2 957.9L1032.9 958.1L1032.4 958.4L1032.2 958.5L1031.6 958.9L1029.2 960.4L1029 960.5L1028.6 960.8L1028.3 960.9L1026.5 962L1025.3 962.5L1025 962.6L1024.5 962.8L1024.2 962.9L1021.4 964L1021.2 964L1021 964.1L1020.6 964.1L1020.4 964.1L1017.4 964.4L1017.1 964.5L1016.5 964.5L1016.4 964.5L1016.2 964.5L1013.3 963.6L1013 963.5L1012.3 963.3L1012.1 963.2L1011.3 963L1009.2 961L1009 960.7L1008.6 960.3L1008.3 960L1007.2 958.9L1005.4 959.9L1005.1 960L1004.4 960.3L1004.2 960.5L1003.2 961L1001.3 960.8L1001.1 960.8L1000.2 960.8L1000 960.7L997.2 960.5L997 960.5L996.4 960.5L996.1 960.5L996 960.5L993.4 961L993.1 961.1L992.5 961.2L992.2 961.3L989.5 961.9L989.2 961.9L988.9 962L988.6 961.9L988.4 961.8L985.6 960.9L985.4 960.8L984.5 960.5L984.2 960.4L982.8 960L981.4 959.6L981.2 959.5L980.7 959.4L980.4 959.3L977.4 958.6L977.2 958.5L976.7 958.4L976.5 958.8L976.2 959.1L973.7 962L973.5 962L973.3 961.9L972.5 961.9L972.2 961.9L969.4 961.6L969.2 961.6L968.9 961.6L968.7 961.5L965.8 961.3L965.6 961.3L965.5 961.3L961.5 962.1L960.6 962.3L960.4 962.3L959.5 962.5L957.5 961.5L957.2 961.4L956.6 961.1L956.4 961L953.5 959.5L953.3 959.4L952.9 959.2L952.7 959.1L952.4 958.9L949.7 957.6L949.4 957.5L948.8 957.2L948.6 957.1L946.3 955.9L945.8 956L945.5 956.1L945.1 956.2L944.8 956.2L941.8 957L941.6 957.1L940.9 957.2L940.6 957.3L940.2 957.4L937.8 956.4L937.8 956.4L937.5 956.5L936.7 956.7L936.5 956.7L933.7 957.4L933.6 957.4L933.4 957.5L932.9 957.5L932.6 957.5L929.9 957.7L929.6 957.7L928.8 957.8L928.5 957.8L926.6 957.9L925.7 958.6L925.5 958.8L924.8 959.3L924.5 959.5L922.5 961L921.8 960.2L921.5 959.9L920.9 959.1L920.6 958.9L918.5 956.4L917.8 956.6L917.6 956.6L917.1 956.8L916.8 956.8L914 957.5L913.8 957.6L912.8 957.8L912.6 957.9L909.8 958.6L909.6 958.6L909 958.8L908.8 958.8L908.3 959L906.1 959.6L905.9 959.6L905.1 959.8L904.9 959.9L901.9 960.7L901.6 960.8L901 961L900.8 961.1L899.1 961.5L898 962.4L897.7 962.6L896.9 963.2L896.6 963.4L895.1 964.6L893.9 964.7L893.6 964.7L893.3 964.8L893.1 964.8L891 965.1L890.1 964.7L889.9 964.6L889.4 964.4L889.1 964.3L886.2 963.1L885.9 963L885.9 963L882.9 957.9L882 958.1L881.4 958.2L881.1 958.2L878.2 958.7L877.9 958.7L877.1 958.8L876.9 958.9L874.2 959.3L873.9 959.3L873.3 959.4L873.1 959.4L872.7 959.5L870.1 959.2L869.9 959.2L869.3 959.1L869 959.1L866.2 958.8L865.9 958.8L865.4 958.7L865.2 958.7L862.6 958.3L862.3 958.3L862.1 958.1L861.5 958.1L861.2 959L858.3 959.8L858 958.2L857.6 958.2L857.4 959L855.5 958.9L854.4 958.9L854.2 957.7L853.3 957.7L853 959.2L850.3 960.3L850 958.5L849.5 958.5L849.3 960L847.3 959.6L846.4 959.7L846.1 958.2L845.5 958.3L845.2 960.2L842.4 960.3L842.1 958.5L841.5 958.6L841.2 959.8L838.4 960.7L838.1 959.7L837.8 959.8L837.6 963.5L837.2 963.5L834.6 963.6L834.3 959.9L833.3 959.9L833.1 960.5L830.3 960.3L830.1 959.7L829.5 959.7L829.2 961.7L828 962L826.3 962.5L826.1 960.7L825.4 960.9L825.1 962.4L822.4 963.1L822.2 961.9L821.9 962L821.6 962.1L821.3 962.7L818.4 963.9L818.1 963.6L817.5 963.9L817.2 964.3L816.9 965.4L814.4 966.6L814.1 966.5L813.6 966.7L813.4 967.6L810.8 968.9L810.6 969L810.4 968.7L809.3 969.5L809.1 970L808.7 970.1L807.7 972.2L806.7 970.5L806.4 970.5L806.1 969.5L805.4 969.3L805.2 969.9L802.5 969.7L802.2 968.8L801.8 968.6L801.5 969.1L799.6 969L798.5 968.3L798.3 967.4L797.5 966.8L797.2 967.6L795.5 966.5L794.5 966.2L794.3 964.8L791.4 963.3L790.4 963.5L789.8 963.6L789.5 964.2L786.6 964.3L786.4 963.7L785.8 963.9L785.5 967.4L782.7 967.7L782.4 964.2L782 964.3L781.7 967.3L781.3 967.3L778.9 968L778.6 965.4L778.1 965.5L777.8 966.2L774.8 967.9L774.6 967.5L773.8 967.7L773.5 969.2L771.1 969.8L770.8 969.9L770.5 968.5L770.2 968.5L770 970.8L767 970.1L766.7 967.3L765.8 967.3L765.5 969.9L762.6 970.3L762.4 967.8L762 967.8L761.8 971.7L761 971.9L758.8 972.2L758.5 968.4L758.1 968.5L757.8 971.2L755 972.7L754.7 970.6L754.3 970.7L754 971.1L752.8 969.8L751 969.2L750.8 968.5L749.8 968.1L749.5 968.6L746.8 968.6L746.5 967.9L745.8 967.6L745.7 967.8L745.5 968.6L742.8 970.3L742.5 969.5L742.1 969.7L741.8 972.8L738.9 973.5L738.6 970.6L738.6 970.4L738.2 970.6L737.9 976.6L735.2 977.8L734.9 972.1L734.1 972.4L733.9 976.7L732.5 976.4L731 976.8L730.7 971.1L730 971.2L729.8 972.2L727 974.6L726.8 973.7L726.4 973.8L726.1 977.8L725.4 977.8L723.2 978.9L722.9 974.3L722.2 974.6L722 976.6L719 978.7L718.7 976.5L718.3 976.6L718 977.1L717.8 984.6L715.2 987.3L715 987.2L714.8 979.8L714.5 979.7L714.3 991L711.3 992.1L711 978.7L710.3 978.5L710.2 980L710.1 980.8L707.8 980L707.2 979.9L707 977.2L706.1 977.1L705.9 987.3L703.7 987.4L703 987.5L702.8 975.7L702.2 975.4L701.9 980.3L699.1 981.2L698.9 976L698.6 975.8L698.4 975.9L698.2 990L695.3 989.6L695 974.6L694.4 974.8L694.2 982.2L693.5 982.9L691.4 983.3L691.1 976.1L690.2 976.4L689.9 987.8L687.2 989.2L687 978.8L686.4 978.8L686.1 983.5L683.4 982L683.2 982L683 976.9L682.7 976.8L682.4 979.9L679.5 981.8L679.3 979.1L678.4 979.2L678.2 996.6L675.2 996.7L675 978.8L674.7 978.9L674.5 983.1L673.2 985L671.5 985.1L671.2 981.2L670.6 981.3L670.3 992.8L667.6 991.6L667.3 978.4L666.6 978.4L666.4 981.3L663.5 983L663.3 980.2L663 980.2L662.5 980.3L662.2 984.1L659.3 983.1L659.1 978.9L658.6 979L658.4 985.9L655.7 989.4L655.4 982.6L652.9 980.8L651.5 981L650.7 981.3L650.5 997.1L647.6 998.1L647.4 980.3L646.7 980.4L646.4 990.3L643.7 993.8L643.5 984.3L642.7 984.4L642.6 984.5L642.3 1020L639.5 1022.2L639.2 984.2L635.5 986.5L634.9 986.7L634.6 1018L634.6 1018.3L631.7 1018.4L631.5 986.2L630.7 986.6L630.4 1021.9L627.5 1021.9L627.2 982.6L626.7 982.6L626.5 1015.6L623.6 1016.5L623.4 983.2L622.8 983.1L622.5 1014.4L619.5 1014.5L619.4 992.1L619.3 981.7L619 981.8L618.8 1008.6L615.8 1009.8L615.6 984.3L614.8 984.6L614.6 994.8L614.3 995.3L611.8 995.7L611.5 986L610.7 985.9L610.5 1005.5L607.7 1006.1L607.4 986.7L607.2 986.7L607 987L606.7 997.5L603.8 997L603.5 986.4L602.9 986.8L602.6 999.3L602.1 1000.3L600 1001.3L599.7 990L599.1 990.5L598.9 1004.8L598 1007.1L595.9 1007.1L595.6 994.3L594.9 994.3L594.7 1017.2L591.9 1016.8L591.9 1016.8L591.6 992.1L591.2 992.5L590.9 1025.8L588 1026.2L587.7 994.6L587.1 994.3L586.9 997.8L584 996.8L583.8 993.1L582.8 993L582.6 997.2L581.8 996.9L579.9 997.3L579.6 993.2L579.2 993.2L578.9 998.1L576.2 999.9L575.9 995.5L575.3 995.7L575 1000.2L572.1 997.6L571.8 992.8L571.6 992.9L571.1 993L570.9 1013.2L567.9 1015.3L567.7 997.2L567.3 997.4L567.1 1016.1L566.5 1014.7L564 1015.2L563.8 995.8L563.2 996.3L562.9 1014.7L561.4 1016.6L560 1016.2L559.7 999.7L559.5 999.7L559.3 1003.9L557.4 1001.7L556.3 1001.9L556.1 997.1L555.2 997.3L555 1018.6L552.3 1019.8L552.2 1019.6L552 1000.3L551.1 999.7L550.9 1005.1L548 1002L547.8 995.7L547.6 995.6L547.4 1008.3L546.2 1007L544.4 1006.2L544.1 991.5L543.5 990.9L543.2 1014.6L541.1 1014.4L540.3 1013.8L540 988.4L539.4 988.1L539.1 1004.1L536.2 1006L536 990.4L535.4 990.2L535.1 1008L533 1007.1L532.1 1007L531.9 987.8L531.6 987.7L531.4 994.8L528.5 992L528.2 984.3L527.4 984.2L527.2 1024.3L526.9 1024.4L524.4 1024.7L524.2 985.9L523.7 985.3L523.5 1007.7L522.8 1007.7L520.5 1008.4L520.3 986.1L519.3 987.4L519.1 1031.1L516.7 1031.4L516.3 1031.1L516.1 992.1L515.6 992L515.4 1018.8L512.5 1017.6L512.3 988.1L511.6 987.4L511.3 995.8L510.6 995.9L508.6 995.7L508.4 987.2L507.3 987.1L507 1029.7L504.3 1030.5L504 988.9L503.6 988.4L503.4 1003.8L500.6 1003.3L500.5 996.9L500.3 987.7L499.5 987.4L499.2 1005.1L496.3 1003.7L496.1 984.9L495.6 984.7L495.4 1027.4L495.4 1029.1L492.6 1029.1L492.3 982.8L491.4 982.1L491.2 1026.6L490.3 1027.5L488.5 1027.4L488.2 983.9L487.6 983.9L487.4 1015.4L484.6 1016.2L484.4 984.8L483.5 984.5L483.3 1009.5L480.5 1008.8L480.2 982.9L480.2 982.6L479.8 982.9L479.6 989.2L477.8 991.7L476.7 991.7L476.4 985.9L475.9 985.9L475.7 1021.9L473.7 1022.6L472.8 1022.7L472.6 987L472 986.7L471.8 1010.9L468.8 1011.1L468.6 994.8L468.5 987.4L467.6 987.8L467.4 998.1L464.6 997L464.3 986.7L463.7 987L463.5 1013.3L463.5 1019.8L460.8 1020L460.5 989.1L459.6 989.9L459.3 1019.5L458.4 1019.6L456.6 1019.5L456.3 990.4L453.4 991.9L452.4 992.3L451.9 993L451.6 1029.1L448.8 1029.5L448.6 995.2L448.3 994.7L447.9 994.7L447.7 1022.5L444.8 1021.7L444.5 992.2L444.3 992.2L444 1025.8L443.2 1025.7L441 1025.5L440.8 992.6L440 992.9L439.8 1004.2L438.1 1003.6L437 1004.2L436.8 993.4L436 994L435.7 1006L433.1 1009.5L432.7 1009.5L432.5 999.1L432.1 999.2L431.9 1030.1L429.1 1030.8L428.8 1002L428.1 1002.2L428 1012.9L427.8 1024.6L424.9 1024L424.7 1000.4L424.1 1000.3L423.8 1009.1L422.9 1011.5L421 1011.6L420.7 1003.7L420.1 1003.7L419.9 1019L417.8 1019.8L416.9 1019.4L416.6 1004.1L416.2 1003.8L415.9 1023.6L413 1022.3L412.7 1001.3L412.7 999.7L412 999.6L411.7 1016.4L409 1016.4L408.8 999.6L408.2 999.8L407.9 1036.4L405.2 1035.7L405 997.4L404.3 997.3L404 1001.5L402.6 999.7L401.3 1000.2L401 995.8L400.2 996.1L400 1013L397.1 1016.2L396.8 1001.6L396.2 1002.1L395.9 1018.5L393.1 1017.6L392.8 1000.3L392.4 1000.4L392.2 1000.6L392 1015.9L389.3 1018.3L389.1 1004.7L388.4 1005L388.1 1013.3L385.3 1010.6L385.3 1010.6L385 1001.5L384.2 1001.8L383.9 1025.4L381 1026.6L380.8 1006L380.4 1006L380.1 1027.6L377.4 1027.7L377.2 1006.3L377.2 1006L376.4 1006.4L376.1 1012L373.3 1010.1L373.1 1004.2L372.6 1004.8L372.3 1033.1L369.4 1034.1L369.1 1010.9L368.3 1011.4L368 1023.7L367 1020.8L365.3 1021L365.1 1006.1L364.5 1006.3L364.3 1014.6L361.4 1017.2L361.1 1009.8L360.4 1009.9L360.1 1028.5L357.2 1029.2L357 1011L356.9 1010.7L356.6 1010.7L356.4 1013.6L353.5 1014.5L353.3 1011.6L352.3 1011.4L352 1026.7L349.2 1025.6L349 1008.8L348.7 1009.3L348.4 1036.9L346.7 1036.7L345.6 1036.8L345.3 1005.2L344.3 1004.6L344 1030.2L341.3 1030.4L341 1003.2L340.4 1002.6L340.2 1029.2L337.4 1029.3L337.1 1002.3L336.7 1002.5L336.4 1038.1L333.4 1038.4L333.1 1002.6L332.6 1002.4L332.5 1017L332.4 1022.6L329.6 1021.2L329.3 999.5L328.9 999.6L328.6 1037.5L326.4 1038L325.7 1038.1L325.4 1000.2L324.6 1000.3L324.4 1025.2L321.5 1026.3L321.3 1003.1L320.4 1003.3L320.1 1029.1L317.4 1029.3L317.2 1004.7L316.8 1005L316.6 1031.5L316.2 1031.6L313.6 1031.8L313.4 1005.4L312.8 1006.1L312.5 1038.1L309.8 1038.9L309.6 1009.2L309.1 1009.1L308.8 1026.7L306 1027.2L305.8 1027.2L305.6 1009.8L305.1 1009.8L304.8 1020.4L301.8 1018.9L301.6 1007.5L300.9 1007.7L300.7 1026.2L297.8 1027.7L297.6 1010.6L296.9 1010.7L296.7 1015.6L295.9 1018.8L293.9 1019L293.7 1014.8L292.7 1015.3L292.5 1040L289.7 1038.9L289.5 1011.3L288.9 1011.5L288.8 1014.8L288.6 1018.8L285.8 1022.4L285.7 1019.9L285.6 1016.1L284.6 1016L284.4 1029.5L281.7 1028.6L281.4 1014.4L281.1 1014.6L280.8 1029.4L278.6 1029.2L277.9 1029L277.7 1013.7L277 1013.4L276.7 1019.9L274.1 1019.4L273.8 1012.6L273 1012.3L272.8 1044.9L270.5 1044.8L269.9 1044.4L269.7 1008.1L268.9 1008.1L268.6 1028.5L265.8 1029.1L265.5 1009.6L265.2 1009.5L265 1025.1L262.1 1022.8L261.9 1005.2L261.1 1005L260.8 1036.1L260.3 1035.8L257.9 1035.4L257.6 1002.4L256.9 1002.2L256.7 1014.4L253.9 1014.1L253.6 1001.3L253.1 1001.5L252.8 1037.7L250.2 1038.2L249.8 1038.2L249.6 1005.1L249.2 1004.5L248.9 1012.2L246.2 1011.3L246 1003.2L244.6 1002.6Z" fill="#fdd0a2" fill-opacity="0.30"/>
<path d="M244.6 988.2L246.1 986L246.4 992.2L246.6 992.4L246.9 986.3L248.2 987.6L249.8 986.7L250.1 994.4L250.2 994.4L250.3 994.5L250.6 987L252.9 989.1L254.4 988.6L254.8 995.7L254.9 995.8L255.2 988.9L256.4 989.4L258 987.6L258.3 999.5L258.4 999.8L258.8 988L260.3 995.9L260.6 997L262.1 999.4L262.5 988.1L262.6 988.3L262.9 999.8L264.5 991.9L266.1 990.9L266.4 1001.3L266.5 1001.4L266.9 991.2L268.6 993.4L270.2 991.9L270.5 1002.4L270.5 1002.7L270.6 1003L271 992.3L272.9 995.4L274.5 994L274.8 1003.7L275 1003.9L275.3 994.5L276.3 996L277.9 995.1L278.2 1005.5L278.3 1005.4L278.6 996.8L278.7 995.3L280 998.6L281.6 997.3L281.9 1004.6L282 1004.6L282.4 997.5L284.8 1000.8L285.7 1000.5L286.4 1000L286.7 1002.9L286.8 1002.8L287.2 999.9L288.8 999.8L288.9 999.8L290.4 999.5L290.8 1002.2L290.9 1002.1L291.2 999.3L292.6 998.5L294.2 997.1L294.5 1003.9L294.7 1003.8L295 997L295.9 998L296.2 998.4L297.8 996.5L298.1 1003.2L298.2 1003.2L298.6 996.3L299.7 996.8L301.3 995.5L301.6 1002.9L301.7 1002.8L302.1 995.3L304.8 995.4L306 994.2L306.4 993.7L306.7 1002.5L306.9 1002.5L307.2 993.5L308.2 994.5L309.8 992.3L310.1 1001.4L310.2 1001.2L310.6 991.9L312.3 997.6L313.9 998.7L314.2 989.9L314.4 989.7L314.7 998.3L316 996L316.2 996.2L317.6 997.4L317.9 988.6L318.1 988.4L318.4 997L320.6 994.8L322.2 995.3L322.5 987.9L322.7 987.8L323 995L324.4 993.7L326 994.5L326.4 986.5L326.5 986.3L326.8 994.1L328.7 992.5L330.2 992.9L330.6 985L330.7 985.1L331.1 992.7L332.2 987.1L332.5 986.8L333.8 986.3L334.2 993.6L334.3 993.6L334.6 986.6L335.5 989.6L337.1 989.8L337.4 992.9L337.5 993L337.9 990.3L340.4 991.8L342 992.4L342.3 995.5L342.5 995.5L342.8 992.8L343.9 994.3L345.5 994.4L345.8 997.1L346 997.2L346.3 994.8L346.7 995.2L347.7 996L349.3 995.5L349.6 997.9L349.8 997.9L350.1 995.6L351.7 997.7L353.3 998.5L353.6 995.5L353.8 995.6L354.1 998.7L355.6 998.2L356.9 998.7L357.1 998.8L357.5 996.2L357.6 996.2L357.9 998.6L359.4 996.9L360.9 995.7L361.3 998.2L361.4 998.2L361.7 995.6L363.6 995.3L365.2 994.9L365.5 997.4L365.6 997.3L366 994.7L367 994.9L368.1 994.8L369.7 993.6L370.1 995.7L370.2 995.6L370.5 993.2L372 994.5L373.6 994.4L373.9 991.2L374.1 991.1L374.4 994.1L375.4 993.1L376.9 992.9L377.2 990.8L377.2 990.2L377.4 990.1L377.7 992.8L379.9 992.2L381.5 992.9L381.8 990L381.9 990L382.3 992.9L383.9 990.9L385.3 990.4L385.4 990.3L385.8 992.9L385.9 992.9L386.2 990L387.2 989.8L388.8 988.9L389.1 991.5L389.3 991.4L389.6 988.5L391.3 988.3L392.4 987.6L392.9 987.3L393.2 989.5L393.4 989.4L393.7 987L395.2 986.5L396.8 985.4L397.1 988.4L397.3 988.3L397.6 985.1L399.7 986.2L401.3 986.2L401.6 983.4L401.8 983.3L402.1 985.9L402.6 985.5L404 985.1L405.6 986.2L405.9 983.7L406 983.8L406.4 986.4L407.1 986.9L408.7 987.8L409 983.2L409.2 983.2L409.5 988L411.2 985L412.7 984.3L412.8 984.3L413.1 989.6L413.3 989.7L413.6 984.9L415.3 990.4L416.9 992.4L417.2 987.1L417.4 987.1L417.7 992.9L417.8 992.7L419 988.8L420.6 987.8L420.9 993.9L421 994L421.4 987.9L422.9 991.5L423.4 992.5L425 992.5L425.3 986.2L425.4 986.2L425.8 992.3L427.4 987.8L428 987.1L428.9 986.2L429.2 990.9L429.4 991L429.7 986.1L431.3 987L432.9 986.2L433.1 987.8L433.2 989L433.4 988.9L433.7 985.8L435.9 986.2L437.5 985.1L437.8 982.4L437.9 982.3L438.1 983.6L438.3 984.5L439.7 981.9L441.2 981.2L441.6 983.3L441.7 983.3L442 980.9L443.2 980.8L443.3 980.9L444.9 980.5L445.2 983.5L445.4 983.5L445.7 980.6L447.5 983.3L448.3 983.5L449.1 983.3L449.4 980.6L449.6 980.5L449.9 983L451.1 981.7L452.7 981.7L453 979.4L453.2 979.3L453.4 980.7L453.5 981.4L455.6 980.2L457.1 980.1L457.5 982.5L457.6 982.6L457.9 980.3L458.4 980.8L459.6 981L461.2 980.8L461.6 978.3L461.7 978.3L462 980.3L462.9 978.4L463.5 977.8L464.5 976.9L464.9 979.2L465 979.2L465.3 976.6L467.5 976.2L468.6 975.2L469.1 974.8L469.4 977.7L469.6 977.6L469.9 974.5L471.1 975.9L472.7 975.9L473 973.2L473.2 973.1L473.5 975.6L473.7 975.4L474.9 975.2L476.5 975.8L476.8 972.8L476.9 972.9L477.3 975.9L477.8 975.7L479.6 973.2L480.2 973L481.2 973.5L481.5 970.8L481.7 970.8L482 973.6L483.5 973.2L485.1 973.3L485.4 971.1L485.5 971L485.9 973.3L487.6 971.8L489.2 971.1L489.5 973.9L489.7 973.8L490 971L490.3 971.1L491.5 972L493.1 972.2L493.4 975L493.6 975.1L493.9 972.6L495.2 975.3L495.4 975.3L496.8 976.1L497.1 973.6L497.3 973.6L497.6 976.4L498.8 976.3L500.4 977.4L500.5 976.5L500.7 975.1L500.8 975.1L501.1 977.5L503.1 977.5L504.7 977.8L505 975.5L505.2 975.6L505.5 977.9L507.2 976.6L508.8 976.3L509.1 978.4L509.2 978.4L509.6 976.3L510.6 977.6L510.8 977.9L512.4 979.6L512.7 976.8L512.9 976.9L513.2 980L514.7 980.2L516.3 981.4L516.6 979L516.7 979L516.8 979L517.1 981.4L519.1 980.1L520.7 979.7L521 976.7L521.2 976.7L521.5 979.3L522.5 978.1L522.8 978L524.1 977.9L524.4 975.5L524.6 975.5L524.9 977.6L526.5 977.1L526.9 977L528 977.4L528.4 974.6L528.5 974.7L528.9 977.7L531 977.1L532.6 978.2L532.9 976.2L533 976.2L533.1 976.2L533.4 978.5L535.2 977.6L536.8 978.3L537.1 980.6L537.3 980.7L537.6 978.8L539.2 979.5L540.8 980.2L541.1 982.7L541.1 982.8L541.3 982.9L541.6 980.8L542.6 982L544.2 982.7L544.5 985.7L544.7 985.8L545 983.3L546.2 984.7L546.8 985.3L548.4 986L548.7 988.3L548.8 988.4L549.1 986.5L550.5 989L552.1 990.4L552.3 988.9L552.4 988.3L552.5 988.3L552.9 990.5L555 988.2L556.6 987.7L556.9 989.9L557 989.8L557.4 987.6L557.4 987.6L559 988.5L560.6 988.8L560.9 991.1L561.1 991.1L561.4 989.1L561.4 989.2L562.3 990.2L563.9 989.6L564.2 986.8L564.3 986.6L564.7 989L566.5 986.4L566.9 986L568.5 985.1L568.8 986.9L569 986.9L569.3 984.8L570.6 986.3L571.6 986.1L572.2 986.1L572.5 983.3L572.7 983.2L573 985.9L574.7 984.6L576.3 985L576.6 982.3L576.8 982.3L577.1 984.8L578.9 982.2L580.4 981.7L580.8 984L580.9 984L581.2 981.5L581.8 981.5L581.9 981.5L583.5 981.5L583.8 984.1L584 984.1L584.3 981.5L586.2 983.4L587.8 984.2L588.2 981.7L588.3 981.7L588.6 984.3L591 982.5L591.9 982.5L592.6 982.3L592.9 984.9L593.1 984.9L593.4 982.3L594.3 983.9L595.9 984.4L596.2 982.4L596.3 982.4L596.7 984.4L598 984.4L598.9 983.7L600.5 982.6L600.9 980.1L601 980L601.3 982L602.1 981L602.1 981L603.7 980.8L604 978.5L604.2 978.4L604.5 980.4L606.9 979.5L607.2 979.4L608.5 979.3L608.9 976.8L609 976.8L609.3 979.2L610.2 977.5L611.8 976.8L612.1 978.8L612.3 978.8L612.6 976.7L614.3 976.9L614.3 976.9L615.9 975.7L616.2 977.9L616.3 977.8L616.6 975.4L617.8 975.1L619.4 974.1L619.4 974.1L619.8 976.9L619.9 976.9L620.2 974.2L622.7 976.3L624.3 976.8L624.6 974.3L624.7 974.3L625.1 976.8L626.1 976.1L627.7 977L628 974.6L628.2 974.6L628.5 977L629.8 975.7L631.4 975L631.7 977.6L631.9 977.6L632.2 975.1L633.9 976.8L634.6 977L635.5 977.1L635.8 974.9L636 974.8L636.3 976.9L638.6 974.3L640.2 973.7L640.5 976.4L640.7 976.3L641 973.6L642.5 974.6L642.7 974.6L644.1 975L644.4 973L644.6 973L644.9 974.9L646.1 974.7L647.7 974.7L648 972.2L648.1 972.1L648.5 974.6L650.5 972.7L652.1 972L652.5 974.1L652.6 974L652.9 972.2L652.9 971.8L653.7 972.4L655.2 971.9L655.6 973.6L655.7 973.6L656 971.9L657.7 972L659.3 971.6L659.6 973.6L659.8 973.6L660.1 971.5L661.4 971.8L663 971.4L663 971.6L663.3 973.4L663.5 973.4L663.8 971.4L666 971.4L667.6 971.5L667.9 973.3L668 973.3L668.4 971.5L670.2 972.6L671.8 973.2L672.1 971.2L672.3 971.2L672.6 973.2L673.2 973.2L674 973.1L675.6 973L675.9 970.9L676 970.8L676.4 972.9L678 971.2L679.6 970.7L679.9 972.8L680.1 972.8L680.4 970.6L681.5 971.8L683.1 972.1L683.4 970.5L683.4 970.3L683.6 970.3L683.9 972L685.3 970.5L686.9 969.7L687.2 971.5L687.4 971.5L687.7 969.6L689.6 969.1L691.2 968.8L691.6 970.8L691.7 970.8L692 968.6L693.5 968.6L694.1 968.8L695.7 968.5L696 970.2L696.2 970.2L696.5 968.5L697.7 970.1L698.6 970.1L699.3 970.3L699.6 968.5L699.8 968.5L700.1 970.5L701.7 970.8L703.2 971.5L703.6 969.7L703.7 969.7L703.7 969.7L704 971.7L705.3 970.6L706.9 970.3L707.2 972.3L707.4 972.3L707.7 970.4L707.8 970.5L709.5 971.6L710.2 971.7L711 971.7L711.4 973.7L711.5 973.8L711.8 972L713.8 972.7L715.2 973L715.4 972.9L715.7 974.2L715.8 973.9L716.1 971.7L717.7 970.5L718.3 969.8L719.3 969.7L719.6 967.7L719.8 967.7L720.1 969.4L721.8 968.7L723.4 968.2L723.7 966.4L723.9 966.3L724.2 967.9L725.1 967.7L725.4 967.6L726.7 967.4L727 965.5L727.2 965.4L727.5 967.2L729.9 966.3L731.5 966.4L731.8 965.1L731.9 965.1L732.2 966.3L732.5 966L733.1 965L734.7 964.1L735.1 965.4L735.2 965.4L735.5 963.8L737.9 963.9L738.6 963.6L739.4 963.5L739.8 962.1L739.9 962.1L740.2 963.3L741.1 962.6L742.7 962.6L743 961.2L743.2 961.2L743.5 962.3L745.7 961.8L745.8 961.8L747.3 962.5L747.7 960.9L747.8 960.9L748.1 962.8L749.8 962.7L751.4 963.8L751.7 962.5L751.9 962.5L752.2 964.1L752.8 963.7L753.2 963.3L754.8 962.5L755.2 964.2L755.3 964.1L755.6 962.4L757.2 963.1L758.8 963.1L759.1 961.8L759.3 961.8L759.6 963L761 961.9L761 961.8L762.6 961.3L762.9 962.8L763.1 962.7L763.4 961.2L764.9 961.7L766.5 961L766.8 962.2L767 962.2L767.3 960.9L769.9 961.4L771.1 961.6L771.5 961.6L771.8 960.2L772 960.2L772.3 961.4L772.7 960.1L774.3 959.6L774.6 961.1L774.8 961.1L775.1 959.4L777.5 958.9L779.1 958.5L779.4 959.9L779.6 959.8L779.9 958.3L781.3 958L781.6 958L783.2 957.5L783.5 958.9L783.7 958.9L784 957.4L785.2 958.4L786.8 958.1L787.1 956.7L787.2 956.7L787.6 957.9L789.7 956.5L791.3 956L791.4 956.7L791.6 957.4L791.7 957.4L792.1 956.2L793.6 957.6L795.2 958.6L795.5 957.3L795.5 957.3L795.6 957.4L796 959L797.6 959.9L799.2 961.4L799.5 960.4L799.6 960.5L799.6 960.5L800 961.8L801 961L802.6 961.4L802.9 962.7L803.1 962.8L803.4 961.7L804.6 961.8L806.2 962.3L806.5 964L806.6 964L806.7 963.8L807 963.1L807.7 965.2L808.7 962.5L808.9 962.4L810.5 960.7L810.8 961.9L810.8 962L810.9 961.9L811.2 960.2L813.6 959.8L815.2 959.6L815.5 957.9L815.7 957.9L816 959.2L816.9 957.9L817.4 957.2L819 956.6L819.3 957.8L819.5 957.7L819.8 956.3L820.6 956.3L821.9 955.5L822.2 955.3L822.5 956.6L822.6 956.6L823 955.1L824.5 954.6L826.1 954.1L826.4 955.2L826.6 955.2L826.9 953.8L828 953.4L829.1 953.3L830.7 953.2L831 954.6L831.2 954.6L831.5 953.2L832.8 953.4L834.3 953.1L834.7 954.3L834.8 954.3L835.1 953.1L837.2 953L837.3 953L838.9 952.5L839.2 953.9L839.4 953.9L839.7 952.3L841.3 953.2L842.9 952.9L843.2 951.7L843.3 951.6L843.7 952.7L844.9 952.4L846.5 952.3L846.8 950.8L847 950.7L847.3 952.1L847.3 952.1L848.3 951.5L849.9 951.8L850.2 950.7L850.4 950.7L850.7 951.8L852.6 950.8L854.2 950.5L854.5 951.7L854.6 951.7L855 950.4L855.5 950.7L856.8 951.4L858.4 951.3L858.7 950.1L858.9 950.1L859.2 951.2L860.5 951.3L862 951.2L862.4 949.7L862.5 949.6L862.6 949.9L862.8 951.1L865.3 950L866.9 950.2L867.2 951.7L867.4 951.7L867.7 950.3L868.9 950.5L870.5 950.6L870.8 952L871 952L871.3 950.7L872.7 951.2L872.8 951.2L874.4 950.6L874.7 952L874.9 952L875.2 950.4L876.8 950.3L878.4 950L878.7 951.4L878.8 951.3L879.1 949.9L880.3 950.8L881.9 950.6L882.2 949.5L882.4 949.4L882.7 950.5L882.9 950.3L884.2 951.9L885.8 954.3L885.9 954.9L886.2 955.9L886.3 955.9L886.6 954.7L889.2 956.2L890.8 956.4L891 957.5L891.1 957.7L891.3 957.7L891.6 956.4L892.7 956.4L894.3 956.1L894.6 957.3L894.7 957.3L895.1 956L895.1 956L896 956.1L897.5 955.2L897.9 953.8L898 953.7L898.4 954.6L899.1 954.1L900.5 953.7L902.1 953.3L902.4 951.9L902.6 951.8L902.9 953L905.1 951.3L906.7 950.9L907 951.9L907.1 951.9L907.5 950.7L908.3 950.7L908.6 950.6L910.2 949.9L910.5 951.1L910.7 951L911 949.7L912 950.2L913.6 950.1L913.9 948.9L914.1 948.9L914.4 949.9L916 949.1L917.5 949.1L917.9 948L918 948L918.3 948.9L918.5 948.9L920.1 950.7L921.7 952.6L922 951.7L922.2 951.9L922.5 953.5L922.5 953.5L924 952L925.6 951.3L925.9 949.7L926.1 949.6L926.4 950.6L926.6 950.5L928.3 949.8L929.9 949.2L930.2 950.3L930.4 950.3L930.7 949.2L932.7 949.1L933.7 948.9L934.3 948.7L934.6 949.9L934.8 949.9L935.1 948.5L936.6 948.5L937.8 947.9L938.2 948L938.5 949.4L938.7 949.5L939 948.3L940.2 948.8L940.7 948.7L942.3 948.3L942.6 949.5L942.8 949.4L943.1 948.1L944.4 948.6L946 948.6L946.3 947.5L946.4 947.2L946.5 947.3L946.8 948.8L948.2 949.1L949.8 950.1L950.1 949.3L950.3 949.4L950.6 950.5L952.3 950.6L952.4 950.7L953.9 951.1L954.2 952.5L954.3 952.6L954.6 951.5L956.2 953.3L957.8 954.1L958.1 953.2L958.3 953.3L958.6 954.5L959.5 954.8L960.1 954.5L961.7 954.6L962 953.3L962.1 953.3L962.5 954.4L963.6 953.5L965.2 952.7L965.5 954L965.6 954L965.7 954L966 952.7L968.4 953.2L970 953L970.3 954.4L970.5 954.5L970.8 953.1L971.7 954.3L973.3 954.4L973.6 953.4L973.7 953.4L973.8 953.3L974.1 954L975.5 951.5L976.7 949.9L977.1 949.9L977.4 951.3L977.6 951.4L977.9 950.1L979.5 951L981.1 950.9L981.4 952.3L981.6 952.4L981.9 951.1L982.8 951.7L983.5 952.1L985.1 952.2L985.4 953.4L985.5 953.5L985.9 952.5L987.7 954.1L988.9 954.6L989.3 954.5L989.6 953.1L989.8 953.1L990.1 954.3L991.7 953.6L993.3 953.5L993.6 952.5L993.7 952.4L994.1 953.3L995.7 952.9L996 952.9L997.3 953.1L997.6 951.9L997.8 951.9L998.1 953.1L999.5 952.4L1001 952.2L1001.4 953.5L1001.5 953.6L1001.8 952.3L1003.2 952.8L1003.5 952.8L1005 951.6L1005.4 952.4L1005.5 952.3L1005.9 951.2L1007.2 950.7L1007.6 951.2L1009.2 952.4L1009.5 953.9L1009.6 954L1010 953.2L1011.3 954.7L1012.4 955.3L1014 955.3L1014.3 956.5L1014.4 956.5L1014.8 955.6L1015.5 956.7L1016.4 957L1017.1 957L1017.4 955.8L1017.6 955.8L1017.9 956.9L1020.2 956L1021.4 955.5L1021.8 955.3L1022.1 956.4L1022.3 956.4L1022.6 955L1023.6 954.6L1025.2 954L1025.5 955L1025.7 954.9L1026 953.7L1026.5 953.7L1027.6 953.5L1029.2 952.9L1029.5 951.6L1029.7 951.5L1030 952.4L1031.6 950.9L1032 950.5L1033.6 949.1L1034 950L1034.1 949.9L1034.4 948.5L1035.3 948L1036.9 946.9L1037.2 947.8L1037.4 947.7L1037.7 946.4L1037.7 946.4L1039.8 946.5L1041.4 946.2L1041.7 945.2L1041.9 945.2L1042.2 946L1043.1 944.8L1044.7 944.4L1044.8 944.6L1045 945.4L1045.2 945.4L1045.5 944.1L1047.2 943.7L1048.8 943.1L1049.1 944.2L1049.2 944.2L1049.5 942.9L1049.9 942.9L1051.8 943.1L1053.4 942.5L1053.7 941.4L1053.9 941.4L1054.2 942.2L1055.4 941.2L1057 940.3L1057 940.3L1057.3 941.3L1057.5 941.3L1057.8 940.1L1060 940L1061.6 940L1061.9 938.8L1062.1 938.7L1062.4 939.7L1064 938.5L1064.1 938.4L1065.6 937.9L1065.9 938.8L1066.1 938.7L1066.4 937.6L1067.8 938.1L1069.2 937.7L1069.3 937.6L1069.7 936.2L1069.8 936L1070.1 936.9L1071.2 935.2L1072.8 933.5L1073.1 934.4L1073.3 934.2L1073.6 932.7L1074.3 932.2L1076 931.9L1077.5 931.4L1077.9 932.3L1078 932.2L1078.3 931.2L1078.3 931.2L1079.2 931.7L1080.8 932.1L1081.1 933.2L1081.3 933.3L1081.6 932.4L1082.4 933L1083.8 933.3L1085.4 933.2L1085.8 932.2L1085.9 932.2L1086.2 933.1L1086.5 932.8L1087.1 932.4L1088.7 933.3L1089 934.5L1089.1 934.6L1089.5 933.7L1090.5 934.3L1091.3 933.9L1092.9 932.5L1093.2 933.5L1093.3 933.4L1093.7 931.9L1095.6 930.9L1095.6 930.9L1096 924.8L1096.2 900.3L1097.2 899.4L1097.5 900.4L1097.7 900.3L1098 898.9L1099.2 899.2L1099.2 899.2L1100.8 905.4L1101.1 905.6L1101.2 906.2L1101.5 908.6L1101.7 909.2L1102.7 919.2L1103 919.4L1104.6 920.8L1104.9 920L1105.1 920.1L1105.4 921.4L1106.8 922.4L1107.7 921.8L1109.3 921.1L1109.6 920.1L1109.8 920L1110.1 920.7L1111.1 920.2L1112.7 919.5L1112.9 918.9L1113 918.3L1113.2 918.2L1113.5 919.3L1115 918.5L1116.6 918.4L1116.9 917L1117 916.9L1117.4 918.2L1118 918L1119.3 918.9L1120.9 920.3L1121 920L1121.2 919.5L1121.4 919.7L1121.7 921L1123.6 921.8L1125.1 922.9L1125.2 922.9L1125.5 924.1L1125.7 924.1L1126 922.6L1126.9 923.2L1128.5 922.9L1128.8 921.8L1128.9 921.8L1129.3 922.7L1130.2 922.4L1130.6 921.6L1132.2 919.2L1132.5 917.3L1132.7 917L1133 917.8L1133.4 916.9L1134.2 910.1L1135 896.9L1135.2 893.1L1135.9 893L1136.6 902.4L1136.9 908.1L1137 908.4L1137.1 908.5L1137.4 907.4L1137.6 907.6L1138 900.1L1139.6 900L1139.8 900L1140.3 893.1L1141 892.9L1141.2 895L1141.5 899.6L1141.7 901L1141.7 901L1142 899.7L1142.5 900.9L1143.4 901L1144 903.8L1144.2 903.8L1144.4 904.1L1144.5 905.1L1144.8 907.6L1144.8 908.1L1147.1 909L1147.2 909.1L1148.8 911.7L1148.8 911.5L1149.1 909.9L1149.2 909.7L1149.5 910.7L1150.6 909.2L1150.8 908.9L1152.2 910.7L1152.5 909.9L1152.7 910.2L1152.9 911.3L1153 911.6L1154.9 910.1L1155.1 910.5L1156.7 913.5L1156.9 913L1157 912.1L1157.2 911.9L1157.5 913.1L1158.4 912L1159.9 910.2L1160 909.9L1160.3 909.1L1160.4 909.1L1160.7 910.5L1162.6 910.9L1162.7 911L1164.2 912.2L1164.5 910.8L1164.6 910.9L1165 912.7L1165.7 912.7L1167.5 910.7L1167.8 910.5L1169.1 910L1169.4 911.2L1169.5 911.1L1169.9 909.8L1170.2 910.1L1170.8 910.7L1172.4 910.3L1172.7 909L1172.8 908.9L1173.2 910.1L1174.6 909.7L1176.2 909.4L1176.3 909L1176.5 908.1L1176.6 908.1L1177 909.5L1179.2 909.4L1180.8 910.1L1181.1 908.8L1181.2 908.9L1181.6 910.3L1182.3 910.3L1183.4 909.3L1185 908.2L1185.3 906.6L1185.4 906.5L1185.4 906.5L1185.8 907.9L1186.3 907.6L1187.9 908.2L1188.2 906.6L1188.3 906.6L1188.7 908.3L1190.5 907.5L1191 907.4L1192.6 907.9L1192.9 909.7L1193.1 909.7L1193.4 908.2L1194.2 908.8L1195.8 909.2L1196.1 911L1196.3 911.1L1196.6 909.7L1196.6 909.6L1198.7 909.5L1200.3 909.4L1200.6 910.7L1200.8 910.7L1201.1 909.3L1202.7 909.5L1203.2 909.6L1204.8 909.4L1205.2 910.8L1205.3 910.8L1205.6 909.5L1206.4 909.5L1207.8 909.6L1208 909.5L1208.3 910.8L1208.4 910.7L1208.8 908.9L1210.8 908.8L1210.9 908.9L1212.5 909.4L1212.8 907.6L1213 907.6L1213.3 909.6L1214.3 908.7L1215.9 908.6L1216.2 910L1216.3 910L1216.7 908.8L1218.9 910.2L1219 910.2L1220.6 910.3L1220.9 908.5L1221.1 908.5L1221.4 910.2L1222.2 910.1L1223.8 909.7L1224.1 908L1224.3 908L1224.6 909.6L1225 909.3L1226.8 908.9L1228.4 908.9L1228.7 910.6L1228.9 910.6L1229.1 909.7L1229.2 909L1230.4 909.6L1232 909.4L1232.3 907.5L1232.5 907.3L1232.9 909L1234.6 907.2L1235.2 906.8L1236.1 906.4L1236.4 908.1L1236.8 908L1237.2 906.3L1238 906.5L1239.4 906.1L1239.7 907.9L1240.3 907.8L1240.6 906L1241.3 906.5L1242 907L1243.3 907.4L1243.6 905.5L1244.3 905.4L1244.7 907.3L1246.5 906.5L1247.4 907L1247.7 907.3L1248 905.1L1249 905.2L1249.3 907.4L1249.8 907L1251 907.6L1251.3 905.4L1252.3 905.5L1252.5 906.4L1252.7 907.7L1254.7 906.7L1255.8 906.6L1256.2 904.5L1257.2 904.2L1257.5 906.1L1257.5 906.1L1258.1 905.9L1259.3 907.4L1259.6 905.2L1260.6 905.8L1260.9 908.4L1261.6 908.5L1262.2 908.3L1263.3 909.3L1263.7 906.9L1264.7 907.2L1265 909.7L1265.7 907.9L1265.7 907.9L1266.8 908.7L1267.2 911.9L1268.2 912.8L1268.5 910.3L1269.7 911.8L1270.2 912.2L1271.4 912.8L1271.7 915.5L1272.7 916.2L1273 913.9L1273.8 916L1275 917.4L1275.3 915.3L1275.8 915.6L1276.3 915.5L1276.7 917.7L1278.5 915.4L1279.7 914.5L1280 916.9L1281 916.6L1281.3 913.9L1281.7 915.6L1281.9 915.7L1282.9 916.6L1283.2 913.2L1284.2 913.3L1284.5 916.8L1286.4 914.9L1287.6 914.6L1287.9 917.4L1288 917.4L1288.9 917.5L1289.2 914.9L1290.2 916.9L1291.3 917.7L1291.7 914.9L1292.7 915.1L1293 918L1293.6 915.6L1294.1 915.5L1294.8 916L1295.1 920L1296.1 921.1L1296.4 917.8L1297.5 921.8L1298.2 922.9L1298.7 923L1299 919.1L1300 918.7L1300.3 922.4L1301.8 919.1L1302.2 918.8L1303 918.8L1303.3 921.9L1304.3 922.1L1304.6 919.2L1305.5 921.4L1306.3 922.3L1306.6 922.7L1307 919.1L1308 919.4L1308.3 923.1L1309.7 922.7L1310.4 923.2L1310.9 924.1L1311.2 921.5L1312.2 923L1312.4 925.5L1312.5 926.5L1313.8 924.5L1315 924.3L1315.3 928.4L1316.3 928.7L1316.6 924.9L1317.4 925.6L1317.5 925.6L1318.6 927.2L1318.9 931.5L1319.9 933.1L1320.2 929.9L1320.5 930.8L1322.4 935.2L1323.6 937.4L1323.9 934.5L1324.6 935.4L1324.9 935.8L1325.2 939.5L1326.4 940.4L1327.5 942.7L1327.9 939.1L1328.7 940L1328.9 940.1L1329.2 944.3L1330.2 943.6L1331.4 945.1L1331.7 941.3L1332.7 941.7L1333 945.8L1334 945.9L1335.1 946.9L1335.5 943.6L1336.5 944.2L1336.8 947.9L1336.8 948L1338.4 948.7L1339.5 950.1L1339.9 946.5L1340.9 947.3L1341.2 951.3L1341.9 950.9L1343 951.5L1343.3 948.5L1344.3 948.7L1344.7 952L1345.9 952.2L1346.2 952.2L1347.3 953L1347.7 950.2L1348.7 950.7L1349 953.8L1349.2 953.8L1350 954.6L1350.3 954.7L1350.7 950.8L1351.7 950.6L1352 954.5L1353.5 951.3L1354.1 951.1L1354.7 951.2L1355 954.9L1356 955.4L1356.3 952L1357.2 955L1358.3 956.1L1358.6 952.9L1359.2 953.2L1359.6 953.2L1360 956.6L1362.2 956.3L1363.2 957.1L1363.4 957.2L1363.7 953.4L1364.7 953.3L1365 957L1366 953.8L1367.2 953.3L1367.5 957.2L1368.3 957.2L1368.5 957.3L1368.8 953.5L1369.4 956L1370.6 957.3L1370.9 954.3L1371.9 954.7L1372.2 958L1373.4 958.3L1373.8 958.3L1375 959.2L1375.3 956L1376.3 956.4L1376.6 959.8L1377.3 959.4L1378.5 960.8L1378.5 960.8L1378.8 957L1379.8 957.3L1380.1 961.1L1381.4 958.5L1382.5 958.4L1382.8 961.8L1383.5 961.9L1383.8 961.9L1384.2 958.7L1385.1 959.2L1386.3 958.7L1386.6 962.4L1387.6 962.6L1387.9 958.9L1388.6 959.4L1389 959.8L1390.2 959.9L1390.5 963.3L1391.5 963.8L1391.8 960.8L1393.7 963.9L1393.9 964.4L1395.1 966.3L1395.4 962.5L1396.4 963.2L1396.7 967.5L1397.3 967.2L1398.5 968.5L1398.8 965L1399.8 965.8L1400.1 969.7L1400.2 969.7L1401.9 967L1403.1 966.2L1403.4 969.7L1404.4 969.5L1404.7 966L1405.2 967L1405.9 967.9L1407.1 968.1L1407.4 964.6L1408.4 964.2L1408.7 967.3L1409.2 964.5L1410.3 963.5L1410.4 963.5L1410.7 966.9L1411.7 966.5L1412 962.9L1413.6 964.7L1414.7 965.2L1415 961.8L1415.4 961.7L1416 961.6L1416.4 964.9L1417.2 962.2L1418.3 961.5L1418.7 965.5L1419.7 965.4L1420 961.4L1421 961.9L1422.2 961.7L1422.5 964.8L1423.5 964.7L1423.5 964.2L1423.8 961.6L1425.5 962.3L1426.6 961.3L1427 964.5L1428 964.4L1428.3 961.2L1429.8 961.8L1430.6 961.2L1430.9 961L1431.3 964.2L1432.3 964L1432.6 960.7L1432.8 963L1434 963.3L1434.3 960.1L1435.3 959.9L1435.6 963L1437.8 960.4L1438.8 959.5L1438.9 959.4L1439.3 962.9L1440.3 963L1440.6 959.6L1441.7 962L1442.9 962.8L1443.2 959.3L1444.2 959.4L1444.5 962.9L1445.5 962.3L1446.6 962.9L1446.9 960.3L1447 959.7L1448 960.3L1448.3 963.8L1449.2 964.1L1450.3 965.4L1450.7 961.7L1451 961.8L1451.7 962.1L1452 966.2L1452.7 963.6L1453.8 963.7L1454.2 967.2L1455.2 967.5L1455.5 964.3L1456 964.8L1457.1 965.5L1458.3 964.8L1458.6 968.7L1459.6 968.9L1460 965.2L1461 966.5L1462.1 966.1L1462.5 968.9L1463.2 969.1L1463.5 969.2L1463.8 966.5L1465.4 967.5L1466.6 967.1L1466.9 970.7L1467.9 971.1L1468.2 967.7L1469.2 968.8L1469.5 968.9L1470.7 968.1L1471 971.7L1472 971.7L1472.3 968.2L1473.2 969.5L1474.3 968.7L1474.7 971.4L1475.7 971.5L1476 968.8L1476.7 970.7L1477.4 971.1L1477.9 971.4L1478.2 968.7L1479.2 968.9L1479.5 971.6L1481.5 969.5L1482.7 969.3L1483 972.6L1484 972.8L1484.3 969.5L1485.3 970.5L1485.5 970.4L1486.5 970.4L1486.8 973.1L1487.8 973.5L1488.1 971L1488.7 972.9L1489.9 974L1490.2 971.7L1491.2 972.2L1491.5 974.7L1491.6 974.8L1493.4 975.4L1494.6 976.4L1494.9 973.7L1495.9 974.2L1496.2 977.3L1496.7 977.2L1497.7 977.9L1497.8 978L1498.2 975.4L1499.2 975.7L1499.5 978.6L1501.4 977.6L1502.5 977.2L1502.9 980.1L1503.9 980.5L1504.2 977.8L1504.8 979.5L1505.2 980.9L1506.3 982.8L1506.7 980.5L1507.7 982L1508 985.2L1508.9 985.4L1509.3 985.4L1510.4 986.3L1510.8 989.2L1511.8 990.6L1511.9 989.5L1512.1 988.4L1512.9 991.3L1514.1 992.4L1514.4 990.2L1515.4 991.1L1515.7 993.8L1516 994L1516.7 994.3L1517.9 996L1518.2 993.7L1518.5 994.1L1519.2 993.1L1519.5 995.3L1520.3 992.1L1521.1 990.9L1521.5 990.7L1521.8 993.3L1522.8 993.2L1523.2 990.6L1524.3 992.1L1525.5 992.5L1525.8 990.3L1526.2 990.3L1526.8 990.3L1527.1 992.5L1528.5 991.8L1529.7 992.7L1530 990.6L1531 990.7L1531.4 992.8L1532.2 992.7L1533.2 993L1534.3 993.9L1534.3 993.9L1534.7 991.6L1535.7 991.1L1536 993.1L1536.7 990.7L1537.8 990L1538.1 992.5L1538.3 992.5L1539.1 992.4L1539.5 989.6L1540.7 991L1541.9 991.7L1542.2 989L1543.2 988.9L1543.5 991.5L1544.8 989.3L1546 988.8L1546.3 991.3L1546.5 991.3L1547.3 991.3L1547.6 988.8L1548 989.4L1549.2 988.8L1549.5 991.3L1550.5 991.3L1550.8 988.8L1552.2 989.2L1553.4 988.8L1553.7 991.3L1554.6 991.3L1554.7 991.2L1555 988.8L1556.3 990.5L1557.5 991.3L1557.8 988.6L1558.8 988.7L1559.1 991.4L1560.8 989.8L1561.9 989.3L1562.2 991.7L1562.7 991.7L1563.2 991.4L1563.6 988.8L1564.2 990.6L1565.4 990L1565.7 987L1566.7 986.4L1566.8 986.9L1567 989L1568.6 985.8L1569.8 984.2L1570.1 986.2L1570.9 985.6L1571.1 985.5L1571.4 983L1572.2 984.3L1573.3 983.9L1573.7 981.4L1574.7 980.8L1575 982.9L1575.9 980.9L1576.4 980L1577.5 979L1577.9 981.7L1578.9 981.1L1579.2 978L1580.2 979.7L1581 979.3L1581.4 978.9L1581.7 976.1L1582.7 974.8L1583 976.8L1583.9 974.1L1585.1 972.1L1585.1 972.1L1585.4 974.4L1586.4 974.4L1586.7 971.9L1588.7 971.8L1589.8 971.4L1590.2 974.2L1591.2 973.8L1591.5 970.9L1592.1 972.3L1593.3 972.7L1593.6 969.8L1594.2 969.6L1594.6 969.4L1594.9 972.1L1596.8 969.2L1597.9 968.6L1598.2 970.8L1599.2 970.4L1599.3 970L1599.6 968L1599.6 968.2L1600.8 968.2L1601.1 970.7L1602.1 970.8L1602.4 968.5L1604.7 970.7L1605.9 971L1606.2 968.9L1606.4 968.9L1607.2 969.3L1607.5 971.5L1607.8 971.3L1609 972.2L1609.3 970L1610.3 970.4L1610.6 972.8L1611.5 973.1L1612.6 974.5L1613.7 976.2L1613.9 975.3L1614.1 973.7L1615.1 973.3L1615.4 975.8L1615.5 975.4L1616.7 975.3L1617 972.3L1618 972L1618.1 972.8L1618.3 974.8L1619.7 972.6L1620.9 971.7L1621.2 973.9L1622.2 973.5L1622.5 971.2L1623.9 971.6L1624 971.5L1625.1 970.6L1625.4 972.7L1626.4 972.4L1626.7 970.2L1628.5 969.8L1629.7 969.4L1630 971.7L1630.8 971.4L1631 971.4L1631.3 968.9L1631.6 969.2L1632.8 968.5L1633.1 970.7L1634.1 970.4L1634.4 968L1635.9 968.1L1637.1 966.9L1637.4 969.7L1638.4 969.4L1638.7 966.5L1639.3 967L1640.3 968.1L1641.5 968L1641.8 965.1L1642.8 964.8L1643.2 967.5L1644.2 965L1645.2 964.4L1645.4 964.4L1645.7 966.8L1646.7 966.9L1647 964.6L1648 966.3L1649.1 966.9L1649.5 964.5L1650.3 964.6L1650.5 964.6L1650.8 967.2L1651.3 965.9L1652.5 965.4L1652.8 968.5L1653.8 968.9L1654.1 966.1L1654.5 966.4L1656 967.5L1657.2 966.8L1657.5 969L1658.5 969.1L1658.8 967L1659.6 967.1L1660.4 967.4L1661.5 967.4L1661.8 970.5L1662.8 970.9L1663 969.8L1663.2 967.9L1663.3 970.2L1664.5 970.2L1664.8 967.4L1665.8 967.2L1666.2 969.9L1667.2 969.4L1668.3 968.9L1669.5 969L1669.8 966.6L1670.8 966.4L1671.2 968.7L1671.5 967.9L1671.8 967.2L1673 967.1L1673.3 970.3L1674.3 971L1674.6 968.1L1675.4 968.8L1675.7 968.9L1676.5 969.6L1676.9 973L1677.9 974L1678.2 971.3L1679.1 973.7L1679.4 974.5L1680.5 975.8L1680.9 973.2L1681.9 973.9L1682.2 977L1683.3 977.1L1683.4 977.1L1684.5 978.5L1684.9 975.6L1685.9 976.1L1686.2 979.3L1687.2 977.4L1687.5 977.5L1688.4 978.3L1688.7 981.3L1689.7 982.2L1690 979.9L1690.9 981.9L1691 982" stroke="#b0521c" stroke-width="2.5" fill="none" stroke-linejoin="bevel"/>
<use href="#cs" x="297.4" y="858.5"/>
<use href="#cs" x="297.4" y="978.5"/>
<use href="#cs" x="367.5" y="954.5"/>
<use href="#cs" x="373.6" y="954.5"/>
<use href="#cs" x="368" y="978.5"/>
<use href="#cs" x="373.1" y="978.5"/>
<use href="#cs" x="369.2" y="1002.5"/>
<use href="#cs" x="480.5" y="906.5"/>
<use href="#cs" x="478.1" y="954.5"/>
<use href="#cs" x="483.7" y="954.5"/>
<use href="#cs" x="477.6" y="978.5"/>
<use href="#cs" x="478.1" y="1002.5"/>
<use href="#cs" x="483.7" y="1002.5"/>
<use href="#cs" x="621.9" y="954.5"/>
<use href="#cs" x="627.5" y="954.5"/>
<use href="#cs" x="621.9" y="978.5"/>
<use href="#cs" x="627" y="978.5"/>
<use href="#cs" x="621.4" y="1002.5"/>
<use href="#cs" x="626.5" y="1002.5"/>
<use href="#cs" x="742" y="858.5"/>
<use href="#cs" x="740.6" y="954.5"/>
<use href="#cs" x="740.6" y="978.5"/>
<use href="#cs" x="746.5" y="978.5"/>
<use href="#cs" x="846" y="834.5"/>
<use href="#cs" x="844.8" y="906.5"/>
<use href="#cs" x="853.9" y="906.5"/>
<use href="#cs" x="845.8" y="930.5"/>
<use href="#cs" x="845.3" y="954.5"/>
<use href="#cs" x="1035.7" y="906.5"/>
<use href="#cs" x="1035.7" y="930.5"/>
<use href="#cs" x="1040.5" y="930.5"/>
<use href="#cs" x="1040.5" y="954.5"/>
<use href="#cs" x="1092" y="858.5"/>
<use href="#cs" x="1091.6" y="906.5"/>
<use href="#cs" x="1096.6" y="906.5"/>
<use href="#cs" x="1092.6" y="930.5"/>
<use href="#cs" x="1096.6" y="930.5"/>
<use href="#cs" x="1092" y="954.5"/>
<use href="#cs" x="1096.6" y="954.5"/>
<use href="#cs" x="1235.4" y="930.5"/>
<use href="#cs" x="1234.7" y="954.5"/>
<use href="#cs" x="1234.7" y="978.5"/>
<use href="#cs" x="1238.7" y="978.5"/>
<use href="#cs" x="1419.5" y="930.5"/>
<use href="#cs" x="1420.5" y="954.5"/>
<use href="#cs" x="1413.6" y="954.5"/>
<use href="#cs" x="1419.5" y="978.5"/>
<use href="#cs" x="1413.6" y="978.5"/>
<use href="#cs" x="1414.4" y="1002.5"/>
<use href="#cs" x="1485" y="882.5"/>
<use href="#cs" x="1485" y="930.5"/>
<use href="#cs" x="1488.8" y="930.5"/>
<use href="#cs" x="1484.5" y="954.5"/>
<use href="#cs" x="1485.3" y="978.5"/>
<use href="#cs" x="1610.5" y="930.5"/>
<use href="#cs" x="1610" y="954.5"/>
<use href="#cs" x="1604.4" y="954.5"/>
<use href="#cs" x="1610" y="978.5"/>
<use href="#cs" x="1604.4" y="978.5"/>
<path d="M300.6 889.9L315 914.8L286.2 914.8Z" fill="#f781bf" stroke="#b0521c" stroke-width="1.6" stroke-linejoin="miter"/>
<path d="M300.6 913.9L315 938.8L286.2 938.8Z" fill="#f781bf" stroke="#b0521c" stroke-width="1.6" stroke-linejoin="miter"/>
<path d="M300.6 937.9L315 962.8L286.2 962.8Z" fill="#f781bf" stroke="#b0521c" stroke-width="1.6" stroke-linejoin="miter"/>
<path d="M244.6 987L246.1 983.9L246.4 992.2L246.6 992.3L246.9 984.2L248.2 986.3L249.8 986.2L250.1 992.4L250.2 992.4L250.3 992.5L250.6 986.5L252.9 987.5L254.4 986.8L254.8 995.3L254.9 995.3L255.2 987.1L256.4 988.9L258 987.7L258.3 996.8L258.4 996.9L258.8 988.1L260.3 994.8L260.6 995.8L262.1 997.7L262.5 987.5L262.6 987.7L262.9 998.1L264.5 991.5L266.1 989.8L266.4 999.9L266.5 1000L266.9 990.1L268.6 992.4L270.2 990.9L270.5 1000.9L270.5 1001.2L270.6 1001.5L271 991.3L272.9 993.2L274.5 991.4L274.8 1004.2L275 1004.5L275.3 991.8L276.3 994.5L277.9 992.7L278.2 1005.7L278.3 1005.6L278.6 994.8L278.7 992.9L280 997.4L281.6 996.2L281.9 1003.3L282 1003.3L282.4 996.4L284.8 999.1L285.7 999.1L286.4 998.9L286.7 1001.6L286.8 1001.6L287.2 998.8L288.8 999.3L288.9 999.4L290.4 998.4L290.8 1000.7L290.9 1000.7L291.2 998.3L292.6 997.5L294.2 995.6L294.5 1003L294.7 1003L295 995.5L295.9 996.4L296.2 996.7L297.8 994.4L298.1 1003.1L298.2 1003.1L298.6 994.3L299.7 995.9L301.3 994.1L301.6 1002.1L301.7 1001.9L302.1 993.8L304.8 994.5L306 993.2L306.4 992.8L306.7 1000.9L306.9 1000.9L307.2 992.5L308.2 993.2L309.8 991.1L310.1 1000.2L310.2 1000.1L310.6 990.7L312.3 997.5L313.9 998.5L314.2 987.5L314.4 987.3L314.7 998L316 995.5L316.2 995.7L317.6 997.3L317.9 986.1L318.1 985.9L318.4 996.9L320.6 994.6L322.2 996.2L322.5 984.2L322.7 984.1L323 995.9L324.4 992.3L326 993.9L326.4 984.5L326.5 984.4L326.8 993.6L328.7 991.3L330.2 993L330.6 982.3L330.7 982.4L331.1 992.8L332.2 985.2L332.5 984.9L333.8 985.4L334.2 994.6L334.3 994.7L334.6 986.3L335.5 990.3L336.5 991.2L337.1 991.2L337.4 994.7L337.5 994.7L337.9 991.3L340.4 992.8L342 992.2L342.3 995.7L342.5 995.7L342.8 992.3L343.9 993.2L345.5 993.1L345.8 996L346 996.1L346.3 993.3L346.7 993.4L347.7 993.9L349.3 993.8L349.6 996.9L349.8 996.9L350.1 994L351.7 996.5L353.3 997.3L353.6 994.5L353.8 994.5L354.1 997.4L355.6 997.6L356.9 998.3L357.1 998.3L357.5 994.5L357.6 994.4L357.9 998L359.4 993.9L360.9 992.5L361.3 999L361.4 999L361.7 992.3L363.6 992.4L364 991.9L365.2 990.5L365.5 998.7L365.6 998.6L366 990.1L368.1 991.1L369.7 989.4L370.1 996.2L370.2 996.1L370.5 989.1L372 994.2L372.1 994.2L373.6 992.7L373.9 984L374.1 983.7L374.4 991.4L375.1 988.8L375.4 988.1L376.7 987.5L376.9 988.8L377.2 983L377.4 983.6L377.7 991.9L378.2 993.5L379.9 993.4L380.2 993.7L381.5 994.5L381.8 988.6L381.9 988.7L382.3 994.7L383.9 990.7L385.3 989.9L385.4 989.7L385.8 995.6L385.9 995.5L386.2 989.1L387.2 989.5L388.8 987.5L389.1 992.4L389.3 992.3L389.6 986.8L390.4 986.9L391.3 987.2L392.9 986.2L393.2 988.1L393.4 987.9L393.7 985.7L395.2 985.3L396.8 984.1L397.1 985.7L397.3 985.6L397.5 984.5L397.6 983.6L399.7 983.8L401.3 983.1L401.6 980.3L401.8 980.2L402.1 982.6L403.6 981.2L404 981.3L405.6 982.3L405.9 980.4L406 980.5L406.4 982.8L407.1 982.7L407.6 983.1L408.7 983.3L409 981.2L409.2 981.2L409.5 983.2L411.2 981.7L412.8 980.7L413.1 983.5L413.3 983.4L413.6 980.6L415.3 982.7L416.9 982.7L417.2 980.1L417.4 980.1L417.7 982.6L417.8 982.4L419 979.3L420.6 977.1L420.9 980.3L421 980.2L421.4 976.3L422.9 977.7L423.4 978.4L425 978.6L425.3 971.6L425.4 971.6L425.8 978.3L427.4 972.6L428 971.8L428.9 970.6L429.2 977.8L429.4 977.8L429.7 970.4L431.3 971.1L432.9 969.1L433.1 973L433.2 976.3L433.4 976.6L433.7 969.6L435.6 975.1L435.9 976.6L437.5 982.3L437.6 980.7L437.8 978.5L437.9 978.4L438.3 982.6L439.7 979.5L441.2 978.2L441.6 980.4L441.7 980.4L442 977.9L443.2 977.3L443.3 977.3L444.9 977L445.2 979.4L445.4 979.3L445.7 976.8L447.5 978.2L448.3 978.2L449.1 977L449.4 974.4L449.6 974.1L449.9 975.7L451.1 973.2L452.7 971.3L453 968.7L453.2 968.5L453.4 969.5L453.5 970.1L455.6 967.3L457.1 966L457.5 968L457.6 968L457.9 965.5L458.4 965.5L459.6 965.3L461.2 964.5L461.6 962.3L461.7 962.2L462 963.8L462.9 961.3L464 960.1L464.5 960.7L464.9 963.6L465 963.8L465.3 961.7L467.5 965L468.6 966.4L469.1 966.7L469.4 968.7L469.6 968.8L469.9 967.2L471.1 969.5L472.7 970.5L473 968.8L473.2 968.9L473.5 971L473.7 971.1L474.9 970.3L476.5 970.4L476.8 968.5L476.9 968.4L477.3 970.2L477.8 970L479.6 969.7L480.2 969.8L481.2 969.6L481.5 967.7L481.7 967.7L482 969.3L483.5 968.3L485.1 968.1L485.2 967L485.4 966L485.5 965.8L485.9 967.3L487.6 963.9L489.2 961.2L489.5 963L489.7 962.8L490 960.1L490.8 959.1L491.5 960.1L493.1 962.3L493.4 965.1L493.6 965.4L493.9 963.5L494.4 964.8L495.2 966.2L496.8 966.5L497.1 964.6L497.3 964.6L497.6 966.6L498.8 966.2L500.4 967L500.5 966.3L500.7 965.1L500.8 965.1L501.1 966.7L503.1 965.4L504.7 965.1L505 962.7L505.2 962.6L505.5 964.7L506.6 962.6L507.2 960.9L508.8 957.3L509.1 962.6L509.2 962.3L509.6 956.1L510.6 957.8L510.8 958.2L512.4 959L512.7 953.8L512.9 953.7L513.2 958.8L514.7 957.3L515.2 957.5L516.3 962.2L516.6 958.6L516.8 959.2L517.1 965.1L517.8 966.9L519.1 968L520.7 970.6L521 968.9L521.2 969.2L521.5 971.8L521.8 972.2L522.5 972.2L524.1 972.5L524.4 970.8L524.6 970.9L524.9 972.7L526.5 972.5L526.9 972.8L528 974.5L528.4 972.4L528.5 972.6L528.9 975.4L531 977.4L531 977.4L532.6 978.5L532.9 975.1L533.1 975.1L533.4 978.8L535.2 976.4L536.8 976L537.1 979.9L537.1 981.1L537.3 981.1L537.6 976L539.2 976.5L540.8 974.9L541.1 979.8L541.3 979.8L541.6 974.6L542.6 975.3L543.2 974.8L544.2 974.4L544.5 979.5L544.7 979.5L545 974.6L546.8 975.6L548.4 974.4L548.7 981.7L548.8 981.8L549.1 974.6L550.5 979.7L551.3 980.4L552.1 980.6L552.4 975L552.5 974.9L552.9 980.3L555 975.6L556.6 974.2L556.9 979.5L557 979.4L557.4 974L557.4 974L559 976.3L560.6 976.4L560.9 983.8L561.1 983.9L561.4 977.2L561.4 977.5L562.3 982.4L563.9 985.4L564.2 982.9L564.3 983.1L564.5 984.7L564.7 986.3L566.9 983.7L568.5 983.3L568.8 985.1L569 985L569.3 983.1L570.6 984.5L571.6 984.3L572.2 984.2L572.5 982.2L572.7 982.2L573 984.1L574.7 983.2L576.3 983.3L576.6 981.5L576.8 981.5L577.1 983.2L578.9 981.5L580.4 980.8L580.8 982.7L580.9 982.7L581.2 980.7L581.8 980.8L581.9 980.8L583.5 980.3L583.8 981.8L584 981.7L584.3 980.1L586.2 981L587.8 980.6L588.2 979L588.3 979L588.6 980.4L589.9 979.2L591 977.3L592.6 974.7L592.9 978.8L593.1 978.7L593.4 974L594.3 977L595 976.6L595.9 976.2L596.2 970.1L596.3 969.9L596.7 975.5L598.5 972.7L598.9 973.2L600.5 976.8L600.9 972.7L601 973L601.3 978.2L602.1 979.2L602.1 979.2L603.7 978.3L604 972L604.2 971.7L604.5 977.3L606.7 973.9L606.9 973.9L608.5 975.3L608.9 970.3L609 970.4L609.3 975.6L610.2 972.1L611.8 972.1L612.1 976.9L612.2 976.9L612.3 976.9L612.6 972L614.3 972L615.9 970.6L616.2 974.8L616.3 974.7L616.6 970.1L617.8 970.3L618.3 969.7L619.4 968.1L619.8 972.5L619.9 972.3L620.2 967.2L622.4 968.2L622.7 968.5L624.3 969.4L624.6 963.1L624.7 963L625.1 969.1L626.1 967.7L627.7 967.9L628 962.4L628.2 962.3L628.5 967.2L628.5 967.6L629.8 965.4L631.4 966.3L631.7 972.2L631.9 972.4L632.2 967.4L632.6 968.5L633.9 974.3L634.6 976.5L635.5 976.9L635.8 972.9L636 972.8L636.3 976.7L638.6 973.9L640.2 973L640.5 975L640.7 975L641 972.8L642.5 974.4L642.7 974.3L644.1 973.5L644.4 970.6L644.6 970.4L644.9 972.9L646.1 971.1L646.8 970.8L647.7 972.6L648 970.9L648.1 971.1L648.5 973.8L648.8 974.1L650.5 972.6L652.1 972.1L652.5 973.6L652.6 973.5L652.9 971.9L653.7 972.3L655.2 971.3L655.6 973.3L655.7 973.3L656 971.2L657.7 971.5L658 971.4L659.3 971L659.6 972.7L659.8 972.7L660.1 971L661.4 971L663 970.8L663.3 972.7L663.5 972.7L663.8 970.7L666 971.3L667.6 970.6L667.9 972.6L668 972.6L668.4 970.5L670.2 972.2L671.8 972.2L672.1 970.3L672.3 970.3L672.6 972.2L673.2 972.1L674 971.9L675.6 971.9L675.9 970L676 969.9L676.4 971.8L678 970.2L679.6 969.9L679.9 971.5L680.1 971.5L680.4 969.8L681.5 970.5L683.1 971L683.4 969.5L683.4 969.4L683.6 969.3L683.9 970.8L685.3 969L686.9 968.3L687.2 970.2L687.4 970.2L687.7 968.1L689.6 967.8L691.2 967.3L691.6 968.6L691.7 968.6L692 967L693.5 966.7L694.1 966.4L695.7 965.2L696 966.6L696.2 966.5L696.5 964.7L697.7 965.5L698.6 965.5L699.3 965.5L699.6 961.4L699.8 961.3L700.1 965L701.7 963.5L703.2 963.4L703.6 958.8L703.7 958.7L703.7 958.7L704 962.8L705.3 959.3L706.9 957.3L707.2 961.2L707.4 961.1L707.7 956.8L707.8 956.7L709.5 957.1L710.2 956.7L711 955.8L711.4 959.7L711.5 959.7L711.8 955.5L713.8 955.3L714.2 954.7L715.4 957.8L715.7 964L715.8 964.6L716.1 960.7L716.8 963.8L717.7 965.1L719.3 965.6L719.6 963.8L719.8 963.8L720.1 965.4L721.8 964.9L723.4 965L723.4 965L723.7 963.2L723.9 963.3L724.2 965.2L725.1 964.7L726.7 965.5L727 964.2L727.2 964.2L727.5 965.7L729.9 965.8L730.5 966.1L731.5 966.1L731.8 964.6L731.9 964.6L732.2 965.9L733.1 964.4L734.5 964.1L734.7 963.9L735.1 965L735.2 964.8L735.5 963.2L737.9 962.5L738.6 961.9L739.4 961.6L739.8 959.7L739.9 959.6L740.2 961.2L741.1 960.4L742.7 959.9L743 958.5L743.2 958.5L743.5 959.6L745.7 958.5L745.8 958.5L747.3 958.8L747.7 957.2L747.8 957.2L748.1 958.8L749.8 958.3L751.4 958.6L751.7 957.4L751.9 957.4L752.2 958.6L753.2 958L754.8 957.5L754.9 957.6L755.2 958.9L755.3 959L755.6 957.7L757.2 959.2L758.8 960L759.1 958.7L759.3 958.8L759.6 960.3L761 959.5L761 959.4L762.6 958.5L762.9 959.7L763.1 959.6L763.4 958L764.9 957.5L766 956.5L766.5 956.6L766.8 958.2L767 958.3L767.3 957L769.9 959.3L771.1 960.2L771.5 960.1L771.8 958.6L772 958.6L772.3 959.9L772.7 958.5L774.3 958.1L774.6 959.2L774.8 959.2L775.1 957.8L777.5 957.2L779.1 956.7L779.4 957.7L779.6 957.7L779.9 956.5L781.3 956.3L781.6 956.3L783.2 955.6L783.5 956.8L783.7 956.8L784 955.5L785.2 956.1L786.8 956L787.1 954.8L787.2 954.8L787.6 955.9L789.4 954.8L789.7 954.6L791.3 953.2L791.6 954.3L791.7 954.2L792.1 952.7L793.6 952.8L795.2 951.7L795.5 950.4L795.5 950.4L795.6 950.3L796 951.2L797.6 950L799.2 949.4L799.5 948L799.6 947.8L800 948.9L801 947.6L801.6 947.1L802.6 947L802.9 948.1L803.1 948.2L803.4 947.1L804.6 947.2L806.2 947.2L806.5 948.7L806.6 948.7L806.7 948.5L807 947.4L808.9 948.9L810.2 949.4L810.5 950L810.8 952.2L810.9 952.7L811.2 952.4L812.8 957.5L813.6 957.4L815.2 956.9L815.5 955.6L815.7 955.5L816 956.4L817.4 954.9L819 953.8L819.3 955.1L819.5 955L819.8 953.4L819.9 953.4L820.6 953.3L822.2 952.7L822.5 953.9L822.6 953.9L823 952.4L824.5 952.4L826.1 951.5L826.4 952.7L826.6 952.7L826.9 951.2L828 951L829.1 951.2L830.7 951.1L831 952.2L831.2 952.3L831.5 951.2L832.8 951.4L834.3 951.2L834.7 952.6L834.8 952.6L835.1 951.3L837.2 951.5L837.3 951.5L838.9 951.1L839.2 952.3L839.4 952.2L839.7 950.9L841.3 951.4L842.9 951.4L843.2 950.1L843.3 950.1L843.7 951.2L844.9 950.7L846.5 950.7L846.8 949.3L847 949.3L847.3 950.6L847.3 950.6L848.3 950.2L849.9 950.1L850.2 948.6L850.4 948.6L850.7 949.9L852.6 948.6L854.2 948.1L854.5 949.1L854.6 949.1L855 947.9L856.8 948.5L857.5 948.4L858.4 948.4L858.7 947.3L858.9 947.4L859.2 948.4L860.5 948.2L862 948.4L862.4 947.4L862.5 947.4L862.8 948.4L864.6 947.9L865.3 947.9L866.9 947.7L867.2 948.9L867.4 948.9L867.7 947.8L868.9 948.3L870.5 948.2L870.8 949.3L871 949.3L871.3 948.3L872.7 948.4L872.8 948.4L874.4 948.3L874.7 949.6L874.9 949.7L875.2 948.3L876.8 948.6L878.4 948.5L878.7 949.5L878.8 949.5L879.1 948.5L880.3 949.1L881.9 949.5L882.2 948.2L882.4 948.2L882.7 949.5L882.9 949.4L884.2 947.8L885.8 946.7L886.2 947.5L886.3 947.4L886.6 946.2L888 945.4L889.2 944.6L890.8 943.7L891.1 944.8L891.3 944.7L891.6 943.2L892.7 942.8L894.1 941.7L894.3 941.7L894.6 943.2L894.7 943.2L895.1 941.9L896 942.8L896.6 943.1L897.5 949.6L897.9 950.7L898 951.7L898.1 952.7L898.4 953.3L900.5 951.8L902.1 951L902.4 949.7L902.6 949.6L902.9 950.5L905.1 948.1L906.3 947.4L906.7 947.4L907 948.3L907.1 948.3L907.5 947.2L908.6 947L910.2 946.6L910.5 947.7L910.7 947.6L911 946.4L912 947L913.4 946.9L913.6 946.9L913.9 945.7L914.1 945.7L914.4 946.8L916 946.5L917.5 946.5L917.9 945.2L918 945.2L918.3 946.4L920.1 945.8L921.7 945.9L922 944.8L922.2 944.8L922.5 945.9L922.5 945.9L924 946.6L925.6 948.3L925.9 947.2L926.1 947.3L926.4 948.9L926.6 948.9L928.3 947.1L929.9 946.3L930.2 947.2L930.4 947.1L930.7 945.9L931.7 945.5L932.7 945.4L934.3 944.9L934.6 946.2L934.8 946.2L935.1 944.8L936.6 944.9L937.8 944.5L938.1 944.2L938.2 944.2L938.5 945.8L938.7 945.9L939 944.6L940.2 945.4L940.7 945.3L942.3 944.5L942.6 945.5L942.8 945.4L943.1 944.2L944.4 944.3L945.2 944.2L946 944.8L946.4 943.7L946.5 943.8L946.8 945.2L948.2 945.6L949.8 946.7L950.1 945.5L950.3 945.6L950.3 945.7L950.6 947.2L952.3 947.2L953.9 948.1L954.2 949.3L954.3 949.4L954.6 948.6L956.2 950.1L956.9 950.7L957.8 950.1L958.1 948.6L958.3 948.4L958.6 949.3L960.1 947.9L960.5 947.5L961.7 946.9L962 945.4L962.1 945.4L962.5 946.6L963.6 945.4L965.2 944.2L965.5 945.2L965.7 945.2L966 943.9L966.6 943.6L968.4 943.9L970 943.7L970.3 945L970.5 945L970.8 943.7L971.7 944.8L972.7 944.8L973.3 945.4L973.6 944.7L973.8 944.9L974.1 946.2L975.5 946.8L977.1 948.1L977.4 949.8L977.6 950L977.8 949.4L977.9 948.9L979.5 949.9L981.1 950.9L981.4 952.2L981.6 952.3L981.9 951.4L982.8 952.2L983.5 951.8L984.9 950.4L985.1 950.5L985.4 952L985.5 952.1L985.9 951.1L987.7 953.1L989.3 954.5L989.6 953.6L989.8 953.8L990 954.5L990.1 954.9L991.7 954.1L993.3 953.4L993.6 952L993.7 951.9L994.1 953L995 952.3L995.7 952L997.3 952L997.6 951L997.8 950.9L998.1 951.9L999.5 950.6L1001 950.4L1001.1 950.7L1001.4 951.5L1001.5 951.5L1001.8 950.2L1003.5 949.8L1005 949.2L1005.4 950.4L1005.5 950.3L1005.9 948.9L1006.2 948.9L1007.6 949.7L1009.2 950.3L1009.5 951.8L1009.6 951.9L1010 950.7L1010.3 950.9L1012.4 953.3L1014 955.1L1014.3 956.5L1014.3 956.6L1014.4 956.6L1014.8 955.5L1015.5 956.1L1017.1 956.2L1017.4 955.2L1017.6 955.2L1017.9 956.2L1020.2 955.3L1020.4 955.3L1021.8 954.1L1022.1 955.2L1022.3 955.1L1022.6 953.6L1023.6 953.2L1025.2 952.1L1025.5 953.1L1025.7 953L1026 951.6L1027.6 951.7L1029.2 950.8L1029.5 949.4L1029.7 949.3L1030 950.3L1030.6 949.7L1032 948.3L1033.6 947.6L1034 948.6L1034.1 948.5L1034.4 947.3L1035.3 946.9L1036.9 946.2L1037.2 947.2L1037.4 947.1L1037.7 945.9L1037.7 945.8L1039.8 945.8L1041.4 945.5L1041.7 944.4L1041.9 944.3L1042.2 945.2L1043.1 944.4L1044.7 943.4L1044.8 943.7L1045 944.3L1045.2 944.2L1045.5 943L1047.2 942.6L1048.8 941.4L1049.1 942.3L1049.2 942.2L1049.5 941L1049.9 940.9L1051.8 941.1L1053.4 941.4L1053.7 940L1053.9 940L1054.2 941.2L1055.4 940.3L1057 939.7L1057 939.7L1057.3 940.9L1057.5 940.9L1057.8 939.4L1060 939.8L1061.6 939.4L1061.9 938.1L1062.1 938L1062.4 939.1L1064 937.5L1064.1 937.5L1065.6 937.3L1065.9 938.4L1066.1 938.4L1066.4 937.2L1067.8 937.6L1069.2 937.6L1069.3 937.5L1069.7 936.3L1069.8 936.1L1070.1 936.8L1071.2 935.2L1072.8 933.4L1073.1 934.4L1073.3 934.3L1073.6 932.7L1074.3 932.1L1076 932.1L1077.5 931.8L1077.9 932.7L1078 932.7L1078.3 931.7L1078.3 931.7L1079.2 932.5L1080.8 933.7L1081.1 935L1081.3 935.1L1081.4 934.9L1081.6 934.2L1083.8 934.9L1085.4 935.2L1085.5 935.1L1085.8 933.8L1085.9 933.6L1086.2 934.4L1087.1 932.9L1087.5 932.4L1088.7 932.8L1089 933.9L1089.1 934L1089.5 933.2L1090.5 933.9L1091.3 933.4L1092.9 931.4L1093.2 932.1L1093.3 931.9L1093.7 930.6L1095.6 928.8L1096.6 927.6L1097.2 927L1097.5 927.8L1097.7 927.7L1098 926.2L1099.2 925.8L1100.8 924.5L1101.1 922.9L1101.2 922.8L1101.5 923.7L1102.7 922.2L1103 921.9L1104.6 921.1L1104.9 919.9L1105.1 919.8L1105.4 920.6L1107.7 918.6L1107.8 918.6L1109.3 917.9L1109.6 916.6L1109.8 916.5L1110.1 917.4L1111.1 916.5L1112.4 915.9L1112.7 916L1113 914.9L1113.2 914.9L1113.5 916.2L1115 916.3L1116.6 917.1L1116.9 915.9L1117 916L1117.4 917.3L1118 917.3L1119.3 918.2L1120.9 919.8L1121 919.5L1121.2 919.1L1121.4 919.3L1121.7 920.5L1123.6 921.9L1125.1 923L1125.2 923L1125.5 924.1L1125.7 924.1L1126 923L1126.9 923.6L1128.5 924L1128.8 922.9L1128.9 922.9L1129.3 924L1130.2 923.7L1130.6 923.1L1132.2 921.6L1132.5 920.3L1132.7 920.1L1133 920.7L1133.2 920.3L1135 917.3L1136.6 914.6L1136.9 915.5L1137.1 915.2L1137.4 913.5L1138.3 912.3L1139.6 911L1141.2 909.4L1141.3 909.7L1141.5 910.3L1141.7 910.2L1142 909L1142.5 909.7L1144 909.2L1144.4 907.9L1144.5 907.8L1144.8 908.8L1147.2 907.6L1147.4 907.5L1148.8 905.9L1149.1 904.5L1149.2 904.2L1149.5 904.8L1150.6 903L1151.5 902L1152.2 902L1152.5 900.6L1152.7 900.6L1153 901.7L1154.5 901.1L1155.1 901.2L1156.7 901.7L1157 900.6L1157.2 900.6L1157.5 901.9L1158.4 901.9L1158.6 902L1159.9 902L1160.3 900.8L1160.4 900.7L1160.7 901.9L1162.6 901.4L1163.7 901.4L1164.2 901.5L1164.5 900.4L1164.6 900.5L1165 901.6L1167.2 901.3L1167.5 901.1L1168.1 900.8L1169.1 901.4L1169.4 902.6L1169.5 902.7L1169.9 902L1170.8 903.3L1172.2 904.6L1172.4 904.6L1172.7 903.6L1172.8 903.5L1173.2 904.5L1174.6 903.9L1176.2 904L1176.5 903L1176.6 902.9L1177 903.8L1178.3 903.5L1179.2 905L1180.3 907.1L1180.8 906.8L1181.1 905.7L1181.2 905.6L1181.6 906.3L1183.4 904.9L1185 903.9L1185.3 902.7L1185.4 902.6L1185.4 902.6L1185.8 903.8L1186.3 903.9L1187.9 905.2L1188.2 904.2L1188.3 904.3L1188.7 905.6L1190.5 906.2L1191 906.4L1192.6 907.1L1192.9 908.3L1193.1 908.4L1193.4 907.6L1194.2 908.3L1194.5 908.5L1195.8 907.8L1196.1 908.8L1196.3 908.8L1196.6 907.5L1198.6 907L1198.7 907.1L1200.3 908.2L1200.6 909.5L1200.8 909.7L1201.1 908.8L1201.7 909.3L1203.2 909.4L1204.8 909.4L1205.2 910.3L1205.3 910.3L1205.6 909.4L1206.4 909.4L1206.7 909.4L1208 908.4L1208.3 909.4L1208.4 909.3L1208.8 907.9L1209.8 907.6L1210.9 908.2L1212.5 908.7L1212.8 907.8L1213 907.8L1213.3 908.8L1214.3 908.1L1215.9 908.3L1216.2 909.6L1216.3 909.7L1216.7 908.5L1217.9 909.1L1219 908.8L1220.6 908L1220.9 906.9L1221.1 906.8L1221.4 907.5L1222 907.1L1222.2 907L1223.8 907.3L1224.1 906L1224.3 906.1L1224.6 907.3L1226.8 906.6L1227.1 906.6L1228.4 904.9L1228.7 905.6L1228.9 905.4L1229.2 904.1L1230.1 903.7L1230.4 903.5L1232 901.9L1232.3 900.6L1232.5 900.4L1232.8 901L1233.2 900.5L1234.6 900.5L1236.2 900.8L1236.5 902L1236.7 902.1L1237 901.1L1237.2 901.2L1238 901.1L1239.6 900.7L1239.9 901.9L1240.1 901.9L1240.4 900.6L1242 901.1L1243.3 901.1L1243.6 900.9L1243.9 899.6L1244 899.5L1244.4 900.3L1246.5 898.2L1248.1 897.2L1248.4 896.1L1248.4 896.1L1248.6 896.2L1248.9 897.4L1249.8 898.2L1250.4 898.7L1251.4 901.3L1251.8 901L1251.9 901.4L1252 901.6L1252.2 902.8L1254.5 903.3L1254.7 903.2L1256.3 903.1L1256.6 902L1256.7 902L1257.1 902.9L1258.1 902.6L1259.6 902.2L1259.7 902.3L1260 901.3L1260.2 901.4L1260.5 902.8L1262.2 903.6L1263.6 904.7L1263.8 904.8L1264.1 903.6L1264.2 903.7L1264.6 905L1265.7 904.5L1267.3 904.6L1267.6 905.8L1267.7 905.9L1267.8 906L1268.1 905.8L1269.7 910.9L1270.2 911.3L1271.8 912.2L1272.1 913.5L1272.3 913.6L1272.6 912.7L1272.8 913L1273.8 913.5L1275.4 913.1L1275.8 911.7L1275.9 911.7L1276.2 912.9L1277.9 911.8L1278.5 911.8L1280.1 912.5L1280.4 913.6L1280.6 913.7L1280.9 912.9L1281.7 912.8L1283.3 911.7L1283.6 910.5L1283.8 910.3L1284.1 911L1285 909.9L1286.4 909.9L1288 910.2L1288.3 911.5L1288.5 911.5L1288.8 910.4L1290 911.7L1290.2 911.6L1291.8 910.3L1292.1 908.9L1292.2 908.8L1292.6 909.6L1293.6 907.9L1294.1 907.4L1295.2 907.5L1295.5 908.4L1295.7 908.4L1296 907.5L1297.5 908.4L1299.1 908.7L1299.2 908.4L1299.4 908.3L1299.6 908.7L1299.9 910.7L1301.7 915.3L1301.8 915.3L1303.4 916L1303.7 917.4L1303.9 917.5L1304.2 916.6L1305.3 918.1L1305.5 918.3L1307.1 918.6L1307.4 917.4L1307.5 917.4L1307.9 918.7L1309.7 918.6L1311.3 918.9L1311.4 918.6L1311.6 917.9L1311.8 918L1312.1 919.4L1313.8 919.8L1315.4 920.7L1315.7 922.1L1315.9 922.2L1316.2 921.2L1316.5 921.5L1317.4 922.3L1319 923.3L1319.3 924.6L1319.5 924.7L1319.8 923.8L1321.5 925.6L1322.4 927.8L1324 931.3L1324.3 931L1324.5 931.3L1324.6 932L1324.8 932.8L1326.4 934.4L1328 936L1328.3 935.3L1328.5 935.4L1328.7 936.3L1328.8 936.8L1330.2 938.5L1331.8 940.3L1332.2 939.5L1332.3 939.7L1332.6 941.2L1332.7 941.3L1334 942.4L1335.6 944.1L1335.9 943.3L1336 943.5L1336.4 944.9L1336.8 945.3L1338.4 944.9L1340 945.3L1340.3 944.3L1340.4 944.3L1340.8 945.3L1340.9 945.3L1341.9 945.9L1343.5 946.9L1343.8 946L1343.9 946.1L1344.2 947.4L1345.9 948.3L1346.2 948.4L1347.8 948.9L1348.1 947.8L1348.2 947.8L1348.6 949.1L1349.2 949L1350 949.3L1350.8 948.8L1351.1 947.7L1351.2 947.6L1351.6 948.3L1353 946.7L1353.5 946.6L1355.1 946.4L1355.4 947.4L1355.6 947.4L1355.9 946.4L1357.1 947.1L1357.2 947.2L1358.7 948.8L1359.1 947.8L1359.2 948L1359.5 949.4L1360.2 949.8L1362.2 950.5L1363.8 951.7L1364.1 950.8L1364.3 950.9L1364.6 952.1L1365.2 952L1366 951.3L1367.6 950.6L1368 951.4L1368.1 951.4L1368.4 950.3L1369.3 950.6L1369.4 950.8L1371 952.8L1371.3 952.3L1371.5 952.5L1371.8 953.8L1372.4 954.3L1373.8 954.6L1375.4 955.7L1375.7 954.9L1375.9 955L1376.2 956L1377.3 956.4L1378.5 956.9L1378.9 956.9L1379.2 956L1379.4 956L1379.7 956.9L1381.4 956.3L1383 956L1383.3 957.2L1383.4 957.2L1383.8 956L1385.1 956.1L1385.6 956.1L1386.7 955.1L1387 955.9L1387.2 955.7L1387.5 954.4L1389 953.1L1389.1 953L1390.6 954.7L1390.9 956.3L1391.1 956.5L1391.4 955.7L1391.7 956.1L1393.9 957.2L1395.5 957.7L1395.8 956.9L1396 956.9L1396.3 957.9L1396.7 957.9L1397.3 958.3L1398.9 960.2L1399.2 959.3L1399.4 959.5L1399.7 961L1400.2 961.3L1401.9 964.4L1403.2 967.1L1403.5 966.9L1403.8 968L1404 967.9L1404.3 966.6L1405.9 967L1407.3 966.6L1407.5 966.3L1407.8 964.6L1408 964.3L1408.3 965.1L1409.2 963.1L1410.8 960.2L1411.1 961L1411.3 960.7L1411.3 960.3L1411.6 959.3L1413.6 959.5L1415.2 959.3L1415.5 958.1L1415.6 958L1416 959.1L1416.4 958.6L1417.2 958L1418.8 957.6L1419.1 958.6L1419.2 958.6L1419.6 957.5L1421 957.3L1422.6 957L1422.9 958.1L1423.1 958.1L1423.4 956.9L1423.5 956.9L1425.5 958.5L1427.1 959.7L1427.4 961L1427.5 961.1L1427.9 960.3L1428.1 960.5L1429.8 960.4L1431.4 960.1L1431.7 960.9L1431.8 960.9L1432.2 959.9L1432.8 960.6L1434.4 960.5L1434.7 959.3L1434.7 959.3L1434.8 959.2L1435.2 960.3L1437.8 958.4L1438.8 958L1439.4 958.1L1439.7 959.1L1439.8 959.2L1440.2 958.2L1441.7 959.2L1443.3 959.7L1443.7 958.8L1443.8 958.8L1444.1 959.9L1445.5 959.9L1446.9 960.4L1447.1 960.4L1447.4 959.3L1447.5 959.3L1447.9 960.2L1449.2 959.6L1450.8 959.6L1451.1 958.6L1451.2 958.6L1451.6 959.4L1452 959.1L1452.7 959.6L1454.3 961.6L1454.6 963.1L1454.8 963.3L1455.1 962.7L1456 964.2L1457.1 964.4L1458.7 964L1459 965.1L1459.2 965.1L1459.5 964L1461 964L1462.6 964L1462.9 965.1L1463 965.1L1463.4 964L1465.2 964.2L1465.4 964.4L1467 965.4L1467.3 966.7L1467.5 966.8L1467.8 966L1469.2 967.2L1469.5 967.3L1471.1 967.3L1471.4 968.5L1471.5 968.5L1471.9 967.4L1473.2 967.8L1474.8 967.9L1475.1 968.8L1475.2 968.8L1475.5 968L1476.7 968.9L1477.4 969.1L1478.3 969.2L1478.6 968.1L1478.8 968.2L1479.1 969.3L1481.5 968.7L1483.1 968.8L1483.4 969.9L1483.6 969.9L1483.9 968.9L1485.3 969.3L1485.5 969.3L1486.9 969.7L1487.2 970.6L1487.3 970.7L1487.7 969.9L1488.7 970.8L1490.3 971.7L1490.6 970.7L1490.8 970.7L1491.1 972L1491.6 972.1L1493.4 972.9L1495 973.8L1495.3 972.9L1495.5 973L1495.8 974.2L1496.7 974.3L1497.7 975.1L1498.2 975.3L1498.6 974.3L1498.7 974.3L1499 975.5L1501.4 975L1503 975.4L1503.3 976.4L1503.4 976.4L1503.8 975.6L1504.8 976.4L1505.2 976.9L1506.8 978.1L1507.1 977.4L1507.2 977.5L1507.6 978.7L1508.9 979.3L1509.3 979.9L1510.9 982.1L1511.2 983.6L1511.3 983.9L1511.7 983.4L1511.9 984L1512.9 985.4L1514.5 986.6L1514.8 985.6L1515 985.7L1515.3 986.6L1516.7 985.2L1518 984.3L1518.3 984.3L1518.6 983.4L1518.8 983.4L1519.1 984.5L1520.3 983.8L1521.1 983.9L1521.9 984.3L1522.2 985.7L1522.4 985.8L1522.7 984.8L1524.3 986.8L1525.1 987.3L1525.9 988L1526.2 987.3L1526.4 987.5L1526.7 988.7L1528.5 990.1L1529.2 990.8L1530.1 990.5L1530.5 989.2L1530.6 989.1L1530.9 990.1L1532.2 989.2L1533.2 989.3L1534.8 990.1L1535.1 989.2L1535.2 989.2L1535.6 990.4L1536.7 990.1L1537.3 990.1L1538.2 989.8L1538.5 990.9L1538.7 990.9L1539 989.8L1540.7 990.5L1542.3 990.4L1542.4 990L1542.6 989.3L1542.8 989.3L1543.1 990.2L1544.8 988.2L1546.4 987.2L1546.7 991L1546.9 990.9L1547.2 987L1548 986.7L1548.5 985.9L1549.6 984L1549.9 992.1L1550 992L1550.4 983.5L1552.2 983.5L1552.6 983L1553.8 981.3L1554.1 989.6L1554.3 989.4L1554.6 980.7L1556.3 985.9L1556.6 986L1557.9 986.8L1558.2 978.4L1558.4 978.4L1558.7 986.8L1560.8 980.4L1562.3 978.4L1562.7 987.1L1562.7 987.1L1562.8 987.2L1563.1 978.6L1564.2 985.9L1565.8 988L1566.1 979L1566.3 979L1566.6 988.4L1567.8 985.7L1568.6 983.1L1570.2 981.4L1570.5 986.1L1570.7 986.1L1571 981.1L1572.2 983.5L1572.9 983L1573.8 982.4L1574.1 980.6L1574.2 980.5L1574.5 981.8L1576.4 979.3L1578 978L1578.3 979.4L1578.5 979.2L1578.8 977.3L1580.2 977.3L1581.8 976.4L1582.1 973.7L1582.3 973.5L1582.6 975.7L1583 974.4L1583.9 972L1585.5 969.6L1585.8 974.6L1586 974.5L1586.3 968.9L1588.1 967.9L1588.7 967.9L1590.3 966.5L1590.6 971.9L1590.7 971.9L1591.1 966.2L1592.1 970L1593.2 970.6L1593.7 970.8L1594 964.1L1594.2 963.9L1594.5 970.3L1596.8 964.8L1598.3 962.8L1598.3 962.8L1598.7 968.9L1598.8 968.9L1599.2 962.9L1599.6 964.2L1601.2 963L1601.5 969.2L1601.7 969.3L1602 963.1L1603.4 965.8L1604.7 967.9L1606.3 968.4L1606.6 961.2L1606.8 961.1L1607.1 968.1L1607.8 966.2L1608.5 966.4L1609.4 966L1609.7 960.3L1609.9 960.1L1610.2 965.2L1612 962.4L1612.6 962.5L1614.2 964L1614.5 960.6L1614.6 960.8L1615 964.6L1615.5 963.8L1615.6 963.8L1617.1 967.3L1617.4 967L1617.6 967.4L1617.9 969.1L1619 971.1L1619.7 971.3L1621.3 972.1L1621.5 972.7L1621.7 973.1L1621.8 972.9L1622.1 971.5L1623.9 970L1624 969.9L1625.5 969.4L1625.8 970.1L1626 970.1L1626.3 969.2L1628.5 968.9L1630.1 968.2L1630.4 969.1L1630.5 969L1630.8 968.2L1630.9 967.9L1631.6 967.7L1633.2 967.3L1633.5 968.1L1633.7 968.1L1634 967.1L1635.9 966.5L1637.5 965.9L1637.8 966.9L1638 966.9L1638.3 965.7L1639.3 965.7L1640.3 965.7L1641.9 965.2L1642.3 964L1642.4 964L1642.7 964.9L1644.2 963.5L1645.2 962.9L1645.8 962.8L1646.1 964L1646.3 964L1646.6 962.8L1648 963.8L1649.6 963.9L1649.9 962.7L1650 962.7L1650.4 963.9L1651.3 963L1652 962.9L1652.9 963.5L1653.2 965L1653.4 965.1L1653.7 964.1L1655.4 965.5L1656 965.6L1657.6 965.3L1658 966.2L1658.1 966.2L1658.4 965.2L1660.4 965.3L1660.4 965.3L1662 964.3L1662.3 965.3L1662.4 965.3L1662.8 963.9L1663.3 964.7L1664.9 964L1665.2 962.8L1665.4 962.8L1665.7 963.7L1666.4 963.3L1668.3 961.8L1669.9 961.2L1670.3 959.8L1670.4 959.7L1670.7 960.7L1671 960.2L1671.8 959.6L1673.4 959.4L1673.7 962.6L1673.8 962.7L1674.2 959.7L1675.4 960.3L1675.7 960.2L1677 960.2L1677.3 964.7L1677.5 964.8L1677.8 960.6L1679.4 964.7L1681 966.4L1681.3 961L1681.4 961.1L1681.6 964.1L1681.8 966.7L1683.4 965.3L1685 966.6L1685.3 961.2L1685.4 961.2L1685.8 966.6L1687.2 963.2L1688.8 962.1L1689.2 966.9L1689.3 966.8L1689.6 962L1690.9 964.1L1691 964.2" stroke="#0858a0" stroke-width="2.5" fill="none" stroke-linejoin="bevel"/>
<use href="#cb" x="372.6" y="930.5"/>
<use href="#cb" x="483.2" y="978.5"/>
<use href="#cb" x="626" y="882.5"/>
<use href="#cb" x="746.5" y="954.5"/>
<use href="#cb" x="853" y="882.5"/>
<use href="#cb" x="1040.5" y="906.5"/>
<use href="#cb" x="1095" y="834.5"/>
<use href="#cb" x="1239" y="954.5"/>
<use href="#cb" x="1413.6" y="930.5"/>
<use href="#cb" x="1488.8" y="954.5"/>
<use href="#cb" x="1604.5" y="930.5"/>
<path d="M301.5 889.9L315.9 914.8L287.1 914.8Z" fill="#f781bf" stroke="#0858a0" stroke-width="1.6" stroke-linejoin="miter"/>
<path d="M301.5 913.9L315.9 938.8L287.1 938.8Z" fill="#f781bf" stroke="#0858a0" stroke-width="1.6" stroke-linejoin="miter"/>
<path d="M301.5 937.9L315.9 962.8L287.1 962.8Z" fill="#f781bf" stroke="#0858a0" stroke-width="1.6" stroke-linejoin="miter"/>
</g>
<path d="M367.5 90.5v14.5M367.5 1050.5v-15.5M478.5 90.5v14.5M478.5 1050.5v-15.5M601.5 90.5v14.5M601.5 1050.5v-15.5M720.5 90.5v14.5M720.5 1050.5v-15.5M843.5 90.5v14.5M843.5 1050.5v-15.5M963.5 90.5v14.5M963.5 1050.5v-15.5M1086.5 90.5v14.5M1086.5 1050.5v-15.5M1209.5 90.5v14.5M1209.5 1050.5v-15.5M1328.5 90.5v14.5M1328.5 1050.5v-15.5M1451.5 90.5v14.5M1451.5 1050.5v-15.5M1571.5 90.5v14.5M1571.5 1050.5v-15.5M243.5 930.5h16.5M1694.5 930.5h-16.5M243.5 810.5h16.5M1694.5 810.5h-16.5M243.5 690.5h16.5M1694.5 690.5h-16.5M243.5 570.5h16.5M1694.5 570.5h-16.5M243.5 449.5h16.5M1694.5 449.5h-16.5M243.5 329.5h16.5M1694.5 329.5h-16.5M243.5 209.5h16.5M1694.5 209.5h-16.5" stroke="#262626" stroke-width="3" fill="none"/>
<rect x="243.5" y="90.5" width="1451" height="960" fill="none" stroke="#262626" stroke-width="3"/>
<g font-size="37.5" fill="#262626" text-anchor="end">
<text transform="translate(227.5 1063.7) scale(1 1.055)">0</text>
<text transform="translate(227.5 943.7) scale(1 1.055)">0.005</text>
<text transform="translate(227.5 823.7) scale(1 1.055)">0.01</text>
<text transform="translate(227.5 703.7) scale(1 1.055)">0.015</text>
<text transform="translate(227.5 583.7) scale(1 1.055)">0.02</text>
<text transform="translate(227.5 462.7) scale(1 1.055)">0.025</text>
<text transform="translate(227.5 342.7) scale(1 1.055)">0.03</text>
<text transform="translate(227.5 222.7) scale(1 1.055)">0.035</text>
<text transform="translate(227.5 103.7) scale(1 1.055)">0.04</text>
</g>
<g font-size="36.9" fill="#262626" text-anchor="end">
<text transform="translate(258.9 1098.6) rotate(-30) scale(1 1.055)">01/01/21</text>
<text transform="translate(382.9 1098.6) rotate(-30) scale(1 1.055)">01/02/21</text>
<text transform="translate(493.9 1098.6) rotate(-30) scale(1 1.055)">01/03/21</text>
<text transform="translate(616.9 1098.6) rotate(-30) scale(1 1.055)">01/04/21</text>
<text transform="translate(735.9 1098.6) rotate(-30) scale(1 1.055)">01/05/21</text>
<text transform="translate(858.9 1098.6) rotate(-30) scale(1 1.055)">01/06/21</text>
<text transform="translate(978.9 1098.6) rotate(-30) scale(1 1.055)">01/07/21</text>
<text transform="translate(1101.9 1098.6) rotate(-30) scale(1 1.055)">01/08/21</text>
<text transform="translate(1224.9 1098.6) rotate(-30) scale(1 1.055)">01/09/21</text>
<text transform="translate(1343.9 1098.6) rotate(-30) scale(1 1.055)">01/10/21</text>
<text transform="translate(1466.9 1098.6) rotate(-30) scale(1 1.055)">01/11/21</text>
<text transform="translate(1586.9 1098.6) rotate(-30) scale(1 1.055)">01/12/21</text>
<text transform="translate(1709.9 1098.6) rotate(-30) scale(1 1.055)">01/01/22</text>
</g>
<text x="969" y="78" font-size="41.25" font-weight="bold" text-anchor="middle" fill="#000">CS Region</text>
<text transform="translate(122 570.5) rotate(-90)" font-size="41.25" text-anchor="middle" fill="#262626">Phosphate (mg/L)</text>
<rect x="1748.5" y="87.5" width="435" height="363" fill="#fff" stroke="#262626" stroke-width="3"/>
<rect x="1761" y="102" width="126" height="22" fill="#b2d4e8"/>
<rect x="1761" y="142" width="126" height="22.5" fill="#edf2fa"/>
<rect x="1761" y="183" width="126" height="22" fill="#fcc4ae"/>
<rect x="1761" y="223" width="126" height="23" fill="#fdf0e2"/>
<path d="M1761 270.4H1887" stroke="#b0521c" stroke-width="3"/>
<use href="#cs" x="1823.5" y="302.4"/>
<path d="M1823.5 316.8L1837.9 341.7L1809.1 341.7Z" fill="#f781bf" stroke="#b0521c" stroke-width="1.6" stroke-linejoin="miter"/>
<path d="M1761 365.4H1887" stroke="#0858a0" stroke-width="3"/>
<use href="#cb" x="1823.5" y="397.4"/>
<path d="M1823.5 412.8L1837.9 437.7L1809.1 437.7Z" fill="#f781bf" stroke="#0858a0" stroke-width="1.6" stroke-linejoin="miter"/>
<text transform="translate(1896.5 126.9) scale(1 1.055)" font-size="25" fill="#000">csiem1.7.0 (Bot 25<tspan font-size="20.8" dy="-11.6">th</tspan><tspan dy="11.6">-75</tspan><tspan font-size="20.8" dy="-11.6">th</tspan><tspan dy="11.6">)</tspan></text>
<text transform="translate(1896.5 166.9) scale(1 1.055)" font-size="25" fill="#000">csiem1.7.0 (Bot 5<tspan font-size="20.8" dy="-11.6">th</tspan><tspan dy="11.6">-95</tspan><tspan font-size="20.8" dy="-11.6">th</tspan><tspan dy="11.6">)</tspan></text>
<text transform="translate(1896.5 207.3) scale(1 1.055)" font-size="25" fill="#000">csiem1.7.0 (Surf 25<tspan font-size="20.8" dy="-11.6">th</tspan><tspan dy="11.6">-75</tspan><tspan font-size="20.8" dy="-11.6">th</tspan><tspan dy="11.6">)</tspan></text>
<text transform="translate(1896.5 247.6) scale(1 1.055)" font-size="25" fill="#000">csiem1.7.0 (Surf 5<tspan font-size="20.8" dy="-11.6">th</tspan><tspan dy="11.6">-95</tspan><tspan font-size="20.8" dy="-11.6">th</tspan><tspan dy="11.6">)</tspan></text>
<text transform="translate(1896.5 279.4) scale(1 1.055)" font-size="25" fill="#000">csiem1.7.0 (Surf Median)</text>
<text transform="translate(1896.5 311.4) scale(1 1.055)" font-size="25" fill="#000">DWER-CSMWQ (Surf)</text>
<text transform="translate(1896.5 343.4) scale(1 1.055)" font-size="25" fill="#000">FPA-MQMP (Surf)</text>
<text transform="translate(1896.5 375.1) scale(1 1.055)" font-size="25" fill="#000">csiem1.7.0 (Bot Median)</text>
<text transform="translate(1896.5 406.5) scale(1 1.055)" font-size="25" fill="#000">DWER-CSMWQ (Bot)</text>
<text transform="translate(1896.5 438.5) scale(1 1.055)" font-size="25" fill="#000">FPA-MQMP (Bot)</text>
<rect x="1747" y="768" width="265" height="262" fill="#fff" stroke="#000" stroke-width="2"/>
<g font-size="25" fill="#000" style="white-space:pre">
<text x="1768.5" y="802.5" font-weight="bold">Model skill metrics:</text>
<text transform="translate(1781 832) scale(1 1.055)" xml:space="preserve">R    = 0.5073</text>
<text transform="translate(1781 861.1) scale(1 1.055)" xml:space="preserve">BIAS = -10.13%</text>
<text transform="translate(1781 890.1) scale(1 1.055)" xml:space="preserve">MAE  = 0.0008</text>
<text transform="translate(1781 919.2) scale(1 1.055)" xml:space="preserve">RMS  = 0.0012</text>
<text transform="translate(1781 948.3) scale(1 1.055)" xml:space="preserve">NMAE = 18.55%</text>
<text transform="translate(1781 977.4) scale(1 1.055)" xml:space="preserve">NRMS = 29.58%</text>
<text transform="translate(1781 1006.5) scale(1 1.055)" xml:space="preserve">MEF  = 0.0782</text>
</g>
</svg>
</body></html>
